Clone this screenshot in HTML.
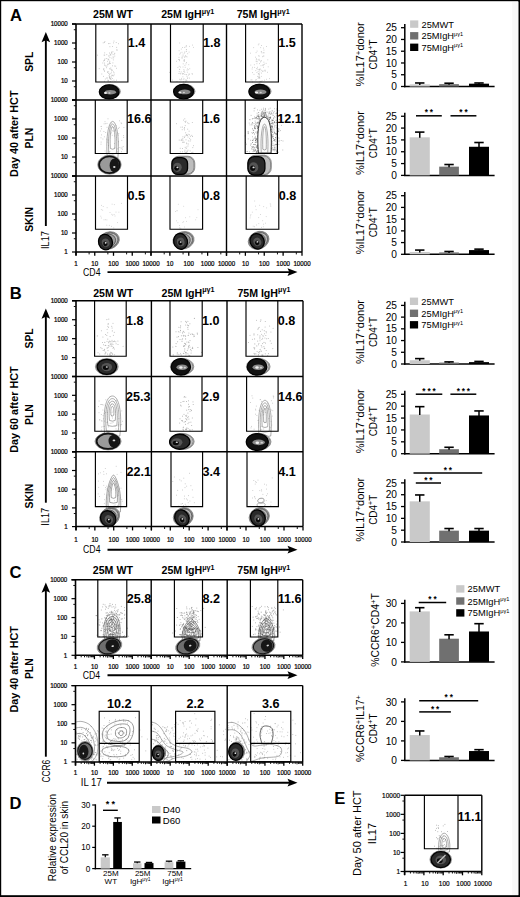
<!DOCTYPE html>
<html><head><meta charset="utf-8"><style>
html,body{margin:0;padding:0;background:#fff;}
svg{display:block;font-family:"Liberation Sans",sans-serif;}
</style></head><body>
<svg width="520" height="897" viewBox="0 0 520 897">
<rect width="520" height="897" fill="#fff"/>
<rect x="0" y="0" width="520" height="1.2" fill="#000"/>
<path d="M114.2 74.8h.01M114.8 56.1h.01M104.6 71.1h.01M109.1 75.6h.01M109.8 77.0h.01M109.5 63.4h.01M109.0 63.8h.01M108.7 73.4h.01M110.3 79.1h.01M118.6 43.7h.01M113.9 80.2h.01M109.8 61.4h.01M109.9 43.5h.01M113.1 54.6h.01M104.7 55.2h.01M110.8 55.1h.01M109.9 57.6h.01M113.4 42.9h.01M111.7 70.8h.01M104.7 52.9h.01M116.9 49.6h.01M108.6 59.4h.01M107.9 80.1h.01M102.8 63.0h.01M111.9 58.2h.01M103.8 68.9h.01M114.7 66.0h.01M103.8 69.0h.01M111.9 75.8h.01M109.6 62.7h.01M111.3 72.8h.01M113.5 71.9h.01M106.0 66.2h.01M112.0 75.2h.01M105.0 65.5h.01M108.5 43.6h.01M115.0 81.5h.01M110.7 69.1h.01M107.1 65.9h.01M110.5 81.5h.01M109.6 77.8h.01M104.1 55.1h.01M99.2 68.6h.01M108.1 64.4h.01M108.4 80.7h.01M114.0 41.1h.01M110.6 78.6h.01M101.8 74.0h.01M110.8 68.0h.01M104.5 63.1h.01M116.6 68.3h.01M111.8 53.6h.01M104.4 60.4h.01M108.9 60.0h.01M103.6 69.8h.01M107.7 64.3h.01M111.8 52.5h.01M109.5 68.8h.01M113.6 75.8h.01M103.5 76.4h.01M108.7 71.8h.01M116.7 47.4h.01M109.7 74.5h.01M109.1 55.9h.01M113.3 59.9h.01M112.6 46.5h.01M111.6 52.1h.01M113.1 56.9h.01M107.9 59.0h.01M104.7 64.9h.01M112.9 62.9h.01M109.6 53.0h.01M115.7 66.2h.01M114.4 54.0h.01M103.2 42.8h.01M104.5 42.5h.01M112.9 51.7h.01M114.1 72.9h.01M106.8 54.6h.01M104.5 81.3h.01M110.4 54.7h.01M104.4 71.0h.01M104.9 59.0h.01M112.2 70.4h.01M112.1 81.1h.01M110.2 78.3h.01M106.3 58.5h.01M116.4 80.2h.01M108.8 56.0h.01M104.9 41.5h.01M109.8 76.5h.01M108.2 80.9h.01M106.8 78.0h.01M108.0 81.2h.01M107.6 61.3h.01M104.4 60.0h.01M110.6 63.4h.01M114.8 53.3h.01M113.7 57.9h.01M112.6 65.8h.01M105.3 79.0h.01M116.2 42.5h.01M110.1 81.6h.01M112.4 75.4h.01M107.5 71.9h.01M111.3 77.1h.01M112.3 78.5h.01M107.5 72.3h.01M97.4 55.2h.01M110.1 73.5h.01M111.1 79.3h.01M110.2 54.2h.01M109.3 77.2h.01M103.6 60.9h.01M107.2 78.0h.01M111.8 69.5h.01M117.0 50.4h.01M106.6 67.7h.01M109.9 46.7h.01M109.7 78.0h.01" stroke="#bdbdbd" stroke-width="0.9" stroke-linecap="round" fill="none"/>
<ellipse cx="109.85" cy="91.5" rx="10.55" ry="6.9" fill="#e2e2e2" stroke="#777" stroke-width="0.7"/>
<ellipse cx="109.85" cy="91.5" rx="9.85" ry="6.57" fill="#bdbdbd" stroke="#555" stroke-width="0.6"/>
<ellipse cx="109.16" cy="91.94" rx="9.85" ry="7.01" fill="#111" stroke="#000" stroke-width="1.2"/>
<ellipse cx="110.34" cy="92.24" rx="5.72" ry="2.31" fill="#8a8a8a"/>
<ellipse cx="105.47" cy="92.96" rx="1.53" ry="1.02" fill="#f0f0f0"/>
<ellipse cx="109.41" cy="92.96" rx="1.09" ry="0.73" fill="#d0d0d0"/>
<path d="M193.4 47.4h.01M181.3 49.1h.01M187.3 72.2h.01M178.4 59.5h.01M179.7 69.4h.01M180.6 53.0h.01M180.4 73.9h.01M185.7 81.9h.01M188.8 64.7h.01M182.4 57.9h.01M184.9 65.4h.01M184.2 60.0h.01M177.9 67.5h.01M189.8 68.7h.01M184.1 60.2h.01M184.9 51.9h.01M169.5 72.4h.01M183.1 54.1h.01M189.6 74.2h.01M179.6 79.3h.01M184.6 61.3h.01M177.0 81.5h.01M186.3 74.8h.01M183.4 73.6h.01M179.2 66.3h.01M185.2 79.9h.01M176.5 61.3h.01M184.0 78.7h.01M187.6 68.9h.01M181.4 79.7h.01M183.2 55.9h.01M179.4 60.2h.01M183.2 79.4h.01M181.7 57.9h.01M186.9 80.8h.01M182.2 73.4h.01M179.2 71.6h.01M183.9 69.6h.01M183.0 67.0h.01M186.5 80.1h.01M182.9 76.8h.01M182.9 74.0h.01M186.2 74.5h.01M182.6 47.5h.01M182.2 56.2h.01M181.4 78.4h.01M187.8 77.8h.01M187.0 56.9h.01M186.0 63.9h.01M192.0 73.7h.01M187.7 53.7h.01M184.8 72.3h.01M192.6 45.1h.01M188.9 74.1h.01M187.0 76.6h.01M184.4 53.0h.01M186.5 62.5h.01M189.6 46.4h.01M186.3 45.9h.01M183.9 61.0h.01M179.1 50.7h.01M179.6 60.7h.01M188.3 75.2h.01M184.8 74.4h.01M189.5 78.1h.01M180.1 73.3h.01M181.2 71.9h.01M184.5 59.9h.01M187.5 78.4h.01M186.6 51.5h.01M180.6 67.1h.01M182.0 52.3h.01M187.0 70.2h.01M183.2 63.8h.01M189.1 52.1h.01M184.6 47.4h.01M186.3 49.7h.01M184.5 71.1h.01M172.6 80.1h.01M183.4 81.8h.01M184.5 57.2h.01M188.3 69.7h.01M178.9 73.5h.01M179.0 57.4h.01M179.7 43.0h.01M186.3 45.9h.01M182.4 73.9h.01M185.1 56.8h.01M186.1 56.4h.01M185.5 55.7h.01M179.6 59.6h.01M183.4 71.3h.01M186.0 81.0h.01M192.5 74.1h.01M179.6 69.4h.01M185.9 47.0h.01M179.8 54.1h.01M186.4 49.6h.01M185.2 67.3h.01M180.4 79.8h.01" stroke="#c6c6c6" stroke-width="0.9" stroke-linecap="round" fill="none"/>
<ellipse cx="184.3" cy="91.3" rx="10.7" ry="7.1" fill="#e2e2e2" stroke="#777" stroke-width="0.7"/>
<ellipse cx="184.3" cy="91.3" rx="9.99" ry="6.75" fill="#bdbdbd" stroke="#555" stroke-width="0.6"/>
<ellipse cx="183.59" cy="91.66" rx="9.99" ry="7.2" fill="#111" stroke="#000" stroke-width="1.2"/>
<ellipse cx="184.79" cy="91.96" rx="5.79" ry="2.38" fill="#8a8a8a"/>
<ellipse cx="179.86" cy="92.5" rx="1.55" ry="1.05" fill="#f0f0f0"/>
<ellipse cx="183.86" cy="92.5" rx="1.11" ry="0.75" fill="#d0d0d0"/>
<path d="M260.4 61.9h.01M265.0 70.1h.01M259.0 43.9h.01M259.0 77.3h.01M259.8 81.9h.01M262.9 65.6h.01M262.4 71.2h.01M256.1 52.6h.01M254.7 67.4h.01M254.0 74.4h.01M259.3 75.0h.01M258.7 69.7h.01M259.7 78.2h.01M261.0 65.7h.01M258.4 73.6h.01M251.9 79.8h.01M254.3 64.7h.01M264.4 80.2h.01M261.3 51.9h.01M258.8 55.7h.01M264.2 70.8h.01M259.1 59.3h.01M256.1 61.2h.01M259.8 69.5h.01M252.5 72.6h.01M255.6 80.0h.01M267.6 72.3h.01M250.4 53.2h.01M266.6 79.3h.01M252.1 69.0h.01M259.4 77.2h.01M257.3 69.1h.01M259.7 77.8h.01M261.4 81.7h.01M266.1 63.4h.01M263.8 52.6h.01M258.1 78.4h.01M266.6 46.5h.01M259.1 73.7h.01M259.2 60.4h.01M268.2 66.8h.01M252.4 82.0h.01M259.4 70.0h.01M261.5 45.5h.01M261.3 70.3h.01M263.9 52.9h.01M267.8 59.8h.01M262.1 80.8h.01M263.1 65.2h.01M257.6 67.3h.01M256.7 68.6h.01M255.8 70.6h.01M264.4 64.2h.01M258.3 73.8h.01M260.3 81.4h.01M263.4 67.3h.01M259.4 63.6h.01M259.8 69.3h.01M265.5 71.0h.01M260.7 47.6h.01M256.9 72.5h.01M256.8 61.3h.01M258.3 44.8h.01M253.7 47.6h.01M255.4 57.2h.01M250.8 65.1h.01M257.1 61.7h.01M258.1 59.7h.01M256.3 59.2h.01M263.9 62.2h.01M260.1 69.0h.01M259.1 74.3h.01M259.0 76.3h.01M262.6 56.7h.01M261.6 73.1h.01M263.9 50.1h.01M258.4 77.2h.01M263.2 64.5h.01M261.5 60.7h.01M258.1 71.6h.01M263.3 56.1h.01M257.1 51.1h.01M257.4 76.4h.01M259.5 77.4h.01M261.3 76.4h.01M263.0 71.3h.01M261.3 51.6h.01M256.5 58.9h.01M260.9 61.0h.01M256.9 63.7h.01M256.4 79.7h.01M262.0 52.9h.01M269.6 78.6h.01M260.3 81.6h.01M251.0 79.9h.01M263.9 56.0h.01M259.8 72.0h.01M252.4 67.3h.01M259.1 56.2h.01M263.5 48.1h.01" stroke="#c6c6c6" stroke-width="0.9" stroke-linecap="round" fill="none"/>
<ellipse cx="260" cy="91.3" rx="11.1" ry="7.1" fill="#e2e2e2" stroke="#777" stroke-width="0.7"/>
<ellipse cx="260" cy="91.3" rx="10.35" ry="6.75" fill="#bdbdbd" stroke="#555" stroke-width="0.6"/>
<ellipse cx="259.25" cy="91.66" rx="10.35" ry="7.2" fill="#111" stroke="#000" stroke-width="1.2"/>
<ellipse cx="260.49" cy="91.96" rx="6" ry="2.38" fill="#8a8a8a"/>
<ellipse cx="256.55" cy="92.5" rx="1.61" ry="1.05" fill="#f0f0f0"/>
<ellipse cx="260.69" cy="92.5" rx="1.15" ry="0.75" fill="#d0d0d0"/>
<path d="M105.7 123.7h.01M109.5 125.9h.01M101.6 134.9h.01M122.0 147.3h.01M118.4 128.5h.01M112.9 130.5h.01M104.1 123.8h.01M105.1 151.0h.01M119.9 147.5h.01M119.2 127.4h.01M107.4 142.1h.01M117.6 148.9h.01M121.1 122.9h.01M114.5 143.5h.01M112.1 126.8h.01M111.4 123.1h.01M122.4 149.2h.01M113.1 131.4h.01M121.8 140.4h.01M121.2 148.7h.01M112.2 135.3h.01M114.4 135.9h.01M103.9 131.5h.01M119.5 120.8h.01M101.1 142.1h.01M106.7 139.2h.01M111.3 132.9h.01M123.9 127.5h.01M109.9 127.8h.01M115.2 130.5h.01M108.5 145.7h.01M107.7 140.0h.01M121.7 123.6h.01M101.5 128.8h.01M118.4 141.7h.01M105.7 132.5h.01M104.3 136.8h.01M101.0 144.2h.01M121.5 151.7h.01M117.6 151.9h.01M100.4 131.0h.01M123.2 146.6h.01M109.9 151.4h.01M114.9 147.8h.01M107.0 127.3h.01M110.7 125.1h.01M109.2 151.9h.01M108.0 118.8h.01M101.1 126.5h.01M118.8 133.5h.01M107.0 123.4h.01M123.6 135.6h.01M105.0 121.7h.01M101.3 126.4h.01M116.2 125.7h.01M101.0 137.8h.01M106.0 152.9h.01M102.9 139.0h.01M118.6 135.1h.01M123.7 137.4h.01" stroke="#c4c4c4" stroke-width="1" stroke-linecap="round" fill="none"/>
<path d="M107.32,158 C105.47,136.04 108.97,121.4 112.6,121.4 C116.23,121.4 119.73,136.04 117.88,158 Q112.6,159.5 107.32,158 Z" fill="none" stroke="#767676" stroke-width="0.6"/>
<path d="M108.84,153.24 C107.52,135.7 110.01,124 112.6,124 C115.19,124 117.68,135.7 116.36,153.24 Q112.6,154.74 108.84,153.24 Z" fill="none" stroke="#767676" stroke-width="0.6"/>
<path d="M110.36,148.48 C109.58,135.35 111.06,126.6 112.6,126.6 C114.14,126.6 115.62,135.35 114.84,148.48 Q112.6,149.98 110.36,148.48 Z" fill="none" stroke="#767676" stroke-width="0.6"/>
<ellipse cx="109.45" cy="164.7" rx="11.75" ry="9.5" fill="#e2e2e2" stroke="#777" stroke-width="0.7"/>
<ellipse cx="109.45" cy="164.7" rx="10.93" ry="8.91" fill="#bdbdbd" stroke="#555" stroke-width="0.6"/>
<ellipse cx="109.45" cy="164.7" rx="10.33" ry="8.32" fill="#9a9a9a" stroke="#111" stroke-width="1.76"/>
<ellipse cx="114.31" cy="165.41" rx="4.68" ry="6.97" fill="#161616"/>
<ellipse cx="114.31" cy="167.08" rx="1.21" ry="0.99" fill="#d8d8d8"/>
<path d="M182.5 148.5h.01M182.6 151.8h.01M185.6 122.2h.01M179.2 140.1h.01M190.1 150.9h.01M184.5 127.5h.01M183.8 142.3h.01M186.4 143.1h.01M188.1 134.3h.01M186.2 151.2h.01M186.2 148.5h.01M184.2 128.7h.01M184.8 118.8h.01M184.9 150.2h.01M186.5 152.6h.01M188.0 150.2h.01M184.1 142.2h.01M193.4 145.7h.01M188.0 146.0h.01M192.9 152.3h.01M188.0 137.0h.01M184.4 129.9h.01M186.7 135.0h.01M186.9 143.8h.01M190.5 136.3h.01M186.1 135.3h.01M187.4 135.5h.01M182.9 140.6h.01M185.7 152.5h.01M185.0 121.6h.01M186.0 121.1h.01M180.2 148.3h.01M183.4 120.1h.01M188.9 123.6h.01M189.1 131.2h.01M192.8 147.6h.01M192.5 136.5h.01M182.9 136.8h.01M180.9 127.2h.01M185.2 147.4h.01M187.7 122.8h.01M180.3 151.8h.01M188.3 144.0h.01M187.5 151.3h.01M182.4 142.3h.01M191.8 135.4h.01M185.2 125.6h.01M187.7 129.2h.01M182.2 129.7h.01M176.6 123.7h.01M189.7 138.4h.01M185.7 132.8h.01M181.3 139.8h.01M182.9 138.8h.01M192.3 122.5h.01M188.3 140.9h.01M186.8 147.0h.01M184.7 151.9h.01M182.4 127.1h.01M182.1 139.2h.01M189.4 134.8h.01M190.7 139.8h.01M191.9 152.5h.01M186.0 139.8h.01M181.2 140.5h.01M186.4 134.7h.01M184.6 137.5h.01M187.0 152.8h.01M190.1 141.1h.01M184.9 136.3h.01" stroke="#b8b8b8" stroke-width="0.9" stroke-linecap="round" fill="none"/>
<rect x="171.9" y="156.2" width="22.9" height="18.4" rx="6.9" fill="#e2e2e2" stroke="#777" stroke-width="0.7"/>
<rect x="172.69" y="156.76" width="21.33" height="17.28" rx="6.48" fill="#bdbdbd" stroke="#555" stroke-width="0.6"/>
<rect x="171.9" y="157.53" width="15.64" height="16.9" rx="5.87" fill="#2a2a2a" stroke="#000" stroke-width="1.3"/>
<ellipse cx="177.43" cy="167.32" rx="4.3" ry="4.65" fill="#555"/>
<ellipse cx="176.64" cy="168.16" rx="2.35" ry="2.53" fill="#0a0a0a"/>
<ellipse cx="177.43" cy="167.32" rx="1.07" ry="0.86" fill="#ddd"/>
<path d="M268.0 133.2h.01M252.0 123.4h.01M274.8 132.6h.01M264.5 144.1h.01M256.1 123.9h.01M273.1 145.7h.01M263.6 135.4h.01M257.3 141.1h.01M267.6 145.8h.01M272.8 123.6h.01M268.0 147.3h.01M254.4 126.8h.01M275.0 145.8h.01M271.4 131.6h.01M268.4 139.3h.01M267.1 124.8h.01M273.4 120.5h.01M261.7 140.1h.01M254.1 149.7h.01M277.0 134.4h.01M257.8 145.9h.01M256.0 152.1h.01M271.0 138.0h.01M265.7 125.4h.01M261.9 148.6h.01M262.9 134.9h.01M272.2 125.7h.01M271.4 120.2h.01M260.7 120.9h.01M264.9 148.1h.01M264.1 144.8h.01M263.4 109.7h.01M257.0 138.7h.01M277.7 125.5h.01M259.5 116.6h.01M269.3 153.0h.01M271.4 143.6h.01M266.9 129.5h.01M269.7 152.3h.01M263.9 149.1h.01M257.4 131.6h.01M251.6 146.8h.01M266.9 132.6h.01M256.4 142.0h.01M262.0 143.6h.01M266.1 123.6h.01M252.3 119.0h.01M265.4 110.1h.01M271.2 127.9h.01M271.0 123.1h.01M249.2 123.1h.01M269.3 130.1h.01M271.5 123.7h.01M257.9 132.8h.01M260.7 128.6h.01M265.0 125.4h.01M266.6 140.2h.01M258.7 151.9h.01M270.5 138.0h.01M261.3 126.1h.01M258.0 145.4h.01M269.3 150.7h.01M264.3 131.7h.01M265.3 112.6h.01M276.3 115.8h.01M266.8 142.5h.01M253.8 147.6h.01M277.1 112.9h.01M270.5 138.4h.01M280.4 130.6h.01M267.1 133.5h.01M251.9 132.6h.01M269.9 117.6h.01M268.4 138.9h.01M261.4 139.0h.01M262.1 115.0h.01M272.4 132.3h.01M270.7 149.3h.01M257.0 116.6h.01M256.6 146.9h.01M272.9 149.8h.01M269.4 149.6h.01M270.5 141.6h.01M259.7 145.3h.01M275.4 149.7h.01M277.2 131.4h.01M265.9 124.1h.01M257.0 142.3h.01M276.1 152.2h.01M269.4 124.5h.01M267.2 147.8h.01M263.4 124.2h.01M271.8 150.2h.01M262.9 110.9h.01M275.6 139.4h.01M271.1 135.3h.01M268.7 128.3h.01M265.4 112.2h.01M276.4 151.2h.01M264.0 141.9h.01M262.9 143.0h.01M266.8 115.9h.01M257.0 133.6h.01M262.2 113.7h.01M272.1 110.8h.01M268.3 134.9h.01M267.8 117.9h.01M269.1 136.6h.01M260.7 121.5h.01M267.7 136.5h.01M270.7 118.6h.01M260.6 125.9h.01M265.1 145.1h.01M273.6 136.7h.01M266.9 128.8h.01M270.2 131.4h.01M245.1 135.9h.01M279.1 140.4h.01M262.4 145.8h.01M254.6 128.4h.01M255.1 118.6h.01M248.2 138.9h.01M262.6 111.4h.01M266.1 144.1h.01M272.8 115.1h.01M271.8 128.2h.01M273.1 145.1h.01M266.3 121.7h.01M250.0 124.9h.01M258.2 132.6h.01M262.2 118.8h.01M250.7 140.3h.01M267.0 152.4h.01M266.8 112.1h.01M274.7 140.9h.01M258.9 143.0h.01M261.1 131.5h.01M259.8 120.5h.01M272.2 145.2h.01M255.1 121.1h.01M260.0 145.3h.01M261.6 143.5h.01M275.5 141.2h.01M264.2 144.8h.01M272.3 110.9h.01M269.7 128.2h.01M277.1 110.6h.01M275.9 150.1h.01M271.6 146.9h.01M262.1 112.2h.01M265.1 113.2h.01M265.3 108.4h.01M265.9 137.5h.01M261.9 123.9h.01M269.4 119.5h.01M269.9 152.2h.01M257.5 136.4h.01M270.8 139.0h.01M259.0 117.2h.01M265.2 148.9h.01M267.2 146.0h.01M271.6 136.9h.01M276.6 134.4h.01M260.4 116.2h.01M257.9 148.0h.01M260.1 135.1h.01M260.1 132.6h.01M252.5 147.2h.01M267.8 150.1h.01M262.1 148.2h.01M268.4 122.9h.01M259.5 117.0h.01M255.0 128.0h.01M274.5 108.7h.01M263.5 138.8h.01M267.2 144.4h.01M267.2 128.8h.01M263.2 116.6h.01M275.8 134.7h.01M257.4 151.3h.01M252.5 133.4h.01M263.0 128.1h.01M277.9 137.6h.01M264.0 148.2h.01M257.1 113.2h.01M254.4 116.9h.01M271.9 142.6h.01M270.5 118.1h.01M261.1 141.3h.01M264.4 144.9h.01M281.2 140.5h.01M274.6 116.5h.01M262.1 142.9h.01M267.8 150.0h.01M266.5 139.1h.01M268.5 147.9h.01M264.0 115.7h.01M256.8 138.5h.01M252.4 136.8h.01M268.0 143.1h.01M274.2 149.8h.01M262.7 124.0h.01M279.0 110.7h.01M264.6 152.8h.01M262.1 124.0h.01M265.2 142.7h.01M257.2 115.2h.01M271.0 147.0h.01M255.2 117.7h.01M274.0 140.6h.01M257.5 109.9h.01M265.9 135.1h.01M266.2 131.6h.01M261.7 109.3h.01M283.0 141.0h.01M263.8 133.0h.01M267.7 142.0h.01M266.0 145.4h.01M278.4 131.2h.01M263.5 123.1h.01M258.3 135.7h.01M262.8 148.8h.01M245.6 142.5h.01M270.2 111.8h.01M264.3 138.8h.01M254.2 108.5h.01M270.4 135.4h.01M258.9 118.9h.01M265.6 120.9h.01M264.8 125.4h.01M265.9 142.9h.01M266.5 141.9h.01M268.1 142.9h.01M261.2 137.7h.01M276.5 127.8h.01M272.2 119.7h.01M271.0 121.4h.01M279.0 128.9h.01M258.2 140.1h.01M262.6 114.4h.01M256.1 138.7h.01M268.5 138.3h.01M263.3 152.0h.01M274.4 133.1h.01M256.3 123.0h.01M254.0 123.6h.01M270.3 130.7h.01M263.4 128.4h.01M273.3 149.2h.01M264.1 118.5h.01M262.7 126.0h.01M274.5 140.4h.01M261.7 115.8h.01M264.4 131.3h.01M260.2 123.5h.01M263.6 108.2h.01M263.9 129.1h.01M270.5 137.6h.01M271.2 143.4h.01M255.6 124.4h.01M253.2 149.1h.01M264.8 122.4h.01M266.8 134.5h.01M264.7 148.3h.01M271.5 139.5h.01M274.6 148.0h.01M267.2 145.4h.01M262.6 117.1h.01M269.7 133.4h.01M269.3 113.3h.01M263.8 117.1h.01M268.8 115.1h.01M269.3 126.4h.01M265.2 130.5h.01M261.2 133.3h.01M255.4 126.2h.01M261.1 119.3h.01M261.5 115.9h.01M262.6 121.5h.01M261.1 127.5h.01M255.2 137.6h.01M260.5 137.7h.01M270.0 143.3h.01M279.0 129.9h.01M257.2 116.2h.01M270.1 139.7h.01M270.0 133.8h.01M260.7 123.0h.01M270.2 127.9h.01M260.8 142.3h.01M253.9 130.1h.01M275.4 137.5h.01M261.3 132.7h.01M273.3 115.4h.01M267.7 136.9h.01M261.8 140.9h.01M258.4 131.9h.01M265.7 153.0h.01M279.0 138.2h.01M265.6 133.1h.01M258.0 146.8h.01M256.9 152.2h.01M258.0 128.0h.01M263.9 149.8h.01M261.8 137.4h.01M264.8 116.0h.01M258.7 138.4h.01M272.8 135.3h.01M269.1 151.9h.01M256.1 146.1h.01M263.4 127.9h.01M276.7 151.0h.01M259.2 119.2h.01M259.5 147.4h.01M263.8 145.8h.01M265.5 108.8h.01M266.2 139.7h.01M265.0 136.4h.01M248.2 132.6h.01M266.2 120.7h.01M267.9 112.1h.01M264.4 121.5h.01M271.7 127.7h.01M263.4 128.3h.01M256.4 139.4h.01M273.0 124.2h.01M269.2 136.4h.01M276.5 133.9h.01M270.3 135.0h.01M282.8 150.0h.01M259.9 110.3h.01M255.6 149.9h.01M266.2 114.1h.01M262.3 140.9h.01M262.2 152.7h.01M260.5 115.1h.01M257.2 126.5h.01M261.1 140.6h.01M253.4 144.5h.01M268.8 109.1h.01M260.5 125.0h.01M272.3 137.9h.01M267.7 134.3h.01M265.1 121.2h.01M266.4 137.7h.01M271.5 140.0h.01M257.8 131.1h.01M259.7 148.2h.01M274.3 150.9h.01M253.2 140.7h.01M267.9 124.4h.01M274.8 125.2h.01M263.0 131.3h.01M265.6 120.2h.01M265.3 144.0h.01M271.9 140.0h.01M260.1 129.9h.01M274.8 127.8h.01M259.7 118.1h.01M267.6 151.8h.01M256.1 138.3h.01M258.7 133.9h.01M263.9 113.1h.01M263.9 135.3h.01M263.4 121.0h.01M264.7 125.4h.01M277.6 111.4h.01M261.8 129.1h.01M262.3 124.7h.01M267.6 152.6h.01M269.3 144.9h.01M261.7 116.8h.01M262.5 139.6h.01M262.3 137.8h.01M273.7 149.8h.01M264.1 122.5h.01M261.1 113.3h.01M261.1 152.4h.01M270.9 125.9h.01M265.6 120.5h.01M271.8 128.9h.01M255.3 136.4h.01M265.7 140.1h.01M262.4 147.6h.01M257.8 122.8h.01M259.2 118.8h.01M267.4 124.5h.01M270.4 144.9h.01M266.4 145.6h.01M267.6 131.9h.01M274.2 111.4h.01M273.0 128.4h.01M257.5 122.3h.01M269.2 150.4h.01M259.1 139.4h.01M261.5 128.8h.01M255.7 122.7h.01M261.0 148.3h.01M278.1 130.6h.01M273.5 134.2h.01M271.1 126.6h.01M269.7 138.4h.01M263.2 113.5h.01M261.5 149.2h.01M267.4 143.0h.01M274.6 145.0h.01M274.5 147.2h.01M264.8 111.1h.01M279.0 141.6h.01M265.2 142.1h.01M265.6 120.5h.01M254.9 118.4h.01M274.7 140.4h.01M265.5 152.7h.01M264.6 128.7h.01M268.4 150.9h.01M265.7 139.4h.01M278.9 144.4h.01M274.0 129.6h.01M272.9 143.4h.01M270.1 136.5h.01M266.2 123.9h.01M261.3 123.2h.01M263.7 139.3h.01M255.3 128.1h.01M281.5 125.4h.01M256.4 125.9h.01M270.3 152.2h.01M267.4 148.3h.01M273.3 123.8h.01M265.4 147.5h.01M272.8 147.5h.01M271.4 113.8h.01M255.8 150.1h.01M265.2 134.1h.01M265.5 109.8h.01M268.9 152.4h.01M265.7 124.0h.01M274.5 121.5h.01M251.1 115.4h.01M266.6 141.5h.01M274.3 126.3h.01M265.0 110.3h.01M261.9 128.0h.01M257.2 151.1h.01M253.1 149.6h.01M274.0 131.1h.01M262.7 112.2h.01M250.4 145.2h.01M258.0 132.6h.01M256.9 152.8h.01M255.2 142.5h.01M249.6 151.9h.01M255.0 108.1h.01M270.2 108.2h.01M263.2 125.1h.01M264.9 145.8h.01M264.9 128.4h.01M273.0 120.5h.01M271.8 127.3h.01M259.3 143.1h.01M267.9 120.0h.01M267.4 130.9h.01M257.3 126.5h.01M269.0 130.3h.01M261.9 123.4h.01M265.6 141.1h.01M265.5 146.2h.01M261.4 146.3h.01M271.4 112.4h.01M262.8 122.7h.01M275.8 122.8h.01M259.0 118.2h.01M263.5 112.3h.01M277.2 122.4h.01M263.2 116.1h.01M255.9 150.7h.01M263.4 128.9h.01M273.7 117.8h.01M274.4 122.6h.01M267.2 151.7h.01M278.4 128.8h.01M257.1 131.9h.01M256.5 146.0h.01M260.0 118.6h.01M275.0 117.4h.01M266.9 151.7h.01M268.1 122.6h.01M263.9 148.2h.01M263.6 143.6h.01M254.1 110.9h.01M246.4 144.2h.01M276.7 109.0h.01M276.0 125.8h.01M257.0 145.6h.01M262.0 113.2h.01M265.5 151.3h.01M263.7 145.1h.01M266.9 116.2h.01M264.8 114.6h.01" stroke="#a8a8a8" stroke-width="0.84" stroke-linecap="round" fill="none"/>
<path d="M258.1 147.0h.01M264.7 129.5h.01M261.2 135.9h.01M271.4 131.0h.01M260.8 122.7h.01M267.0 141.1h.01M270.5 141.2h.01M259.8 130.2h.01M261.9 144.3h.01M265.6 128.5h.01M260.9 130.3h.01M278.1 152.3h.01M258.3 140.9h.01M258.8 123.3h.01M263.6 132.9h.01M260.7 120.9h.01M269.0 113.7h.01M266.2 132.0h.01M275.1 133.5h.01M249.9 119.7h.01M263.5 125.1h.01M266.0 140.7h.01M263.6 135.9h.01M263.7 133.5h.01M262.3 132.4h.01M266.1 119.4h.01M261.7 140.9h.01M257.8 132.9h.01M269.1 124.4h.01M263.2 131.6h.01M267.0 145.5h.01M263.0 151.1h.01M267.8 134.5h.01M260.0 149.0h.01M262.3 123.3h.01M255.7 140.2h.01M264.2 124.6h.01M260.8 148.0h.01M259.8 135.9h.01M262.4 126.8h.01M264.5 132.7h.01M266.9 121.7h.01M274.5 139.6h.01M257.0 118.8h.01M262.1 131.5h.01M262.8 120.8h.01M262.5 127.8h.01M264.5 125.8h.01M253.2 139.2h.01M266.9 146.1h.01M263.6 117.5h.01M258.4 116.9h.01M268.5 130.2h.01M269.0 150.8h.01M265.3 141.4h.01M267.0 140.2h.01M268.8 134.3h.01M266.0 147.4h.01M266.3 137.7h.01M254.5 151.1h.01M260.4 121.4h.01M265.3 147.7h.01M260.4 152.3h.01M258.9 141.1h.01M261.7 150.7h.01M271.7 123.3h.01M269.4 120.0h.01M262.7 136.7h.01M265.6 127.3h.01M258.8 145.6h.01M270.5 131.1h.01M269.0 140.4h.01M260.4 124.5h.01M264.3 147.3h.01M260.6 139.7h.01M265.6 145.6h.01M269.2 122.0h.01M267.4 145.6h.01M273.6 138.5h.01M267.2 137.0h.01M260.6 134.6h.01M263.6 122.9h.01M260.3 140.3h.01M269.8 129.6h.01M258.0 145.9h.01M258.7 112.6h.01M261.4 147.3h.01M264.5 139.3h.01M258.1 136.8h.01M267.0 124.6h.01M266.0 115.3h.01M263.6 128.4h.01M267.5 140.5h.01M268.3 132.2h.01M268.9 151.1h.01M263.7 152.4h.01M255.9 117.9h.01M261.8 150.9h.01M260.3 150.6h.01M266.1 132.7h.01M265.5 146.6h.01M265.1 123.3h.01M263.1 147.2h.01M262.9 152.1h.01M258.5 149.8h.01M271.1 125.8h.01M247.1 151.5h.01M267.4 138.7h.01M263.5 147.7h.01M264.2 151.3h.01M261.2 120.7h.01M263.1 141.2h.01M262.2 148.0h.01M258.2 115.3h.01M266.8 129.1h.01M264.6 116.3h.01M264.7 147.1h.01M267.9 137.4h.01M266.3 122.1h.01M270.2 152.6h.01M267.6 139.0h.01M266.5 149.7h.01M263.0 140.3h.01M262.3 144.7h.01M271.0 126.5h.01M261.6 147.6h.01M261.2 124.3h.01M254.5 147.9h.01M261.0 126.7h.01M264.9 119.3h.01M266.7 141.1h.01M262.8 126.6h.01M264.5 148.2h.01M269.2 117.4h.01M261.1 135.8h.01M267.3 140.8h.01M269.2 148.4h.01M259.2 149.3h.01M264.9 117.2h.01M263.5 137.2h.01M266.1 137.5h.01M269.0 137.5h.01M265.4 125.1h.01M255.9 139.0h.01M259.2 144.2h.01M265.4 143.9h.01M263.2 118.4h.01M259.8 139.4h.01M264.4 119.3h.01M268.8 117.9h.01M252.5 140.5h.01M268.9 126.6h.01M267.6 142.5h.01M263.5 117.7h.01M275.1 147.9h.01M261.5 131.9h.01M258.9 150.6h.01M266.2 139.3h.01M264.7 133.5h.01M275.4 144.4h.01M272.6 120.6h.01M261.5 147.3h.01M248.1 131.7h.01M269.7 123.2h.01M277.2 133.8h.01M276.0 113.7h.01M251.9 124.8h.01M264.4 150.8h.01M267.9 124.6h.01M264.4 121.6h.01M264.6 125.1h.01M264.6 146.7h.01M259.8 140.8h.01M266.6 121.2h.01M265.1 137.1h.01M260.8 125.1h.01M264.3 132.3h.01M267.3 133.9h.01M272.2 130.0h.01M270.0 142.5h.01M265.0 152.3h.01M265.9 126.0h.01M276.0 133.6h.01M265.3 112.9h.01M261.6 152.0h.01M261.0 147.3h.01M260.4 129.5h.01M257.9 150.4h.01M267.9 116.4h.01M263.0 117.2h.01M257.7 146.9h.01M263.4 150.1h.01M260.5 132.5h.01M268.1 150.1h.01M265.0 124.1h.01M267.1 150.6h.01M272.3 126.5h.01M278.7 131.6h.01M270.2 118.1h.01M276.7 122.4h.01M262.5 132.3h.01M259.1 134.7h.01M266.7 138.4h.01M262.7 124.6h.01M259.6 133.1h.01M264.6 129.1h.01M267.8 144.5h.01M264.8 132.1h.01M266.2 144.2h.01M266.2 123.7h.01M270.2 117.2h.01M262.3 129.4h.01M253.9 150.4h.01M254.3 125.7h.01M259.5 149.3h.01M260.3 123.2h.01M258.0 135.8h.01M263.8 135.4h.01M267.6 151.6h.01M264.9 128.9h.01M265.2 112.7h.01M264.3 148.4h.01M261.8 112.1h.01M273.9 140.2h.01M266.5 148.5h.01M261.1 144.2h.01M266.9 123.7h.01M260.3 132.0h.01M262.9 149.7h.01M267.8 123.1h.01M260.7 135.3h.01M260.4 136.3h.01M252.4 142.5h.01M264.9 146.8h.01M264.5 144.1h.01M270.5 143.1h.01M265.0 119.2h.01M263.3 147.0h.01M261.7 134.1h.01M266.7 122.7h.01M264.1 147.6h.01M259.3 135.3h.01M265.8 148.6h.01M264.5 119.3h.01M260.8 132.8h.01M264.7 149.6h.01M265.2 137.5h.01M269.5 119.5h.01M260.2 152.3h.01M264.0 150.1h.01M253.0 118.5h.01M263.2 114.2h.01M255.5 150.0h.01M270.3 152.5h.01M266.4 145.7h.01M259.8 145.2h.01M255.3 144.6h.01M264.9 123.5h.01M267.8 146.3h.01M265.7 133.1h.01M261.2 123.5h.01M272.0 126.5h.01M271.9 126.2h.01M272.4 132.1h.01M261.5 149.8h.01M263.4 146.7h.01M266.9 148.1h.01M266.3 124.9h.01M257.4 128.5h.01M271.0 137.8h.01M257.4 145.0h.01M268.2 146.8h.01M265.8 123.5h.01M271.4 152.1h.01M263.2 126.2h.01M270.7 138.7h.01M264.0 113.4h.01M266.1 143.8h.01M264.8 143.7h.01M267.3 147.3h.01M264.1 149.9h.01M270.9 148.7h.01M257.0 140.0h.01M266.1 145.6h.01M267.7 132.2h.01M263.2 151.4h.01M263.9 147.6h.01M268.6 129.4h.01M262.9 152.5h.01M263.4 139.8h.01M267.0 119.2h.01M265.7 138.1h.01M262.6 145.2h.01M258.2 148.5h.01M258.5 141.6h.01M264.2 143.5h.01M269.5 132.9h.01M259.6 141.6h.01M266.6 129.3h.01M258.1 136.8h.01M261.3 149.2h.01M263.8 116.7h.01M267.1 129.1h.01M261.8 149.9h.01M258.4 116.4h.01M267.3 135.5h.01M258.9 130.6h.01M261.8 116.3h.01M267.0 145.1h.01M265.4 132.6h.01M271.4 135.9h.01M259.8 141.3h.01M263.0 118.2h.01M254.6 134.0h.01M271.2 135.4h.01M269.2 147.2h.01M272.3 120.4h.01M270.3 117.5h.01M263.9 118.5h.01M268.8 148.0h.01M271.6 136.3h.01M263.1 132.6h.01M263.4 137.2h.01M270.0 144.8h.01M261.1 147.9h.01M268.1 143.6h.01M269.5 130.2h.01M267.3 126.6h.01M261.0 137.5h.01M263.7 122.6h.01M264.0 142.3h.01M267.7 124.9h.01M266.4 119.9h.01M261.4 118.6h.01M267.8 133.9h.01M259.0 118.9h.01M263.3 149.4h.01M261.3 143.2h.01M260.7 147.4h.01M261.7 137.6h.01M261.7 143.3h.01M270.9 148.7h.01M260.5 123.7h.01M257.9 148.5h.01M260.9 149.6h.01M263.2 122.3h.01M253.1 151.7h.01M259.1 134.8h.01M274.3 132.3h.01M259.3 120.7h.01M273.7 112.9h.01M270.5 136.0h.01M262.2 128.0h.01M266.3 116.5h.01M263.3 125.2h.01M271.5 134.2h.01M269.1 137.9h.01M271.1 146.3h.01M263.4 151.5h.01M266.8 120.1h.01M256.9 139.6h.01M261.6 114.0h.01M274.7 122.2h.01M262.9 135.5h.01M264.9 127.7h.01M262.1 150.1h.01M255.5 140.5h.01M265.2 143.1h.01M264.1 112.7h.01M272.3 127.5h.01M273.7 118.8h.01M261.5 141.8h.01M274.1 149.6h.01M263.4 122.1h.01M265.4 118.2h.01M257.6 127.0h.01M266.6 138.1h.01M262.7 126.7h.01M272.7 136.3h.01M263.6 130.8h.01M270.2 147.3h.01M254.2 144.5h.01M258.1 126.5h.01M265.2 125.4h.01M258.0 116.5h.01M266.0 134.5h.01M255.4 128.7h.01M271.2 144.5h.01M271.5 141.0h.01M256.5 152.1h.01M266.7 127.5h.01M264.4 145.2h.01M260.5 130.0h.01M261.7 148.8h.01M279.3 119.6h.01M275.7 137.7h.01M248.2 133.6h.01M255.4 140.3h.01M264.8 123.8h.01M270.7 117.2h.01M260.0 137.8h.01M256.3 151.8h.01M267.8 136.2h.01M272.0 141.6h.01M259.3 144.8h.01M262.6 146.2h.01M261.4 150.8h.01M263.1 118.8h.01M269.3 132.5h.01M268.2 141.2h.01M270.5 114.1h.01M266.9 131.4h.01M264.5 129.5h.01M260.6 140.1h.01M267.4 121.8h.01M270.3 143.5h.01M259.8 149.8h.01M269.3 139.6h.01M258.6 152.5h.01M259.1 121.8h.01M265.4 146.5h.01M271.9 113.7h.01M261.0 121.7h.01M266.7 138.5h.01M262.9 150.4h.01M268.5 132.0h.01M252.4 147.0h.01M259.0 130.0h.01M265.4 145.2h.01M267.8 122.2h.01M266.1 115.0h.01M256.1 147.7h.01M263.7 120.9h.01M262.6 141.6h.01M263.1 146.7h.01M261.2 149.0h.01M263.4 129.2h.01M270.3 124.0h.01M263.9 139.9h.01M260.5 137.3h.01M264.4 144.1h.01M266.7 150.8h.01M269.8 137.7h.01M254.9 138.2h.01M260.2 150.7h.01M260.0 142.2h.01M266.1 117.9h.01M265.8 127.3h.01M258.8 139.4h.01M268.8 140.8h.01M265.9 124.1h.01M259.6 125.7h.01M267.4 118.0h.01M266.3 132.4h.01M257.1 125.4h.01M260.5 145.3h.01M265.8 148.7h.01M261.4 138.8h.01M264.4 127.2h.01M252.5 128.8h.01M264.0 136.3h.01M274.3 122.6h.01M266.1 131.5h.01M266.7 152.5h.01M271.4 129.2h.01M262.6 139.6h.01M262.0 138.3h.01M263.5 130.6h.01M261.8 146.5h.01M271.3 129.6h.01M264.8 148.9h.01M270.5 142.0h.01M267.8 126.4h.01M263.8 117.8h.01M259.9 138.5h.01M267.5 138.0h.01M260.2 119.8h.01M251.8 148.9h.01M255.9 132.2h.01M267.2 126.2h.01M257.2 118.6h.01M256.4 117.5h.01M269.3 112.1h.01M261.6 137.8h.01M269.9 140.2h.01M262.5 120.2h.01M261.7 143.0h.01M258.9 114.9h.01M268.2 137.2h.01M269.0 143.9h.01M266.2 151.0h.01M269.1 147.2h.01M263.5 119.7h.01M271.1 138.9h.01M260.2 142.7h.01M254.7 128.2h.01M264.7 150.0h.01M262.9 150.2h.01M266.7 143.3h.01M261.8 125.0h.01M265.3 114.0h.01M276.1 120.3h.01M266.7 145.0h.01M257.3 127.8h.01M255.7 142.2h.01M271.6 148.8h.01M266.9 133.0h.01M266.4 143.0h.01M269.5 121.3h.01M257.6 123.0h.01M270.1 145.4h.01M256.8 147.2h.01M264.2 120.6h.01M267.3 135.6h.01M260.4 139.8h.01M265.1 145.4h.01M265.7 130.0h.01M263.3 134.5h.01M272.3 136.9h.01M263.8 137.8h.01M264.3 136.0h.01M267.0 148.1h.01M276.7 113.1h.01M269.1 118.7h.01M269.2 125.6h.01M271.4 144.7h.01M266.8 135.6h.01M263.0 117.8h.01M263.8 122.0h.01M252.5 122.7h.01M261.6 115.9h.01M263.2 140.6h.01M267.3 131.9h.01M264.6 115.6h.01M262.2 149.0h.01M266.1 144.2h.01M264.5 134.5h.01M254.5 127.2h.01M271.4 146.2h.01M265.5 130.6h.01M267.1 142.5h.01M260.9 146.1h.01M266.6 129.1h.01M276.5 144.5h.01M258.3 134.4h.01M266.3 123.7h.01M267.6 147.9h.01M260.3 133.4h.01M268.4 146.1h.01M258.6 152.6h.01M264.7 127.9h.01M271.9 134.5h.01M263.9 115.2h.01M269.4 133.4h.01M265.6 128.4h.01M265.6 143.1h.01M253.7 146.7h.01M266.0 140.7h.01M272.9 122.3h.01M264.7 152.7h.01M272.0 148.8h.01M265.7 142.0h.01M262.7 145.7h.01M253.4 132.6h.01M264.0 141.2h.01M268.0 139.9h.01M262.7 151.7h.01M257.2 152.9h.01M266.4 147.9h.01M271.2 150.0h.01M269.9 123.8h.01M263.2 152.0h.01M265.1 118.7h.01M264.8 123.5h.01M261.5 142.8h.01M253.3 130.6h.01M262.8 126.8h.01M260.3 147.0h.01M259.5 135.0h.01M258.3 122.4h.01M269.8 128.4h.01M263.8 122.3h.01M264.0 130.6h.01M262.0 151.2h.01M251.1 143.9h.01M261.4 115.1h.01M261.7 141.3h.01M262.6 150.4h.01M261.4 146.7h.01M264.0 129.0h.01M269.6 148.0h.01M264.5 114.8h.01M265.6 125.8h.01M269.6 151.4h.01M266.5 152.9h.01M262.7 116.7h.01M260.6 134.8h.01M265.5 134.3h.01M272.5 123.0h.01M265.7 148.8h.01" stroke="#666" stroke-width="0.76" stroke-linecap="round" fill="none"/>
<path d="M258.4,153 C257,135 257.8,117.5 264.6,117.3 C271,117.5 272,135 271,153 Z" fill="#fafafa" stroke="#222" stroke-width="0.9"/>
<path d="M261.3,153 C260.18,135.6 262.5,124 264.5,124 C266.5,124 268.82,135.6 267.7,153 Q264.5,154.5 261.3,153 Z" fill="none" stroke="#777" stroke-width="0.6"/>
<path d="M262.82,149.23 C262.23,135.65 263.45,126.6 264.5,126.6 C265.55,126.6 266.77,135.65 266.18,149.23 Q264.5,150.73 262.82,149.23 Z" fill="none" stroke="#777" stroke-width="0.6"/>
<rect x="247.9" y="155.2" width="23.5" height="20.2" rx="7.57" fill="#e2e2e2" stroke="#777" stroke-width="0.7"/>
<rect x="248.71" y="155.85" width="21.87" height="18.9" rx="7.09" fill="#bdbdbd" stroke="#555" stroke-width="0.6"/>
<rect x="247.9" y="156.69" width="17.01" height="18.48" rx="6.38" fill="#2a2a2a" stroke="#000" stroke-width="1.3"/>
<ellipse cx="253.57" cy="167.4" rx="4.68" ry="5.08" fill="#555"/>
<ellipse cx="252.72" cy="168.32" rx="2.55" ry="2.77" fill="#0a0a0a"/>
<ellipse cx="253.57" cy="167.4" rx="1.09" ry="0.94" fill="#ddd"/>
<path d="M107.1 207.7h.01M114.3 204.6h.01M111.8 214.3h.01M101.3 218.0h.01M100.8 216.2h.01M101.5 205.4h.01M109.3 225.4h.01M102.7 210.2h.01M113.8 227.9h.01M112.7 215.2h.01M121.5 203.4h.01M118.9 212.2h.01M103.2 206.5h.01M106.8 225.2h.01M104.0 219.8h.01M114.1 214.5h.01M112.1 204.2h.01M101.3 209.6h.01M115.0 216.0h.01M106.9 219.9h.01M110.0 212.5h.01M117.5 222.6h.01M105.4 219.7h.01M111.6 226.4h.01M116.0 212.1h.01" stroke="#d0d0d0" stroke-width="1" stroke-linecap="round" fill="none"/>
<g transform="rotate(-20 108.9 240.5)">
<ellipse cx="108.9" cy="240.5" rx="10.7" ry="8.5" fill="#e2e2e2" stroke="#777" stroke-width="0.7"/>
<ellipse cx="108.9" cy="240.5" rx="9.99" ry="8.01" fill="#bdbdbd" stroke="#555" stroke-width="0.6"/>
<ellipse cx="109.46" cy="240.5" rx="8.66" ry="7.12" fill="none" stroke="#444" stroke-width="0.6"/>
<ellipse cx="108.34" cy="240.5" rx="7.33" ry="6.41" fill="#9a9a9a" stroke="#333" stroke-width="0.6"/>
<ellipse cx="105.13" cy="240.82" rx="6.88" ry="7.83" fill="#2a2a2a" stroke="#000" stroke-width="1.3"/>
<ellipse cx="105.13" cy="241.57" rx="3.79" ry="4.31" fill="#555"/>
<ellipse cx="104.44" cy="242.35" rx="2.06" ry="2.35" fill="#0a0a0a"/>
<ellipse cx="105.13" cy="241.57" rx="1" ry="0.8" fill="#ddd"/>
</g>
<path d="M180.2 228.2h.01M177.9 222.7h.01M177.0 210.9h.01M198.0 209.7h.01M189.8 216.8h.01M185.4 217.7h.01M179.4 225.5h.01M177.1 210.5h.01M175.5 211.5h.01M184.4 227.0h.01M183.7 206.3h.01M180.9 228.8h.01M176.5 220.8h.01M183.7 221.7h.01M182.8 222.4h.01M186.4 221.4h.01M195.7 219.8h.01M178.3 204.3h.01M196.8 217.6h.01M179.5 227.9h.01" stroke="#d4d4d4" stroke-width="1" stroke-linecap="round" fill="none"/>
<g transform="rotate(-15 183.5 240.3)">
<ellipse cx="183.5" cy="240.3" rx="10.7" ry="8.6" fill="#e2e2e2" stroke="#777" stroke-width="0.7"/>
<ellipse cx="183.5" cy="240.3" rx="9.99" ry="8.1" fill="#bdbdbd" stroke="#555" stroke-width="0.6"/>
<ellipse cx="184.06" cy="240.3" rx="8.66" ry="7.2" fill="none" stroke="#444" stroke-width="0.6"/>
<ellipse cx="182.94" cy="240.3" rx="7.33" ry="6.48" fill="#9a9a9a" stroke="#333" stroke-width="0.6"/>
<ellipse cx="180.39" cy="240.57" rx="6.88" ry="7.92" fill="#2a2a2a" stroke="#000" stroke-width="1.3"/>
<ellipse cx="180.39" cy="241.2" rx="3.79" ry="4.36" fill="#555"/>
<ellipse cx="179.7" cy="241.99" rx="2.06" ry="2.38" fill="#0a0a0a"/>
<ellipse cx="180.39" cy="241.2" rx="1" ry="0.81" fill="#ddd"/>
</g>
<path d="M260.6 214.5h.01M253.2 226.2h.01M250.1 217.9h.01M270.7 205.0h.01M262.7 220.7h.01M250.9 214.7h.01M266.2 216.6h.01M266.7 207.9h.01M255.5 206.2h.01M261.6 227.4h.01M263.6 224.2h.01M258.8 223.6h.01M252.3 212.2h.01M265.5 223.2h.01M259.7 205.3h.01M256.1 209.7h.01M256.5 225.0h.01M254.6 226.7h.01M270.2 203.8h.01M258.7 217.6h.01M250.5 215.9h.01M270.8 206.3h.01M263.7 206.6h.01M263.3 226.8h.01M254.7 201.0h.01" stroke="#d0d0d0" stroke-width="1" stroke-linecap="round" fill="none"/>
<g transform="rotate(-25 258.6 240.3)">
<ellipse cx="258.6" cy="240.3" rx="10.7" ry="8.6" fill="#e2e2e2" stroke="#777" stroke-width="0.7"/>
<ellipse cx="258.6" cy="240.3" rx="9.99" ry="8.1" fill="#bdbdbd" stroke="#555" stroke-width="0.6"/>
<ellipse cx="259.16" cy="240.3" rx="8.66" ry="7.2" fill="none" stroke="#444" stroke-width="0.6"/>
<ellipse cx="258.05" cy="240.3" rx="7.33" ry="6.48" fill="#9a9a9a" stroke="#333" stroke-width="0.6"/>
<ellipse cx="256.82" cy="240.57" rx="6.88" ry="7.92" fill="#2a2a2a" stroke="#000" stroke-width="1.3"/>
<ellipse cx="256.82" cy="241.2" rx="3.79" ry="4.36" fill="#555"/>
<ellipse cx="256.14" cy="241.99" rx="2.06" ry="2.38" fill="#0a0a0a"/>
<ellipse cx="256.82" cy="241.2" rx="1" ry="0.81" fill="#ddd"/>
</g>
<path d="M105.2 345.4h.01M107.7 332.7h.01M113.6 347.4h.01M101.4 330.7h.01M105.6 334.5h.01M109.4 354.9h.01M111.5 352.7h.01M110.0 346.1h.01M107.0 348.0h.01M112.8 341.7h.01M107.1 329.3h.01M103.2 350.4h.01M123.1 346.3h.01M108.5 323.9h.01M112.7 354.6h.01M110.1 336.6h.01M102.9 337.0h.01M118.0 344.5h.01M108.3 345.5h.01M110.7 352.3h.01M112.0 340.3h.01M113.0 323.3h.01M100.8 347.6h.01M110.2 344.1h.01M111.7 345.0h.01M107.8 339.1h.01M108.0 350.6h.01M108.5 327.3h.01M114.6 354.8h.01M117.9 341.0h.01M106.8 335.5h.01M111.9 346.4h.01M111.1 341.7h.01M112.3 330.9h.01M104.5 350.7h.01M102.5 342.5h.01M106.9 319.6h.01M114.4 349.0h.01M107.8 326.3h.01M113.8 341.5h.01M105.7 352.9h.01M107.5 348.0h.01M110.3 353.9h.01M116.1 343.7h.01M108.6 342.7h.01M108.9 341.9h.01M105.8 345.5h.01M113.0 344.2h.01M107.0 341.3h.01M110.2 355.3h.01M108.8 319.1h.01M110.7 344.1h.01M112.1 328.0h.01M110.7 341.7h.01M115.8 341.8h.01M109.7 341.1h.01M104.6 349.4h.01M110.0 353.6h.01M108.3 347.3h.01M105.0 353.9h.01M112.1 346.5h.01M113.0 348.3h.01M105.8 352.0h.01M104.8 342.4h.01M114.5 341.1h.01M98.0 352.7h.01M107.9 324.0h.01M99.7 354.0h.01M111.4 355.6h.01M97.3 335.9h.01M108.7 345.8h.01M107.6 354.1h.01M111.7 326.3h.01M114.3 332.2h.01M110.6 356.0h.01M112.2 353.4h.01M102.0 348.6h.01M111.9 343.7h.01M103.5 344.7h.01M113.4 335.2h.01" stroke="#bcbcbc" stroke-width="1.1" stroke-linecap="round" fill="none"/>
<ellipse cx="106.8" cy="366.75" rx="11.4" ry="8.15" fill="#e2e2e2" stroke="#777" stroke-width="0.7"/>
<ellipse cx="106.8" cy="366.75" rx="10.62" ry="7.7" fill="#bdbdbd" stroke="#555" stroke-width="0.6"/>
<ellipse cx="106.8" cy="366.85" rx="9.68" ry="7.52" fill="#2a2a2a" stroke="#000" stroke-width="1.3"/>
<ellipse cx="106.8" cy="367.09" rx="5.32" ry="4.14" fill="#555"/>
<ellipse cx="105.83" cy="367.84" rx="2.9" ry="2.26" fill="#0a0a0a"/>
<ellipse cx="106.8" cy="367.09" rx="1.06" ry="0.77" fill="#ddd"/>
<path d="M178.9 354.2h.01M186.9 342.0h.01M178.4 331.8h.01M184.7 343.4h.01M178.9 327.2h.01M178.5 336.6h.01M192.7 348.5h.01M189.9 323.7h.01M197.9 347.5h.01M183.6 346.4h.01M185.5 343.9h.01M185.7 325.0h.01M186.4 322.6h.01M188.5 342.0h.01M176.1 343.6h.01M188.5 347.1h.01M177.6 341.8h.01M185.0 335.6h.01M201.5 352.2h.01M184.8 348.9h.01M183.6 336.0h.01M188.3 325.7h.01M185.5 352.4h.01M180.0 339.5h.01M194.4 318.4h.01M182.5 332.9h.01M189.8 355.6h.01M182.0 339.8h.01M191.3 350.7h.01M188.1 335.3h.01M188.8 355.2h.01M187.3 350.2h.01M187.8 327.6h.01M187.5 325.0h.01M185.9 344.8h.01M182.0 341.5h.01M188.0 329.2h.01M192.6 347.2h.01M188.9 333.0h.01M188.5 335.3h.01M193.9 336.6h.01M183.4 353.3h.01M186.2 352.6h.01M189.9 347.1h.01M197.2 333.0h.01M193.9 334.9h.01M185.6 336.3h.01M180.6 325.9h.01M190.6 334.3h.01M188.5 346.0h.01M181.2 355.1h.01M189.0 342.6h.01M176.0 331.7h.01M180.5 330.4h.01M192.7 334.5h.01M180.0 332.0h.01M184.2 332.3h.01M173.2 354.9h.01M190.0 340.6h.01M180.4 327.8h.01M197.4 334.1h.01M188.1 348.8h.01M184.6 345.9h.01M194.3 336.2h.01M188.6 325.6h.01M192.1 333.7h.01M175.9 346.4h.01M181.4 335.7h.01M187.9 321.2h.01M183.3 335.3h.01M183.3 331.4h.01M185.6 338.9h.01M182.6 338.7h.01M183.8 353.5h.01M192.3 348.4h.01M184.1 345.5h.01M185.8 321.4h.01M186.0 353.9h.01M181.1 321.8h.01M172.8 347.0h.01M177.0 337.1h.01M185.9 356.0h.01M190.6 349.6h.01M187.9 353.7h.01M184.4 351.1h.01M177.2 354.0h.01M180.5 353.7h.01M191.1 353.0h.01M177.3 352.8h.01M189.4 345.2h.01" stroke="#b4b4b4" stroke-width="1.1" stroke-linecap="round" fill="none"/>
<ellipse cx="182.1" cy="366.65" rx="11.7" ry="8.25" fill="#e2e2e2" stroke="#777" stroke-width="0.7"/>
<ellipse cx="182.1" cy="366.65" rx="10.89" ry="7.79" fill="#bdbdbd" stroke="#555" stroke-width="0.6"/>
<ellipse cx="180.89" cy="366.91" rx="9.68" ry="8.3" fill="#111" stroke="#000" stroke-width="1.2"/>
<ellipse cx="182.05" cy="367.21" rx="5.61" ry="2.74" fill="#8a8a8a"/>
<ellipse cx="180.89" cy="367.51" rx="1.69" ry="1.21" fill="#f0f0f0"/>
<ellipse cx="184.76" cy="367.51" rx="1.21" ry="0.87" fill="#d0d0d0"/>
<path d="M253.8 347.8h.01M262.2 329.8h.01M265.8 335.5h.01M261.3 351.5h.01M258.5 344.8h.01M254.7 347.7h.01M264.3 330.8h.01M265.3 353.8h.01M269.6 326.0h.01M264.3 348.3h.01M258.4 352.3h.01M265.3 321.5h.01M271.3 343.3h.01M265.1 327.0h.01M273.1 328.2h.01M260.0 340.7h.01M263.9 346.6h.01M264.2 330.8h.01M260.5 331.2h.01M259.5 351.6h.01M256.8 345.9h.01M264.0 342.4h.01M260.1 349.4h.01M261.8 355.3h.01M268.3 338.5h.01M259.9 338.7h.01M258.3 328.3h.01M254.0 333.9h.01M257.1 351.5h.01M265.5 343.1h.01M270.2 340.9h.01M262.6 343.6h.01M261.9 339.5h.01M266.2 350.5h.01M266.1 331.5h.01M264.8 348.6h.01M264.9 338.0h.01M261.9 347.0h.01M266.3 332.8h.01M262.8 335.8h.01M248.5 342.5h.01M262.9 355.0h.01M266.6 338.7h.01M270.9 332.0h.01M260.9 319.9h.01M250.0 335.3h.01M261.6 334.2h.01M256.5 320.2h.01M267.7 355.6h.01M262.7 356.0h.01M259.9 337.3h.01M261.0 350.9h.01M264.5 333.7h.01M254.8 343.9h.01M254.0 335.0h.01M262.0 354.8h.01M263.3 336.1h.01M259.2 353.0h.01M258.9 343.5h.01M272.8 348.6h.01M260.0 335.9h.01M257.7 334.7h.01M257.9 329.3h.01M254.0 353.3h.01M257.7 341.1h.01M262.8 355.5h.01M254.5 354.1h.01M258.4 355.1h.01M261.3 345.6h.01M255.8 353.7h.01M262.6 338.2h.01M254.6 338.9h.01M260.4 321.3h.01M254.6 348.9h.01M268.4 353.6h.01M255.9 353.9h.01M252.4 339.2h.01M259.1 327.4h.01M258.4 354.5h.01M264.4 348.4h.01" stroke="#bcbcbc" stroke-width="1.1" stroke-linecap="round" fill="none"/>
<ellipse cx="258.25" cy="366.65" rx="11.85" ry="8.25" fill="#e2e2e2" stroke="#777" stroke-width="0.7"/>
<ellipse cx="258.25" cy="366.65" rx="11.03" ry="7.79" fill="#bdbdbd" stroke="#555" stroke-width="0.6"/>
<ellipse cx="257.02" cy="366.91" rx="9.8" ry="8.3" fill="#111" stroke="#000" stroke-width="1.2"/>
<ellipse cx="258.2" cy="367.21" rx="5.68" ry="2.74" fill="#8a8a8a"/>
<ellipse cx="257.02" cy="367.51" rx="1.72" ry="1.21" fill="#f0f0f0"/>
<ellipse cx="260.94" cy="367.51" rx="1.23" ry="0.87" fill="#d0d0d0"/>
<path d="M104.5 421.1h.01M115.1 426.3h.01M102.6 404.7h.01M101.7 404.5h.01M116.4 400.4h.01M111.3 404.1h.01M105.4 412.4h.01M118.9 418.5h.01M98.4 406.6h.01M101.7 427.0h.01M118.2 425.0h.01M118.7 423.0h.01M121.7 424.6h.01M104.4 426.4h.01M110.2 423.3h.01M112.1 412.3h.01M107.1 412.3h.01M105.8 399.8h.01M118.5 424.7h.01M122.6 421.3h.01M111.9 423.1h.01M101.4 420.8h.01M109.1 402.5h.01M103.1 415.6h.01M104.3 413.4h.01M113.1 411.1h.01M101.3 414.5h.01M103.9 405.0h.01M102.9 410.0h.01M99.8 420.0h.01M121.8 410.9h.01M116.0 428.9h.01M99.1 401.0h.01M118.2 426.0h.01M114.0 401.8h.01M108.3 426.9h.01M120.2 424.9h.01M103.1 426.5h.01M107.4 422.1h.01M101.4 430.1h.01M113.1 422.3h.01M103.3 418.8h.01M112.5 418.0h.01M107.0 422.5h.01M106.5 407.3h.01M102.1 421.0h.01M100.8 404.5h.01M99.7 419.7h.01M111.9 416.3h.01M99.0 412.7h.01" stroke="#c4c4c4" stroke-width="1" stroke-linecap="round" fill="none"/>
<path d="M104.87,436 C102.25,412 105.8,396 112.35,396 C118.89,396 122.45,412 119.83,436 Q112.35,437.5 104.87,436 Z" fill="none" stroke="#767676" stroke-width="0.6"/>
<path d="M106.39,430.8 C104.3,411.48 107.13,398.6 112.35,398.6 C117.56,398.6 120.4,411.48 118.31,430.8 Q112.35,432.3 106.39,430.8 Z" fill="none" stroke="#767676" stroke-width="0.6"/>
<path d="M107.91,425.6 C106.36,410.96 108.46,401.2 112.35,401.2 C116.23,401.2 118.34,410.96 116.79,425.6 Q112.35,427.1 107.91,425.6 Z" fill="none" stroke="#767676" stroke-width="0.6"/>
<path d="M109.43,420.4 C108.41,410.44 109.79,403.8 112.35,403.8 C114.91,403.8 116.29,410.44 115.27,420.4 Q112.35,421.9 109.43,420.4 Z" fill="none" stroke="#767676" stroke-width="0.6"/>
<path d="M110.95,415.2 C110.46,409.92 111.12,406.4 112.35,406.4 C113.57,406.4 114.24,409.92 113.75,415.2 Q112.35,416.7 110.95,415.2 Z" fill="none" stroke="#767676" stroke-width="0.6"/>
<ellipse cx="108.05" cy="441.3" rx="13.05" ry="8.6" fill="#e2e2e2" stroke="#777" stroke-width="0.7"/>
<ellipse cx="108.05" cy="441.3" rx="12.11" ry="8.1" fill="#bdbdbd" stroke="#555" stroke-width="0.6"/>
<ellipse cx="108.05" cy="441.3" rx="11.43" ry="7.56" fill="#9a9a9a" stroke="#111" stroke-width="1.76"/>
<ellipse cx="113.7" cy="441.03" rx="5.18" ry="6.34" fill="#161616"/>
<ellipse cx="113.97" cy="440.4" rx="1.35" ry="0.9" fill="#d8d8d8"/>
<path d="M190.9 422.2h.01M189.9 429.6h.01M185.6 424.4h.01M189.0 422.4h.01M184.0 414.4h.01M191.7 425.5h.01M188.1 428.6h.01M187.9 413.1h.01M185.5 421.6h.01M193.2 404.5h.01M180.4 405.2h.01M184.1 422.2h.01M188.6 400.8h.01M188.5 407.0h.01M190.0 430.8h.01M185.4 415.8h.01M179.7 423.1h.01M180.9 402.5h.01M181.2 406.0h.01M183.0 401.5h.01M189.4 406.6h.01M182.6 416.2h.01M187.4 417.7h.01M193.0 401.9h.01M186.7 410.2h.01M184.4 396.6h.01M185.9 418.5h.01M184.0 401.4h.01M180.0 418.8h.01M186.7 416.3h.01M181.7 420.6h.01M186.4 401.5h.01M183.1 427.8h.01M186.5 429.6h.01M188.0 423.6h.01M186.9 419.9h.01M192.2 429.7h.01M186.7 415.3h.01M183.0 429.6h.01M190.2 409.5h.01M185.2 421.5h.01M188.4 416.8h.01M185.8 397.2h.01M190.0 411.4h.01M191.3 410.3h.01M185.4 429.5h.01M184.1 397.2h.01M188.4 404.3h.01M186.9 427.9h.01M188.7 409.6h.01M186.0 429.0h.01M191.4 410.6h.01M186.3 419.6h.01M182.2 420.6h.01M192.3 418.0h.01M183.6 427.2h.01M183.4 430.1h.01M188.9 419.1h.01M186.5 429.0h.01M182.6 421.1h.01" stroke="#b0b0b0" stroke-width="1" stroke-linecap="round" fill="none"/>
<ellipse cx="181.9" cy="441.5" rx="12.3" ry="8.1" fill="#e2e2e2" stroke="#777" stroke-width="0.7"/>
<ellipse cx="181.9" cy="441.5" rx="11.43" ry="7.65" fill="#bdbdbd" stroke="#555" stroke-width="0.6"/>
<ellipse cx="179.76" cy="441.75" rx="10.16" ry="7.48" fill="#2a2a2a" stroke="#000" stroke-width="1.3"/>
<ellipse cx="176.82" cy="442.35" rx="5.59" ry="4.11" fill="#555"/>
<ellipse cx="175.8" cy="443.1" rx="3.05" ry="2.24" fill="#0a0a0a"/>
<ellipse cx="176.82" cy="442.35" rx="1.14" ry="0.77" fill="#ddd"/>
<path d="M273.2 396.0h.01M267.7 403.2h.01M273.7 396.4h.01M271.1 421.5h.01M270.6 431.0h.01M255.8 410.1h.01M267.0 408.0h.01M256.3 406.1h.01M270.6 427.3h.01M269.1 405.9h.01M272.2 416.1h.01M255.6 414.2h.01M260.1 399.7h.01M263.6 410.9h.01M263.7 429.0h.01M265.5 412.5h.01M270.7 430.9h.01M261.8 429.4h.01M250.5 402.5h.01M254.1 429.2h.01M266.6 422.7h.01M256.9 415.5h.01M271.3 400.7h.01M252.8 398.1h.01M261.2 426.3h.01M263.3 412.3h.01M262.0 404.1h.01M272.8 410.7h.01M255.6 409.2h.01M269.8 409.4h.01M271.7 410.1h.01M260.6 399.5h.01M271.8 425.0h.01M261.4 401.4h.01M261.8 411.5h.01M270.2 428.9h.01M267.8 408.3h.01M251.0 427.9h.01M272.7 403.2h.01M262.0 415.0h.01M273.4 397.9h.01M251.5 426.4h.01M263.7 414.4h.01M268.7 418.7h.01M266.6 407.1h.01M252.0 395.8h.01M258.0 420.5h.01M259.1 410.4h.01M264.8 422.2h.01M264.3 409.2h.01" stroke="#c4c4c4" stroke-width="1" stroke-linecap="round" fill="none"/>
<path d="M259.15,436 C257.12,414.58 260.6,400.3 264.95,400.3 C269.3,400.3 272.78,414.58 270.75,436 Q264.95,437.5 259.15,436 Z" fill="none" stroke="#767676" stroke-width="0.6"/>
<path d="M260.67,431.36 C259.17,414.28 261.74,402.9 264.95,402.9 C268.16,402.9 270.73,414.28 269.23,431.36 Q264.95,432.86 260.67,431.36 Z" fill="none" stroke="#767676" stroke-width="0.6"/>
<path d="M262.19,426.72 C261.22,413.99 262.88,405.5 264.95,405.5 C267.02,405.5 268.68,413.99 267.71,426.72 Q264.95,428.22 262.19,426.72 Z" fill="none" stroke="#767676" stroke-width="0.6"/>
<path d="M263.71,422.08 C263.28,413.69 264.02,408.1 264.95,408.1 C265.88,408.1 266.62,413.69 266.19,422.08 Q264.95,423.58 263.71,422.08 Z" fill="none" stroke="#767676" stroke-width="0.6"/>
<ellipse cx="258.6" cy="441.8" rx="12.4" ry="8.4" fill="#e2e2e2" stroke="#777" stroke-width="0.7"/>
<ellipse cx="258.6" cy="441.8" rx="11.52" ry="7.92" fill="#bdbdbd" stroke="#555" stroke-width="0.6"/>
<ellipse cx="257.32" cy="442.06" rx="11.01" ry="8.45" fill="#111" stroke="#000" stroke-width="1.2"/>
<ellipse cx="258.64" cy="442.36" rx="6.38" ry="2.79" fill="#8a8a8a"/>
<ellipse cx="257.32" cy="442.68" rx="1.79" ry="1.23" fill="#f0f0f0"/>
<ellipse cx="261.72" cy="442.68" rx="1.28" ry="0.88" fill="#d0d0d0"/>
<path d="M107.0 488.4h.01M108.4 487.0h.01M108.2 495.0h.01M104.5 494.2h.01M98.3 481.1h.01M106.4 473.8h.01M116.6 481.5h.01M117.7 505.5h.01M104.3 503.4h.01M118.2 495.4h.01M98.7 487.4h.01M113.7 480.9h.01M103.6 481.4h.01M104.5 499.7h.01M106.7 486.1h.01M114.1 505.3h.01M105.3 468.5h.01M122.3 501.3h.01M117.8 490.0h.01M103.9 474.4h.01M105.6 487.6h.01M99.6 496.5h.01M116.2 466.3h.01M119.1 488.8h.01M121.0 488.2h.01M117.9 487.3h.01M113.3 489.1h.01M98.6 473.9h.01M103.8 485.4h.01M107.2 490.6h.01M114.5 485.2h.01M106.0 489.6h.01M121.8 499.5h.01M114.4 500.7h.01M103.7 471.7h.01M100.3 472.8h.01M98.2 493.9h.01M121.0 472.4h.01M115.2 505.0h.01M117.1 474.4h.01" stroke="#c8c8c8" stroke-width="1" stroke-linecap="round" fill="none"/>
<path d="M106.7,512 C104.32,489.8 111.8,475 113.5,475 C115.2,475 122.68,489.8 120.3,512 Q113.5,513.5 106.7,512 Z" fill="none" stroke="#666" stroke-width="0.6"/>
<path d="M108.22,507.19 C106.37,489.44 112.18,477.6 113.5,477.6 C114.82,477.6 120.63,489.44 118.78,507.19 Q113.5,508.69 108.22,507.19 Z" fill="none" stroke="#666" stroke-width="0.6"/>
<path d="M109.74,502.38 C108.42,489.07 112.56,480.2 113.5,480.2 C114.44,480.2 118.58,489.07 117.26,502.38 Q113.5,503.88 109.74,502.38 Z" fill="none" stroke="#666" stroke-width="0.6"/>
<path d="M111.26,497.57 C110.48,488.71 112.94,482.8 113.5,482.8 C114.06,482.8 116.52,488.71 115.74,497.57 Q113.5,499.07 111.26,497.57 Z" fill="none" stroke="#666" stroke-width="0.6"/>
<g transform="rotate(-40 109.6 516.85)">
<ellipse cx="109.6" cy="516.85" rx="10.7" ry="8.95" fill="#e2e2e2" stroke="#777" stroke-width="0.7"/>
<ellipse cx="109.6" cy="516.85" rx="9.99" ry="8.42" fill="#bdbdbd" stroke="#555" stroke-width="0.6"/>
<ellipse cx="110.16" cy="516.85" rx="8.66" ry="7.48" fill="none" stroke="#444" stroke-width="0.6"/>
<ellipse cx="109.04" cy="516.85" rx="7.33" ry="6.73" fill="#9a9a9a" stroke="#333" stroke-width="0.6"/>
<ellipse cx="107.38" cy="517.3" rx="7.33" ry="8.23" fill="#2a2a2a" stroke="#000" stroke-width="1.3"/>
<ellipse cx="107.38" cy="518.35" rx="4.03" ry="4.53" fill="#555"/>
<ellipse cx="106.65" cy="519.17" rx="2.2" ry="2.47" fill="#0a0a0a"/>
<ellipse cx="107.38" cy="518.35" rx="1" ry="0.84" fill="#ddd"/>
</g>
<path d="M178.8 506.1h.01M185.0 487.6h.01M186.6 498.9h.01M179.8 479.8h.01M189.9 501.0h.01M186.7 486.2h.01M182.5 503.5h.01M186.0 505.8h.01M174.3 477.0h.01M194.3 502.7h.01M187.6 500.0h.01M184.4 496.1h.01M188.6 495.6h.01M185.2 504.3h.01M183.8 478.2h.01M183.4 505.6h.01M172.8 481.5h.01M188.2 502.7h.01M189.5 473.3h.01M177.7 490.4h.01M192.3 489.9h.01M188.1 506.1h.01M181.1 504.0h.01M190.9 485.7h.01M176.6 495.2h.01M182.5 490.0h.01M185.2 483.8h.01M193.0 497.3h.01M181.2 480.9h.01M184.3 498.8h.01" stroke="#c4c4c4" stroke-width="1" stroke-linecap="round" fill="none"/>
<g transform="rotate(-25 183.25 516.85)">
<ellipse cx="183.25" cy="516.85" rx="10.15" ry="8.95" fill="#e2e2e2" stroke="#777" stroke-width="0.7"/>
<ellipse cx="183.25" cy="516.85" rx="9.5" ry="8.42" fill="#bdbdbd" stroke="#555" stroke-width="0.6"/>
<ellipse cx="183.78" cy="516.85" rx="8.23" ry="7.48" fill="none" stroke="#444" stroke-width="0.6"/>
<ellipse cx="182.72" cy="516.85" rx="6.96" ry="6.73" fill="#9a9a9a" stroke="#333" stroke-width="0.6"/>
<ellipse cx="181.56" cy="517.3" rx="6.96" ry="8.23" fill="#2a2a2a" stroke="#000" stroke-width="1.3"/>
<ellipse cx="181.56" cy="518.35" rx="3.83" ry="4.53" fill="#555"/>
<ellipse cx="180.87" cy="519.17" rx="2.09" ry="2.47" fill="#0a0a0a"/>
<ellipse cx="181.56" cy="518.35" rx="0.95" ry="0.84" fill="#ddd"/>
</g>
<path d="M254.4 496.6h.01M258.0 480.1h.01M261.7 491.0h.01M261.5 489.8h.01M256.3 482.4h.01M266.6 485.0h.01M266.2 500.6h.01M270.8 505.3h.01M255.6 481.7h.01M267.6 493.8h.01M254.8 497.1h.01M271.0 502.1h.01M255.2 484.1h.01M250.2 506.3h.01M255.3 498.7h.01M262.9 494.4h.01M262.6 501.7h.01M264.4 484.2h.01M252.8 490.5h.01M272.2 477.9h.01M266.4 495.6h.01M253.8 480.5h.01M266.5 489.1h.01M259.8 490.6h.01M252.4 498.0h.01" stroke="#c8c8c8" stroke-width="1" stroke-linecap="round" fill="none"/>
<path d="M264.03,500.6 C264.01,501.24 263.79,502.03 263.28,502.45 C262.78,502.88 261.77,503.13 261,503.13 C260.23,503.14 259.24,502.9 258.69,502.48 C258.14,502.05 257.68,501.19 257.72,500.6 C257.76,500.01 258.39,499.31 258.93,498.92 C259.48,498.53 260.25,498.3 261,498.25 C261.75,498.21 262.91,498.25 263.42,498.64 C263.92,499.03 264.05,499.96 264.03,500.6Z" fill="none" stroke="#777" stroke-width="0.7"/>
<path d="M265.26,505 C265.19,505.51 264.64,506.07 263.93,506.43 C263.22,506.79 261.98,507.15 261,507.15 C260.02,507.16 258.72,506.81 258.04,506.45 C257.35,506.09 256.92,505.5 256.89,505 C256.86,504.5 257.2,503.87 257.88,503.47 C258.57,503.08 259.92,502.64 261,502.62 C262.08,502.6 263.66,502.95 264.37,503.35 C265.08,503.75 265.34,504.49 265.26,505Z" fill="none" stroke="#888" stroke-width="0.6"/>
<g transform="rotate(-25 259.25 516.85)">
<ellipse cx="259.25" cy="516.85" rx="10.35" ry="8.95" fill="#e2e2e2" stroke="#777" stroke-width="0.7"/>
<ellipse cx="259.25" cy="516.85" rx="9.68" ry="8.42" fill="#bdbdbd" stroke="#555" stroke-width="0.6"/>
<ellipse cx="259.79" cy="516.85" rx="8.38" ry="7.48" fill="none" stroke="#444" stroke-width="0.6"/>
<ellipse cx="258.71" cy="516.85" rx="7.1" ry="6.73" fill="#9a9a9a" stroke="#333" stroke-width="0.6"/>
<ellipse cx="257.53" cy="517.3" rx="7.1" ry="8.23" fill="#2a2a2a" stroke="#000" stroke-width="1.3"/>
<ellipse cx="257.53" cy="518.35" rx="3.9" ry="4.53" fill="#555"/>
<ellipse cx="256.82" cy="519.17" rx="2.13" ry="2.47" fill="#0a0a0a"/>
<ellipse cx="257.53" cy="518.35" rx="0.97" ry="0.84" fill="#ddd"/>
</g>
<path d="M107.4 623.2h.01M102.6 622.9h.01M96.0 615.6h.01M124.6 610.4h.01M111.7 616.9h.01M116.6 614.9h.01M116.2 616.4h.01M115.3 624.7h.01M112.7 612.5h.01M114.2 623.8h.01M104.5 631.5h.01M118.3 619.8h.01M119.9 630.2h.01M117.7 619.2h.01M109.2 634.7h.01M107.8 632.4h.01M115.9 613.6h.01M97.6 623.9h.01M110.7 619.0h.01M101.3 610.0h.01M110.0 628.7h.01M110.0 603.6h.01M105.4 609.2h.01M113.9 621.9h.01M106.2 634.1h.01M112.0 633.3h.01M115.5 604.8h.01M109.1 618.6h.01M119.1 614.7h.01M118.1 609.6h.01M110.7 629.6h.01M118.0 621.3h.01M109.1 605.9h.01M120.6 612.7h.01M108.2 608.4h.01M102.7 606.9h.01M103.2 604.3h.01M111.7 620.5h.01M111.6 611.3h.01M114.5 615.5h.01M109.1 626.2h.01M112.6 633.7h.01M111.1 627.0h.01M109.9 626.6h.01M117.9 627.2h.01M112.3 635.6h.01M119.0 625.3h.01M108.6 635.9h.01M113.8 606.7h.01M118.9 630.7h.01M109.7 612.3h.01M108.6 623.3h.01M112.0 616.8h.01M108.8 622.9h.01M111.1 629.3h.01M124.4 635.8h.01M106.3 615.5h.01M105.0 622.7h.01M105.8 606.7h.01M114.9 632.8h.01M115.8 635.1h.01M117.5 622.9h.01M115.2 621.5h.01M108.6 618.7h.01M109.4 620.8h.01M117.1 632.6h.01M114.6 627.6h.01M111.5 623.4h.01M110.5 618.1h.01M112.9 616.6h.01M106.6 618.3h.01M118.0 615.8h.01M109.5 619.1h.01M128.3 636.3h.01M116.5 624.2h.01M119.6 628.8h.01M99.8 625.2h.01M110.9 605.9h.01M108.6 614.0h.01M104.5 629.5h.01M114.5 610.4h.01M107.9 615.6h.01M106.5 607.2h.01M108.5 620.9h.01M104.5 617.8h.01M109.7 631.0h.01M109.9 617.6h.01M107.8 635.0h.01M113.2 616.1h.01M118.4 625.1h.01M112.9 612.0h.01M109.0 606.8h.01M117.1 622.2h.01M117.2 635.5h.01M105.0 604.9h.01M114.1 613.3h.01M110.4 631.1h.01M116.2 619.9h.01M116.9 610.7h.01M117.6 611.9h.01M110.0 630.2h.01M110.4 620.6h.01M120.3 635.9h.01M115.5 629.7h.01M119.7 615.0h.01M100.1 622.1h.01M111.7 636.1h.01M106.0 620.1h.01M114.7 620.2h.01M112.4 604.4h.01M97.1 635.2h.01M99.7 636.6h.01M112.0 607.1h.01M115.8 635.1h.01M114.3 627.6h.01M112.4 635.6h.01M109.9 605.3h.01M111.5 632.0h.01M110.0 636.6h.01M107.2 615.3h.01M121.3 606.4h.01M124.5 618.1h.01M115.7 622.2h.01M119.8 614.3h.01M110.0 636.5h.01M109.9 631.0h.01M114.1 615.0h.01M119.8 624.8h.01M110.4 622.2h.01M115.8 607.1h.01M122.6 613.4h.01M111.5 625.6h.01M113.6 618.8h.01M115.2 629.0h.01M124.8 614.3h.01M117.9 611.0h.01M99.0 619.8h.01M113.0 623.7h.01M119.3 617.6h.01M111.4 612.0h.01M103.6 625.4h.01M110.9 612.1h.01M127.5 628.2h.01M113.2 632.7h.01M115.4 611.9h.01M106.7 636.0h.01M113.8 626.5h.01M110.7 622.5h.01M119.7 627.1h.01M113.2 620.8h.01M111.6 627.7h.01M124.5 615.2h.01M114.3 618.9h.01M99.1 624.8h.01M114.7 632.9h.01M113.8 635.8h.01M115.1 628.6h.01M110.6 619.1h.01M114.8 608.2h.01M124.4 607.6h.01" stroke="#a0a0a0" stroke-width="0.9" stroke-linecap="round" fill="none"/>
<path d="M112.5 634.4h.01M103.2 626.7h.01M115.1 629.5h.01M116.0 625.9h.01M104.0 624.1h.01M104.9 623.2h.01M106.5 629.2h.01M117.9 633.6h.01M117.9 633.0h.01M112.9 634.4h.01M110.6 633.8h.01M116.6 613.4h.01M113.1 630.2h.01M103.2 634.6h.01M113.1 636.7h.01M119.0 626.0h.01M112.0 624.2h.01M117.0 625.9h.01M112.6 615.2h.01M110.5 619.7h.01M113.5 618.3h.01M115.9 618.0h.01M105.8 630.2h.01M101.1 630.4h.01M112.8 628.2h.01M103.5 636.4h.01M110.7 633.7h.01M109.4 615.8h.01M106.5 624.1h.01M103.2 625.7h.01M114.3 624.9h.01M111.5 619.2h.01M109.7 628.4h.01M114.9 624.3h.01M105.4 636.7h.01M107.3 623.8h.01M108.0 628.9h.01M101.1 630.7h.01M107.7 615.2h.01M111.2 634.0h.01M120.0 633.6h.01M110.6 636.2h.01M104.2 635.2h.01M108.5 625.9h.01M112.4 620.3h.01M111.0 627.5h.01M110.6 631.0h.01M109.4 623.2h.01M111.3 612.4h.01M106.1 613.0h.01M111.5 619.6h.01M108.8 635.4h.01M112.9 628.6h.01M110.0 634.7h.01M108.4 629.1h.01M112.6 622.9h.01M117.8 625.2h.01M111.5 619.9h.01M113.1 616.6h.01M112.4 620.9h.01M113.0 636.4h.01M105.8 618.0h.01M105.8 622.1h.01M114.4 633.2h.01M101.9 618.9h.01M106.3 620.4h.01M108.8 636.0h.01M109.1 635.0h.01M110.3 635.2h.01M111.4 618.6h.01M108.0 624.4h.01M112.7 636.1h.01M122.5 632.2h.01M107.3 626.5h.01M113.1 634.3h.01M113.2 622.6h.01M104.6 636.8h.01M116.0 632.0h.01M113.0 632.1h.01M121.2 619.1h.01M123.6 636.5h.01M106.8 632.9h.01M118.2 626.0h.01M116.8 632.3h.01M113.4 632.6h.01M111.6 621.7h.01M117.7 628.4h.01M111.9 620.0h.01M113.4 616.9h.01M109.1 630.2h.01M116.1 636.0h.01M121.0 622.6h.01M116.2 626.8h.01M106.5 626.1h.01M112.5 629.7h.01M117.8 614.6h.01M103.0 636.4h.01M112.9 634.4h.01M109.5 626.5h.01M113.5 636.6h.01M122.2 618.8h.01M120.0 628.3h.01M113.3 619.4h.01M109.6 620.4h.01M119.0 620.4h.01M112.8 632.1h.01M101.9 628.3h.01M107.2 612.8h.01M106.4 621.2h.01M115.2 628.2h.01M106.2 618.5h.01M114.9 635.6h.01M112.5 623.0h.01M96.7 615.6h.01M116.1 635.0h.01M108.4 632.0h.01M107.5 630.4h.01M115.1 629.0h.01M121.4 613.0h.01M109.1 636.1h.01" stroke="#777" stroke-width="0.8" stroke-linecap="round" fill="none"/>
<path d="M104.8,641 C102.28,624.8 105.25,614 112,614 C118.75,614 121.72,624.8 119.2,641 Q112,642.5 104.8,641 Z" fill="none" stroke="#5a5a5a" stroke-width="0.6"/>
<path d="M106.32,637.49 C104.33,624.96 106.67,616.6 112,616.6 C117.33,616.6 119.67,624.96 117.68,637.49 Q112,638.99 106.32,637.49 Z" fill="none" stroke="#5a5a5a" stroke-width="0.6"/>
<path d="M107.84,633.98 C106.38,625.11 108.1,619.2 112,619.2 C115.9,619.2 117.62,625.11 116.16,633.98 Q112,635.48 107.84,633.98 Z" fill="none" stroke="#5a5a5a" stroke-width="0.6"/>
<path d="M109.36,630.47 C108.44,625.27 109.53,621.8 112,621.8 C114.47,621.8 115.56,625.27 114.64,630.47 Q112,631.97 109.36,630.47 Z" fill="none" stroke="#5a5a5a" stroke-width="0.6"/>
<path d="M110.88,626.96 C110.49,625.42 110.95,624.4 112,624.4 C113.05,624.4 113.51,625.42 113.12,626.96 Q112,628.46 110.88,626.96 Z" fill="none" stroke="#5a5a5a" stroke-width="0.6"/>
<g transform="rotate(-15 109.5 646.1)">
<ellipse cx="109.5" cy="646.1" rx="12.6" ry="8.5" fill="#e2e2e2" stroke="#777" stroke-width="0.7"/>
<ellipse cx="109.5" cy="646.1" rx="11.7" ry="8.01" fill="#bdbdbd" stroke="#555" stroke-width="0.6"/>
<ellipse cx="109.5" cy="646.1" rx="11.05" ry="7.48" fill="#6e6e6e" stroke="#111" stroke-width="1.1"/>
<ellipse cx="112.35" cy="646.37" rx="6.82" ry="6.27" fill="#161616"/>
<ellipse cx="112.62" cy="646.99" rx="1.3" ry="0.89" fill="#d8d8d8"/>
</g>
<path d="M197.6 631.1h.01M184.9 634.6h.01M189.5 634.6h.01M198.5 633.8h.01M186.7 621.2h.01M188.4 636.8h.01M194.2 635.8h.01M193.2 622.3h.01M191.3 634.7h.01M195.1 618.9h.01M182.4 632.1h.01M193.7 623.6h.01M196.8 608.1h.01M193.8 610.7h.01M193.4 617.3h.01M198.6 629.0h.01M191.6 607.5h.01M192.6 629.5h.01M192.7 615.8h.01M186.7 607.0h.01M186.9 612.3h.01M186.0 627.9h.01M184.7 612.9h.01M186.2 627.7h.01M184.0 613.3h.01M187.8 635.2h.01M196.0 636.9h.01M183.0 626.1h.01M188.3 626.8h.01M192.5 624.4h.01M172.7 633.0h.01M197.3 611.5h.01M190.3 628.0h.01M189.7 618.3h.01M188.1 624.7h.01M175.3 631.0h.01M198.4 611.6h.01M193.0 622.5h.01M188.8 630.6h.01M192.0 610.6h.01M189.9 628.3h.01M192.5 617.9h.01M191.4 615.2h.01M190.4 624.0h.01M191.3 628.4h.01M190.1 624.6h.01M193.4 611.9h.01M193.9 617.0h.01M186.8 614.5h.01M192.7 615.4h.01M187.6 634.1h.01M197.2 627.9h.01M189.5 614.2h.01M190.2 627.5h.01M180.4 634.7h.01M196.5 617.7h.01M186.7 628.7h.01M193.8 610.9h.01M188.0 620.1h.01M202.2 636.3h.01M180.9 622.7h.01M197.0 610.9h.01M186.3 634.9h.01M188.1 629.3h.01M176.7 625.1h.01M187.5 636.2h.01M189.2 617.6h.01M186.3 633.1h.01M203.7 608.4h.01M200.0 630.6h.01M185.5 626.6h.01M185.9 626.1h.01M186.9 608.8h.01M193.8 628.1h.01M194.3 633.4h.01M186.0 620.8h.01M189.7 635.2h.01M200.8 610.6h.01M193.6 631.3h.01M186.2 617.6h.01M195.4 614.8h.01M189.7 608.9h.01M191.7 632.4h.01M192.0 607.4h.01M193.3 612.5h.01M193.0 631.3h.01M199.1 619.4h.01M190.4 612.7h.01M190.9 616.1h.01M197.3 620.6h.01M184.3 629.4h.01M194.8 617.5h.01M182.6 617.7h.01M184.0 631.0h.01M196.1 619.5h.01M193.5 611.9h.01M183.7 623.4h.01M180.1 619.5h.01M205.2 627.4h.01M179.7 625.5h.01M184.0 628.8h.01M182.8 624.9h.01M190.1 627.8h.01M180.1 624.6h.01M187.1 624.0h.01M193.0 618.1h.01M186.3 634.6h.01M190.7 612.0h.01M195.6 634.8h.01M184.7 634.0h.01M192.3 636.9h.01M194.2 628.3h.01M194.0 610.8h.01M192.4 618.0h.01M191.5 608.6h.01M190.8 623.0h.01M188.3 628.5h.01M183.0 628.1h.01M196.2 623.9h.01M197.0 621.5h.01M196.4 628.9h.01M188.4 631.3h.01M186.6 614.2h.01M190.4 617.5h.01M192.2 609.6h.01M195.7 631.1h.01M191.0 611.5h.01M181.5 615.1h.01M199.8 630.0h.01M182.7 633.7h.01M191.3 621.9h.01M194.8 623.0h.01M187.0 632.3h.01M193.4 614.0h.01M180.1 612.8h.01M185.2 618.9h.01M186.5 634.9h.01M193.4 633.9h.01M191.5 626.5h.01M191.6 623.9h.01M201.7 633.9h.01M192.7 625.6h.01M193.3 632.9h.01M192.1 628.9h.01M176.8 608.5h.01M194.8 628.9h.01M195.5 610.7h.01M180.2 629.4h.01M182.2 613.1h.01M186.7 636.1h.01M192.9 625.2h.01M189.4 624.8h.01M184.9 615.8h.01M191.8 630.1h.01M183.4 624.0h.01M189.6 617.4h.01M198.2 616.6h.01M183.9 618.1h.01M181.7 634.5h.01M188.2 635.2h.01" stroke="#a0a0a0" stroke-width="0.9" stroke-linecap="round" fill="none"/>
<path d="M194.0 612.3h.01M191.8 621.1h.01M190.1 625.7h.01M182.3 631.9h.01M180.5 628.8h.01M193.0 617.2h.01M184.8 627.2h.01M187.7 619.3h.01M188.9 621.5h.01M187.0 620.0h.01M189.7 631.9h.01M193.1 630.1h.01M196.4 615.3h.01M191.2 629.6h.01M184.8 632.1h.01M193.4 632.5h.01M188.3 615.8h.01M186.2 628.3h.01M179.7 634.6h.01M187.7 618.6h.01M183.3 624.5h.01M194.2 636.3h.01M195.1 633.8h.01M190.4 636.0h.01M186.2 628.4h.01M189.9 622.0h.01M188.5 618.7h.01M185.7 628.3h.01M190.8 628.5h.01M184.3 628.0h.01M189.5 623.3h.01M189.9 634.4h.01M181.3 636.1h.01M189.4 613.8h.01M189.2 612.2h.01M184.3 619.4h.01M184.4 634.4h.01M190.2 622.9h.01M191.2 635.9h.01M185.0 636.5h.01M194.9 616.4h.01M197.8 622.4h.01M194.0 613.1h.01M186.5 612.3h.01M199.9 636.3h.01M189.2 622.6h.01M187.4 614.2h.01M197.2 628.6h.01M191.8 632.0h.01M192.6 619.9h.01M197.4 628.6h.01M189.5 629.6h.01M190.8 613.9h.01M202.6 635.1h.01M183.4 627.4h.01M188.6 623.7h.01M192.3 629.5h.01M194.0 621.8h.01M192.2 613.5h.01M182.6 615.7h.01M193.5 617.0h.01M184.9 627.0h.01M182.5 625.8h.01M187.6 635.6h.01M200.4 630.9h.01M191.0 623.4h.01M192.2 630.9h.01M191.7 630.1h.01M188.0 616.0h.01M189.6 626.0h.01M193.3 613.4h.01M192.6 619.6h.01M181.4 612.8h.01M187.1 621.5h.01M188.3 624.2h.01M193.1 612.1h.01M191.5 634.1h.01M193.6 621.5h.01M186.9 630.7h.01M182.1 624.8h.01M187.6 623.0h.01M195.6 621.7h.01M188.8 628.7h.01M191.2 624.0h.01M194.2 614.8h.01M191.7 626.4h.01M177.3 617.5h.01M185.9 628.0h.01M191.0 625.3h.01M186.4 628.2h.01M194.2 635.1h.01M193.5 635.2h.01M190.7 630.1h.01M189.6 631.6h.01M188.5 630.3h.01M193.4 622.7h.01M193.8 634.3h.01M187.8 630.8h.01M184.1 635.0h.01M195.2 631.3h.01M189.5 628.5h.01M192.4 632.1h.01M187.2 629.8h.01M187.6 631.0h.01M184.0 630.2h.01M194.9 636.2h.01M202.3 631.3h.01M191.4 617.1h.01M192.5 628.9h.01M194.2 628.2h.01M181.5 626.9h.01M194.9 628.5h.01M187.1 617.8h.01M180.9 615.4h.01M180.7 634.8h.01M191.7 627.3h.01M194.2 633.9h.01M195.7 631.9h.01M190.7 625.5h.01M191.4 619.9h.01" stroke="#777" stroke-width="0.8" stroke-linecap="round" fill="none"/>
<path d="M182.65,641 C179.64,627.5 190.39,618.5 191.25,618.5 C192.11,618.5 202.86,627.5 199.85,641 Q191.25,642.5 182.65,641 Z" fill="none" stroke="#4a4a4a" stroke-width="0.6"/>
<path d="M184.17,638.08 C181.69,627.89 190.54,621.1 191.25,621.1 C191.96,621.1 200.81,627.89 198.33,638.08 Q191.25,639.58 184.17,638.08 Z" fill="none" stroke="#4a4a4a" stroke-width="0.6"/>
<path d="M185.69,635.15 C183.74,628.28 190.69,623.7 191.25,623.7 C191.81,623.7 198.76,628.28 196.81,635.15 Q191.25,636.65 185.69,635.15 Z" fill="none" stroke="#4a4a4a" stroke-width="0.6"/>
<path d="M187.21,632.23 C185.8,628.67 190.85,626.3 191.25,626.3 C191.65,626.3 196.7,628.67 195.29,632.23 Q191.25,633.73 187.21,632.23 Z" fill="none" stroke="#4a4a4a" stroke-width="0.6"/>
<path d="M188.73,629.3 C187.85,629.06 191,628.9 191.25,628.9 C191.5,628.9 194.65,629.06 193.77,629.3 Q191.25,630.8 188.73,629.3 Z" fill="none" stroke="#4a4a4a" stroke-width="0.6"/>
<g transform="rotate(-15 187.75 646.25)">
<ellipse cx="187.75" cy="646.25" rx="12.35" ry="8.35" fill="#e2e2e2" stroke="#777" stroke-width="0.7"/>
<ellipse cx="187.75" cy="646.25" rx="11.47" ry="7.88" fill="#bdbdbd" stroke="#555" stroke-width="0.6"/>
<ellipse cx="187.75" cy="646.25" rx="10.84" ry="7.35" fill="#6e6e6e" stroke="#111" stroke-width="1.1"/>
<ellipse cx="190.3" cy="646.25" rx="6.43" ry="6.16" fill="#161616"/>
<ellipse cx="190.3" cy="646.25" rx="1.28" ry="0.88" fill="#d8d8d8"/>
</g>
<path d="M270.7 627.6h.01M273.9 623.2h.01M268.3 632.1h.01M276.4 624.2h.01M261.6 606.3h.01M265.9 620.0h.01M264.0 631.8h.01M264.8 615.6h.01M266.2 636.9h.01M267.8 630.3h.01M271.9 608.1h.01M260.1 618.7h.01M263.0 635.8h.01M266.0 619.9h.01M272.2 611.9h.01M275.1 635.2h.01M258.7 619.2h.01M268.2 623.4h.01M266.6 633.6h.01M267.5 615.7h.01M266.8 636.2h.01M262.0 634.3h.01M266.3 626.1h.01M255.8 630.1h.01M270.9 632.6h.01M270.7 614.6h.01M277.1 621.2h.01M260.2 619.8h.01M260.4 636.9h.01M267.8 620.5h.01M268.6 629.8h.01M266.4 636.8h.01M259.0 625.2h.01M266.2 630.6h.01M267.4 625.4h.01M274.1 627.2h.01M267.5 619.3h.01M269.3 635.2h.01M261.4 618.0h.01M272.6 611.0h.01M276.1 631.3h.01M270.4 620.1h.01M262.3 634.5h.01M257.8 636.0h.01M251.0 636.0h.01M276.0 626.3h.01M271.2 620.2h.01M261.3 616.1h.01M268.5 609.7h.01M263.5 632.1h.01M267.0 632.9h.01M259.2 608.9h.01M265.8 621.5h.01M271.0 613.5h.01M270.9 634.5h.01M268.3 636.6h.01M265.8 616.3h.01M259.2 636.0h.01M256.4 607.8h.01M264.4 615.0h.01M271.6 634.0h.01M256.9 626.6h.01M258.9 633.2h.01M269.5 618.1h.01M261.3 631.1h.01M265.0 606.8h.01M260.1 607.5h.01M252.3 626.4h.01M258.7 626.2h.01M256.8 616.5h.01M253.4 634.6h.01M274.5 612.2h.01M268.2 607.6h.01M267.5 622.3h.01M273.6 628.1h.01M275.3 611.9h.01M260.8 623.6h.01M264.7 615.2h.01M267.9 620.2h.01M269.3 629.6h.01M264.2 629.6h.01M265.4 633.8h.01M267.6 606.6h.01M255.5 622.8h.01M275.4 613.7h.01M270.0 629.6h.01M265.8 618.3h.01M275.3 608.5h.01M262.0 634.5h.01M269.3 617.7h.01M258.4 635.7h.01M265.9 610.9h.01M260.2 630.2h.01M261.8 636.2h.01M262.6 624.5h.01M274.6 625.5h.01M276.1 636.4h.01M270.3 619.5h.01M258.1 611.2h.01M283.3 609.9h.01M275.9 630.9h.01M270.9 622.3h.01M265.1 627.8h.01M265.2 622.2h.01M260.1 620.9h.01M265.3 615.4h.01M272.1 616.1h.01M267.9 629.4h.01M269.9 622.5h.01M257.2 615.8h.01M260.8 627.5h.01M270.6 636.1h.01M271.9 623.6h.01M269.5 629.8h.01M274.1 627.3h.01M259.4 630.9h.01M260.2 629.3h.01M255.7 628.8h.01M266.4 620.5h.01M279.4 627.0h.01M273.0 636.7h.01M252.2 606.5h.01M264.0 620.6h.01M270.8 612.6h.01M263.7 617.9h.01M265.2 635.6h.01M265.7 611.2h.01M259.3 635.9h.01M264.8 618.9h.01M262.1 627.7h.01M264.1 635.8h.01M261.8 618.5h.01M265.7 612.9h.01M277.6 628.8h.01M268.5 617.1h.01M273.7 620.3h.01M272.3 622.0h.01M263.6 627.1h.01M265.3 620.4h.01M269.6 617.0h.01M271.8 608.1h.01M280.1 632.2h.01M274.6 607.3h.01M262.3 623.8h.01M274.0 629.3h.01M268.0 615.9h.01M273.5 610.7h.01M266.4 618.1h.01M253.8 620.0h.01M269.6 612.2h.01M268.9 624.6h.01M255.2 608.8h.01M268.3 625.3h.01M271.6 615.4h.01M269.7 635.1h.01M255.1 634.1h.01M273.9 610.1h.01M266.9 634.5h.01M265.8 614.2h.01M255.9 609.2h.01" stroke="#a0a0a0" stroke-width="0.9" stroke-linecap="round" fill="none"/>
<path d="M258.5 613.1h.01M262.7 634.6h.01M261.1 633.9h.01M260.6 622.6h.01M268.3 617.0h.01M258.8 631.0h.01M258.4 633.6h.01M260.7 629.9h.01M257.1 618.3h.01M258.7 617.9h.01M261.7 636.3h.01M259.8 631.2h.01M255.6 616.8h.01M263.3 620.0h.01M273.8 629.4h.01M264.9 626.9h.01M270.5 619.3h.01M267.9 620.2h.01M263.7 633.3h.01M266.4 617.2h.01M272.0 620.7h.01M266.1 619.4h.01M264.9 633.9h.01M259.0 636.4h.01M265.1 622.5h.01M272.1 620.2h.01M265.4 625.8h.01M270.6 630.5h.01M276.3 614.9h.01M264.5 620.1h.01M276.2 627.2h.01M260.8 619.5h.01M267.2 635.9h.01M266.5 632.3h.01M259.6 622.8h.01M263.0 626.6h.01M267.7 628.9h.01M273.8 628.4h.01M267.0 612.4h.01M267.0 632.2h.01M272.4 631.6h.01M262.7 623.9h.01M262.5 634.4h.01M266.4 613.4h.01M268.6 619.0h.01M255.9 629.4h.01M257.0 618.4h.01M269.5 627.5h.01M261.5 623.2h.01M265.4 620.6h.01M259.3 629.4h.01M263.7 614.8h.01M272.6 623.8h.01M262.8 635.1h.01M268.3 625.6h.01M265.3 617.6h.01M266.4 618.6h.01M259.2 628.6h.01M270.5 623.3h.01M261.1 618.2h.01M270.6 633.8h.01M266.9 623.8h.01M267.6 636.4h.01M267.3 636.7h.01M273.6 613.9h.01M269.2 634.4h.01M260.6 633.7h.01M267.2 629.2h.01M261.0 632.8h.01M263.1 632.5h.01M264.8 626.1h.01M264.9 635.8h.01M264.7 630.7h.01M266.9 632.0h.01M259.6 614.2h.01M266.1 635.2h.01M265.5 612.2h.01M266.2 635.5h.01M269.5 626.4h.01M277.5 631.1h.01M274.1 628.1h.01M269.3 629.1h.01M263.6 632.1h.01M269.0 625.5h.01M265.9 623.8h.01M258.1 614.1h.01M264.9 619.1h.01M269.6 634.1h.01M261.2 612.2h.01M269.3 625.0h.01M262.1 631.4h.01M272.7 629.7h.01M265.6 623.7h.01M253.1 617.2h.01M265.7 634.2h.01M270.0 618.0h.01M259.3 627.2h.01M258.2 630.1h.01M274.9 637.0h.01M269.5 615.6h.01M267.2 621.9h.01M272.8 617.8h.01M268.7 627.2h.01M273.1 630.8h.01M268.7 626.0h.01M272.4 625.4h.01M269.0 622.0h.01M262.1 616.9h.01M259.0 625.2h.01M268.9 629.7h.01M273.2 633.6h.01M266.3 624.9h.01M262.5 628.2h.01M262.6 630.1h.01M268.6 633.4h.01M265.7 626.2h.01M261.6 626.2h.01M264.5 623.2h.01M265.9 623.7h.01M269.0 617.1h.01" stroke="#777" stroke-width="0.8" stroke-linecap="round" fill="none"/>
<path d="M259.3,641 C256.78,627.5 263.35,618.5 266.5,618.5 C269.65,618.5 276.22,627.5 273.7,641 Q266.5,642.5 259.3,641 Z" fill="none" stroke="#4a4a4a" stroke-width="0.6"/>
<path d="M260.82,638.08 C258.83,627.89 264.01,621.1 266.5,621.1 C268.99,621.1 274.17,627.89 272.18,638.08 Q266.5,639.58 260.82,638.08 Z" fill="none" stroke="#4a4a4a" stroke-width="0.6"/>
<path d="M262.34,635.15 C260.88,628.28 264.68,623.7 266.5,623.7 C268.32,623.7 272.12,628.28 270.66,635.15 Q266.5,636.65 262.34,635.15 Z" fill="none" stroke="#4a4a4a" stroke-width="0.6"/>
<path d="M263.86,632.23 C262.94,628.67 265.35,626.3 266.5,626.3 C267.65,626.3 270.06,628.67 269.14,632.23 Q266.5,633.73 263.86,632.23 Z" fill="none" stroke="#4a4a4a" stroke-width="0.6"/>
<path d="M265.38,629.3 C264.99,629.06 266.01,628.9 266.5,628.9 C266.99,628.9 268.01,629.06 267.62,629.3 Q266.5,630.8 265.38,629.3 Z" fill="none" stroke="#4a4a4a" stroke-width="0.6"/>
<g transform="rotate(-10 263.5 646.25)">
<ellipse cx="263.5" cy="646.25" rx="11.6" ry="8.35" fill="#e2e2e2" stroke="#777" stroke-width="0.7"/>
<ellipse cx="263.5" cy="646.25" rx="10.8" ry="7.88" fill="#bdbdbd" stroke="#555" stroke-width="0.6"/>
<ellipse cx="263.5" cy="646.25" rx="10.2" ry="7.35" fill="#6e6e6e" stroke="#111" stroke-width="1.1"/>
<ellipse cx="266.7" cy="646.25" rx="5.88" ry="6.16" fill="#161616"/>
<ellipse cx="267.82" cy="646.25" rx="1.2" ry="0.88" fill="#d8d8d8"/>
</g>
<clipPath id="k1"><rect x="75.5" y="685.6" width="75.7" height="76.3"/></clipPath><g clip-path="url(#k1)">
<path d="M119.4 719.8h.01M110.0 760.0h.01M114.8 749.8h.01M118.5 738.8h.01M119.8 758.9h.01M105.5 737.7h.01M85.9 750.9h.01M92.7 757.9h.01M110.9 756.7h.01M107.7 747.8h.01M108.6 755.8h.01M120.4 747.5h.01M134.3 758.9h.01M102.8 747.0h.01M105.9 735.0h.01M93.7 758.8h.01M102.7 758.8h.01M134.5 749.8h.01M128.4 750.3h.01M132.4 731.4h.01M128.4 720.7h.01M117.2 757.9h.01M95.1 741.3h.01M111.3 750.1h.01M122.4 739.9h.01M106.0 747.5h.01M106.5 746.2h.01M130.0 742.3h.01M104.0 725.5h.01M96.8 759.9h.01M102.8 741.1h.01M123.7 758.1h.01M128.0 741.0h.01M107.0 726.1h.01M118.8 746.3h.01M106.8 738.9h.01M105.8 731.7h.01M123.6 721.2h.01M87.7 749.7h.01M106.5 732.2h.01M110.4 741.4h.01M107.7 755.2h.01M125.7 755.7h.01M104.6 744.6h.01M93.7 759.8h.01M109.2 752.7h.01M89.8 749.5h.01M115.8 739.1h.01M117.5 748.4h.01M86.7 758.4h.01M128.4 749.3h.01M113.9 738.6h.01M122.2 742.3h.01M130.9 735.5h.01M147.3 739.1h.01M121.5 727.5h.01M114.3 756.3h.01M122.5 731.1h.01M111.0 743.6h.01M118.2 732.5h.01M99.3 757.9h.01M130.9 755.4h.01M125.2 755.8h.01M115.2 720.8h.01M116.7 740.3h.01M127.5 752.9h.01M108.9 734.5h.01M96.7 733.7h.01M111.5 750.3h.01M117.1 729.9h.01M127.5 723.0h.01M99.1 744.6h.01M108.7 744.2h.01M109.5 720.5h.01M112.1 749.2h.01M110.7 759.6h.01M117.8 745.9h.01M103.6 728.8h.01M96.7 754.9h.01M135.4 717.7h.01M97.4 730.8h.01M125.7 754.4h.01M125.9 739.5h.01M101.0 755.8h.01M103.0 735.9h.01M111.3 729.9h.01M120.8 751.2h.01M97.8 754.9h.01M121.0 741.2h.01M110.5 756.5h.01M113.0 749.9h.01M98.2 731.9h.01M114.4 740.2h.01M115.8 733.9h.01M75.2 729.6h.01M107.9 746.7h.01M124.5 745.6h.01M97.8 753.4h.01M145.8 750.9h.01M116.7 754.6h.01M114.9 723.9h.01M106.3 731.0h.01M79.0 757.5h.01M111.0 741.4h.01M95.5 738.2h.01M96.0 759.2h.01M133.1 757.3h.01M103.9 754.4h.01M104.9 736.0h.01M101.9 734.0h.01M141.9 736.8h.01M123.3 719.8h.01M109.4 742.7h.01M118.0 738.2h.01M119.2 741.5h.01M126.2 739.1h.01M116.6 746.1h.01M100.9 756.6h.01M125.1 721.6h.01M108.5 758.6h.01M102.2 728.1h.01M111.1 734.1h.01M109.2 722.4h.01M119.1 759.8h.01M114.9 744.0h.01M105.8 754.4h.01M106.7 738.5h.01M111.9 740.2h.01M127.9 743.2h.01M102.5 749.1h.01M132.3 754.6h.01M118.4 750.4h.01M104.6 717.9h.01M120.8 725.0h.01M120.7 753.7h.01M124.7 733.0h.01M92.4 749.1h.01M115.4 719.4h.01M128.3 737.0h.01M103.1 734.1h.01M99.8 738.4h.01M81.8 740.9h.01M103.9 741.2h.01M109.0 757.7h.01M87.6 735.1h.01M103.0 756.4h.01M114.0 745.7h.01M102.2 750.8h.01M95.0 734.1h.01M103.6 746.6h.01M96.7 739.9h.01M131.8 759.4h.01M103.2 741.6h.01M107.1 728.1h.01M111.6 748.3h.01M107.7 737.2h.01M113.2 750.7h.01M104.8 751.8h.01M112.8 739.9h.01M119.4 749.7h.01M111.9 742.6h.01M113.9 754.6h.01M130.2 745.0h.01M139.9 730.0h.01M122.9 743.8h.01M119.9 730.9h.01M126.3 734.8h.01M120.3 742.7h.01M91.4 747.4h.01M118.6 733.5h.01" stroke="#b4b4b4" stroke-width="1" stroke-linecap="round" fill="none"/>
<path d="M84.1 739.7h.01M87.1 755.8h.01M85.4 742.4h.01M95.8 745.6h.01M83.3 756.7h.01M81.5 750.7h.01M83.8 746.9h.01M88.4 755.5h.01M86.7 742.2h.01M82.6 758.5h.01M82.4 750.4h.01M95.6 752.5h.01M82.2 759.7h.01M81.2 755.0h.01M90.8 757.6h.01M75.8 747.7h.01M88.9 739.3h.01M87.2 759.5h.01M84.5 757.5h.01M85.9 755.4h.01M78.4 735.7h.01M80.1 747.7h.01M85.5 729.9h.01M71.1 747.3h.01M100.4 754.0h.01M86.7 728.5h.01M88.4 751.0h.01M82.9 742.5h.01M93.4 754.5h.01M87.9 734.8h.01M91.2 726.5h.01M80.1 735.4h.01M101.4 743.3h.01M85.2 736.3h.01M93.3 736.3h.01M84.9 743.0h.01M78.9 751.8h.01M85.3 748.4h.01M74.7 746.6h.01M100.1 751.1h.01M89.1 758.5h.01M88.7 759.8h.01M87.1 742.4h.01M99.3 752.9h.01M71.9 749.0h.01M88.6 729.2h.01M88.6 754.3h.01M81.1 750.6h.01M81.5 760.0h.01M85.2 735.5h.01M76.6 754.3h.01M77.6 750.5h.01M86.5 733.5h.01M75.1 737.0h.01M77.4 751.4h.01M91.7 742.2h.01M93.1 737.7h.01M86.0 755.3h.01M84.9 757.7h.01M78.4 751.2h.01M84.8 739.5h.01M77.2 759.2h.01M82.9 745.1h.01M94.1 753.0h.01M81.7 729.3h.01M66.3 751.4h.01M79.1 753.9h.01M79.0 738.7h.01M91.4 740.4h.01M81.1 750.3h.01M85.1 754.0h.01M91.8 757.4h.01M81.0 754.1h.01M73.6 749.1h.01M90.4 740.5h.01M97.7 745.0h.01M87.6 746.4h.01M86.6 742.9h.01M83.4 750.0h.01M82.7 736.9h.01M84.8 754.5h.01M90.8 735.9h.01M80.3 736.8h.01M80.6 743.3h.01M85.6 742.0h.01M80.1 759.4h.01M78.9 736.7h.01M90.5 732.7h.01M81.3 753.0h.01M86.8 740.4h.01M86.6 728.3h.01M79.3 736.6h.01M83.1 732.6h.01M84.6 753.9h.01M95.2 744.7h.01M90.9 745.7h.01M91.4 737.5h.01M88.6 729.2h.01M94.7 754.6h.01M76.3 732.2h.01M78.8 757.2h.01M81.6 749.0h.01M92.0 738.4h.01M86.2 738.0h.01M81.5 744.6h.01M79.4 739.5h.01M87.3 732.0h.01M72.7 731.0h.01M78.2 738.0h.01M72.9 739.5h.01M81.9 753.8h.01M89.4 744.2h.01M87.6 735.7h.01M71.1 746.2h.01M91.5 759.0h.01M73.2 739.6h.01M83.8 750.9h.01M83.3 754.0h.01M74.7 729.8h.01M79.1 733.7h.01" stroke="#999" stroke-width="0.9" stroke-linecap="round" fill="none"/>
<path d="M75.5,722 C76.58,721.92 79.58,721 82,721.5 C84.42,722 87.67,722.92 90,725 C92.33,727.08 94.67,730.5 96,734 C97.33,737.5 98,742.33 98,746 C98,749.67 97.33,753.33 96,756 C94.67,758.67 93.42,761 90,762 C86.58,763 77.92,762 75.5,762" fill="none" stroke="#777" stroke-width="0.6"/>
<path d="M75.5,728 C76.58,727.92 79.92,727 82,727.5 C84.08,728 86.17,729.08 88,731 C89.83,732.92 91.92,736 93,739 C94.08,742 94.67,746 94.5,749 C94.33,752 93.42,754.83 92,757 C90.58,759.17 87,761.17 86,762" fill="none" stroke="#777" stroke-width="0.6"/>
<path d="M75.5,734 C76.42,733.92 79.25,733 81,733.5 C82.75,734 84.5,735.25 86,737 C87.5,738.75 89.17,741.5 90,744 C90.83,746.5 91.33,749.5 91,752 C90.67,754.5 89.5,757.33 88,759 C86.5,760.67 83,761.5 82,762" fill="none" stroke="#666" stroke-width="0.6"/>
<ellipse cx="85.05" cy="751" rx="8.05" ry="9.6" fill="#e2e2e2" stroke="#777" stroke-width="0.7"/>
<ellipse cx="85.05" cy="751" rx="7.61" ry="9" fill="#bdbdbd" stroke="#555" stroke-width="0.6"/>
<ellipse cx="85.05" cy="751" rx="7.18" ry="8.4" fill="#6e6e6e" stroke="#111" stroke-width="1.1"/>
<ellipse cx="83.76" cy="751.72" rx="4.73" ry="7.04" fill="#161616"/>
<ellipse cx="83.36" cy="753.4" rx="0.85" ry="1" fill="#d8d8d8"/>
<path d="M104,741 C102,738.58 102,733.83 103,731 C104,728.17 107.17,725.75 110,724 C112.83,722.25 116.83,721 120,720.5 C123.17,720 126.75,719.92 129,721 C131.25,722.08 133,724.33 133.5,727 C134,729.67 133.25,734.17 132,737 C130.75,739.83 128.83,742.58 126,744 C123.17,745.42 118.67,746 115,745.5 C111.33,745 106,743.42 104,741Z" fill="none" stroke="#666" stroke-width="0.65"/>
<path d="M108,739 C106.17,737.25 107,733.17 108,731 C109,728.83 111.83,727.17 114,726 C116.17,724.83 118.67,724.17 121,724 C123.33,723.83 126.5,723.83 128,725 C129.5,726.17 130.17,728.67 130,731 C129.83,733.33 128.83,737.25 127,739 C125.17,740.75 122.17,741.5 119,741.5 C115.83,741.5 109.83,740.75 108,739Z" fill="none" stroke="#666" stroke-width="0.65"/>
<path d="M116,736 C115.17,734.67 115.17,731.42 116,730 C116.83,728.58 119.33,727.67 121,727.5 C122.67,727.33 125.17,727.75 126,729 C126.83,730.25 126.83,733.5 126,735 C125.17,736.5 122.67,737.83 121,738 C119.33,738.17 116.83,737.33 116,736Z" fill="none" stroke="#666" stroke-width="0.65"/>
<path d="M119,733.5 C119,732.75 119.83,731.33 120.5,731 C121.17,730.67 122.58,730.92 123,731.5 C123.42,732.08 123.42,733.83 123,734.5 C122.58,735.17 121.17,735.67 120.5,735.5 C119.83,735.33 119,734.25 119,733.5Z" fill="none" stroke="#555" stroke-width="0.65"/>
<path d="M103,749 C104.5,747.83 108.5,746.83 112,746.5 C115.5,746.17 121.17,746.25 124,747 C126.83,747.75 129,749.5 129,751 C129,752.5 127.17,755.08 124,756 C120.83,756.92 113.5,756.92 110,756.5 C106.5,756.08 104.17,754.75 103,753.5 C101.83,752.25 101.5,750.17 103,749Z" fill="none" stroke="#666" stroke-width="0.65"/>
</g>
<clipPath id="k2"><rect x="151.2" y="685.6" width="76" height="76.3"/></clipPath><g clip-path="url(#k2)">
<path d="M222.4 756.8h.01M176.5 722.8h.01M179.7 744.8h.01M184.0 726.1h.01M197.4 731.4h.01M206.2 741.9h.01M197.9 751.1h.01M192.9 740.6h.01M169.3 738.0h.01M190.2 720.7h.01M195.9 749.3h.01M173.7 748.1h.01M205.1 752.7h.01M189.6 738.4h.01M173.5 736.0h.01M183.0 723.0h.01M170.0 747.0h.01M195.6 741.6h.01M186.4 729.1h.01M185.1 736.4h.01M195.7 725.1h.01M183.5 724.0h.01M202.9 746.4h.01M194.7 754.6h.01M185.5 734.8h.01M203.8 735.5h.01M195.0 733.3h.01M174.6 724.6h.01M196.6 754.9h.01M170.6 732.3h.01M161.9 747.1h.01M183.2 758.4h.01M210.9 720.5h.01M225.0 740.4h.01M217.2 750.3h.01M195.7 759.2h.01M203.6 745.1h.01M159.9 759.7h.01M191.9 759.3h.01M179.1 738.7h.01M193.9 742.4h.01M197.2 730.1h.01M223.4 731.1h.01M178.1 724.3h.01M183.6 745.3h.01M190.5 754.4h.01M191.7 757.1h.01M206.7 741.5h.01M175.7 754.4h.01M216.7 756.9h.01M186.5 750.5h.01M178.6 754.9h.01M185.4 735.1h.01M184.1 740.1h.01M194.4 745.5h.01M174.3 754.8h.01M207.4 736.8h.01M204.5 745.9h.01M197.4 758.6h.01M182.9 722.4h.01M175.8 732.1h.01M185.4 745.9h.01M177.0 751.4h.01M194.8 713.7h.01M174.4 726.9h.01M209.1 756.1h.01M198.1 728.8h.01M212.3 741.7h.01M186.9 750.7h.01M194.7 742.9h.01M185.5 745.7h.01M175.8 744.7h.01M183.1 723.0h.01M220.6 756.4h.01M202.7 753.3h.01M179.6 749.9h.01M182.8 736.2h.01M184.9 737.5h.01M180.6 737.2h.01M225.6 739.2h.01M169.4 742.8h.01M204.5 745.7h.01M191.6 723.2h.01M203.3 731.2h.01M189.6 743.8h.01M219.3 724.8h.01M185.1 746.1h.01M193.6 741.4h.01M198.8 755.6h.01M183.6 732.8h.01M211.7 719.2h.01M189.8 754.2h.01M189.9 727.2h.01M205.1 755.2h.01M211.3 739.5h.01M204.3 750.1h.01M190.5 757.5h.01M197.4 749.2h.01M210.5 757.4h.01M225.5 729.3h.01M211.1 726.7h.01M194.3 751.8h.01M170.4 746.3h.01M196.3 753.1h.01M200.3 747.0h.01M174.9 736.5h.01M196.1 755.8h.01M196.6 730.6h.01M181.1 748.0h.01M197.4 744.9h.01M201.5 738.1h.01M180.4 749.1h.01M191.0 735.9h.01M160.1 756.7h.01M231.5 726.1h.01M187.4 738.9h.01M196.0 718.9h.01M165.9 739.5h.01M188.2 745.0h.01M168.7 730.8h.01M187.9 736.0h.01M194.7 740.8h.01M200.3 740.3h.01M175.2 732.7h.01M183.7 741.5h.01M211.1 728.8h.01M200.0 759.1h.01M175.5 745.0h.01M181.4 747.6h.01M181.7 757.6h.01M212.4 740.9h.01M189.6 721.1h.01M199.5 739.0h.01M180.2 720.6h.01M205.6 759.3h.01M195.0 752.1h.01M186.7 734.0h.01M171.9 728.5h.01M187.9 746.9h.01M189.0 744.2h.01M185.1 721.5h.01M190.1 742.6h.01M204.2 735.8h.01M207.9 748.1h.01M192.0 744.9h.01M172.9 730.1h.01M169.8 733.8h.01M223.7 734.6h.01M174.4 753.7h.01M192.7 735.1h.01" stroke="#bcbcbc" stroke-width="1" stroke-linecap="round" fill="none"/>
<path d="M170.9 755.6h.01M145.8 756.5h.01M171.7 758.1h.01M159.9 736.6h.01M161.5 739.8h.01M151.0 745.0h.01M152.1 754.1h.01M175.0 739.2h.01M158.0 731.2h.01M157.0 756.7h.01M164.3 738.4h.01M155.2 741.6h.01M172.5 758.3h.01M161.5 752.1h.01M167.1 759.7h.01M162.9 726.8h.01M156.4 754.8h.01M152.2 751.8h.01M156.3 737.4h.01M165.5 731.2h.01M163.9 757.3h.01M152.7 750.2h.01M169.9 740.0h.01M160.6 742.4h.01M172.8 750.3h.01M166.9 743.3h.01M170.1 742.2h.01M154.8 740.2h.01M159.1 758.6h.01M166.3 731.4h.01M161.7 754.8h.01M160.1 757.9h.01M166.8 730.0h.01M162.4 744.9h.01M164.9 753.9h.01M158.7 753.5h.01M154.8 747.9h.01M163.3 758.6h.01M165.7 749.0h.01M161.8 759.8h.01M167.4 726.9h.01M174.0 733.7h.01M171.5 746.5h.01M160.5 746.4h.01M173.3 751.4h.01M152.4 759.3h.01M156.7 738.9h.01M147.5 734.2h.01M168.4 752.7h.01M163.3 750.4h.01M161.1 754.1h.01M151.3 746.2h.01M153.4 743.8h.01M162.1 758.1h.01M157.9 759.5h.01M158.1 756.2h.01M164.2 750.5h.01M157.4 735.4h.01M161.3 758.9h.01M158.4 750.2h.01M151.6 758.8h.01M156.0 758.3h.01M162.6 751.1h.01M165.1 753.0h.01M162.1 758.1h.01M153.0 757.9h.01M172.1 727.7h.01M158.0 755.1h.01M157.5 742.7h.01M164.9 741.2h.01M151.1 755.8h.01M160.9 758.3h.01M155.0 754.3h.01M167.3 751.3h.01M157.6 759.1h.01M161.3 745.3h.01M160.7 748.4h.01M171.0 756.9h.01M158.6 745.4h.01M156.0 750.6h.01M158.7 750.0h.01M160.0 745.6h.01M165.5 747.0h.01M156.5 735.6h.01M163.9 733.6h.01M156.5 755.1h.01M163.9 754.9h.01M143.4 752.6h.01M173.0 750.9h.01M154.3 749.4h.01M152.0 722.3h.01M177.3 750.5h.01M159.1 743.8h.01M150.9 747.5h.01M162.6 746.9h.01M161.8 746.6h.01M154.2 728.3h.01M166.5 729.8h.01M165.4 755.2h.01M164.6 727.7h.01M177.4 740.9h.01M153.3 731.4h.01M170.0 753.6h.01M158.3 737.5h.01M167.0 759.8h.01M153.6 751.9h.01M158.1 739.3h.01M170.6 743.6h.01M167.3 755.5h.01M165.9 727.9h.01M155.2 729.4h.01M149.7 723.5h.01M161.7 741.4h.01M152.4 724.8h.01M164.4 759.0h.01M152.3 755.5h.01M156.3 746.7h.01M161.3 755.4h.01M175.4 753.8h.01M164.0 741.1h.01" stroke="#a0a0a0" stroke-width="0.9" stroke-linecap="round" fill="none"/>
<path d="M151.2,722 C152,722.25 154.37,722.5 156,723.5 C157.63,724.5 159.33,725.92 161,728 C162.67,730.08 164.33,733.5 166,736 C167.67,738.5 169,741.25 171,743 C173,744.75 175.17,745.58 178,746.5 C180.83,747.42 185.67,747.58 188,748.5 C190.33,749.42 192.33,750.75 192,752 C191.67,753.25 188.83,755 186,756 C183.17,757 178.5,757 175,758 C171.5,759 168.97,761.33 165,762 C161.03,762.67 153.5,762 151.2,762" fill="none" stroke="#777" stroke-width="0.6"/>
<path d="M151.2,731 C152.17,731.33 155.2,731.5 157,733 C158.8,734.5 160.33,737.83 162,740 C163.67,742.17 164.83,744.42 167,746 C169.17,747.58 172.33,748.5 175,749.5 C177.67,750.5 182.5,751 183,752 C183.5,753 180.83,754.5 178,755.5 C175.17,756.5 169.33,756.92 166,758 C162.67,759.08 159.33,761.33 158,762" fill="none" stroke="#777" stroke-width="0.6"/>
<path d="M151.2,739 C152.17,739.33 155.2,739.83 157,741 C158.8,742.17 160.33,744.33 162,746 C163.67,747.67 166,749.33 167,751 C168,752.67 168.67,754.33 168,756 C167.33,757.67 163.83,760.17 163,761" fill="none" stroke="#666" stroke-width="0.6"/>
<ellipse cx="158.9" cy="752.75" rx="6.7" ry="7.85" fill="#e2e2e2" stroke="#777" stroke-width="0.7"/>
<ellipse cx="158.9" cy="752.75" rx="6.39" ry="7.42" fill="#bdbdbd" stroke="#555" stroke-width="0.6"/>
<ellipse cx="158.19" cy="753.25" rx="5.82" ry="7.26" fill="#2a2a2a" stroke="#000" stroke-width="1.3"/>
<ellipse cx="158.19" cy="754.4" rx="3.2" ry="3.99" fill="#555"/>
<ellipse cx="157.61" cy="755.13" rx="1.75" ry="2.18" fill="#0a0a0a"/>
<ellipse cx="158.19" cy="754.4" rx="0.8" ry="0.74" fill="#ddd"/>
</g>
<clipPath id="k3"><rect x="227.2" y="685.6" width="75.5" height="76.3"/></clipPath><g clip-path="url(#k3)">
<path d="M261.7 729.3h.01M242.0 760.0h.01M275.2 723.5h.01M287.6 752.6h.01M280.7 751.6h.01M285.8 752.9h.01M241.8 759.7h.01M278.1 725.2h.01M232.9 752.0h.01M264.3 741.5h.01M256.4 722.9h.01M300.6 752.7h.01M272.5 736.5h.01M261.2 735.6h.01M255.1 756.9h.01M264.5 757.8h.01M256.0 721.7h.01M295.2 723.8h.01M255.3 754.6h.01M246.4 759.8h.01M275.0 752.2h.01M259.5 757.8h.01M281.6 727.6h.01M277.1 726.9h.01M247.3 759.2h.01M270.7 726.2h.01M219.8 752.9h.01M266.3 744.9h.01M268.9 733.4h.01M287.7 748.9h.01M259.7 753.8h.01M256.8 739.8h.01M242.1 732.9h.01M273.1 729.5h.01M254.7 756.3h.01M261.3 732.8h.01M264.7 741.8h.01M271.5 735.9h.01M245.4 718.7h.01M275.5 759.7h.01M261.9 745.1h.01M243.2 746.5h.01M256.1 731.4h.01M275.6 735.4h.01M264.6 757.3h.01M280.2 753.9h.01M266.4 733.5h.01M266.0 745.3h.01M262.8 748.5h.01M254.4 757.2h.01M266.5 752.7h.01M281.7 736.2h.01M265.5 716.5h.01M254.1 742.2h.01M290.3 755.4h.01M278.2 744.8h.01M275.8 741.6h.01M262.3 728.9h.01M292.9 720.2h.01M275.9 758.1h.01M247.6 719.9h.01M260.4 757.3h.01M269.8 729.3h.01M261.7 726.8h.01M262.3 753.9h.01M267.9 743.5h.01M264.9 749.2h.01M257.7 741.9h.01M259.4 759.7h.01M256.4 755.4h.01M274.4 729.8h.01M256.9 727.6h.01M292.8 734.5h.01M295.0 756.2h.01M270.2 732.9h.01M287.3 735.6h.01M267.7 758.4h.01M248.8 732.3h.01M267.4 731.0h.01M273.0 759.4h.01M253.4 737.2h.01M261.8 752.7h.01M265.0 719.6h.01M260.4 728.8h.01M277.3 731.7h.01M247.2 732.1h.01M260.6 752.3h.01M287.8 732.3h.01M263.1 758.4h.01M277.1 745.6h.01M277.7 748.5h.01M264.1 746.2h.01M280.1 731.8h.01M262.5 754.5h.01M284.0 736.8h.01M263.1 723.0h.01M238.1 737.9h.01M278.9 741.7h.01M258.5 724.7h.01M263.9 744.4h.01M295.8 735.4h.01M262.2 753.5h.01M277.1 738.0h.01M251.9 730.0h.01M261.9 731.0h.01M247.6 726.8h.01M287.8 756.6h.01M285.3 744.3h.01M251.2 727.8h.01M253.9 744.4h.01M241.2 728.2h.01M277.0 755.4h.01M280.0 756.8h.01M283.0 722.2h.01M266.7 744.0h.01M268.1 743.1h.01M283.6 757.3h.01M264.0 751.7h.01M275.1 723.7h.01M257.1 748.6h.01M282.9 729.1h.01M280.7 747.5h.01M271.6 730.3h.01M232.5 728.9h.01M234.8 733.1h.01M286.0 742.7h.01M264.3 745.1h.01M271.4 735.6h.01M245.4 749.7h.01M272.3 732.6h.01M257.6 752.9h.01M254.1 713.6h.01M264.0 745.8h.01M288.5 743.8h.01M248.9 751.9h.01M264.5 755.1h.01M273.4 746.5h.01M238.0 728.7h.01M249.0 753.1h.01M288.4 748.0h.01M273.8 749.3h.01M273.9 740.6h.01M282.1 731.9h.01M302.4 757.9h.01M242.8 753.2h.01M243.9 730.3h.01M271.9 741.1h.01M295.6 743.8h.01M267.7 751.4h.01M249.0 744.5h.01" stroke="#bcbcbc" stroke-width="1" stroke-linecap="round" fill="none"/>
<path d="M231.6 741.5h.01M225.2 752.3h.01M234.7 750.9h.01M231.0 747.8h.01M238.8 738.1h.01M240.7 741.4h.01M245.0 733.8h.01M246.7 758.9h.01M229.8 746.4h.01M230.4 748.6h.01M232.0 727.0h.01M235.1 759.1h.01M228.6 753.6h.01M225.1 732.9h.01M240.9 741.0h.01M245.5 749.8h.01M238.1 722.0h.01M236.7 739.3h.01M220.9 741.2h.01M230.2 754.2h.01M236.9 736.6h.01M231.7 745.8h.01M240.5 741.4h.01M236.1 738.5h.01M233.7 752.0h.01M236.5 742.6h.01M227.5 755.6h.01M246.7 752.2h.01M227.2 731.3h.01M224.5 731.0h.01M242.0 753.8h.01M235.2 758.5h.01M230.6 754.9h.01M229.6 752.6h.01M231.1 758.9h.01M228.8 727.8h.01M233.6 736.2h.01M236.2 737.8h.01M234.6 729.2h.01M237.6 744.0h.01M241.9 735.1h.01M230.5 748.1h.01M237.7 737.7h.01M248.8 751.6h.01M231.2 752.5h.01M240.2 743.2h.01M224.6 742.5h.01M234.9 754.5h.01M234.3 754.2h.01M234.0 725.3h.01M225.2 753.8h.01M237.2 726.0h.01M248.7 739.8h.01M239.2 741.1h.01M244.6 743.0h.01M230.5 745.5h.01M239.0 739.3h.01M233.8 737.6h.01M236.3 739.0h.01M244.2 739.9h.01M232.8 747.9h.01M242.6 728.5h.01M232.6 757.0h.01M234.2 744.4h.01M231.0 756.3h.01M228.4 729.8h.01M238.1 741.4h.01M238.8 756.2h.01M233.4 756.3h.01M238.5 750.4h.01M242.8 743.3h.01M220.4 757.9h.01M242.7 723.1h.01M237.6 750.6h.01M236.7 739.2h.01M240.9 730.2h.01M230.5 735.6h.01M241.0 750.9h.01M239.4 733.5h.01M243.2 757.2h.01M243.2 747.8h.01M227.5 750.1h.01M237.1 750.8h.01M229.4 740.2h.01M236.1 740.3h.01M229.0 759.7h.01M232.8 757.4h.01M247.2 752.9h.01M235.0 759.4h.01M224.4 758.2h.01M233.4 743.2h.01M239.4 740.9h.01M232.7 757.9h.01M236.6 749.0h.01M231.8 722.4h.01M245.0 753.7h.01M240.4 757.7h.01M226.4 749.8h.01M234.6 757.6h.01M229.3 750.3h.01M231.4 754.6h.01M246.0 742.1h.01M236.4 751.9h.01M236.9 742.6h.01M240.7 731.7h.01M237.9 727.0h.01M230.9 747.5h.01M232.5 756.8h.01M241.6 750.2h.01M234.2 753.3h.01M241.9 738.2h.01M224.1 734.7h.01M228.1 725.7h.01M241.9 733.1h.01M238.9 757.5h.01M223.7 752.3h.01M244.9 722.8h.01M229.5 753.5h.01M246.4 753.0h.01M235.2 739.8h.01" stroke="#a0a0a0" stroke-width="0.9" stroke-linecap="round" fill="none"/>
<path d="M227.2,723 C228.17,722.92 230.87,722 233,722.5 C235.13,723 237.83,724.25 240,726 C242.17,727.75 244.33,730.33 246,733 C247.67,735.67 248.67,739.83 250,742 C251.33,744.17 252,745.5 254,746 C256,746.5 259,745.25 262,745 C265,744.75 268.83,744 272,744.5 C275.17,745 279.83,746.08 281,748 C282.17,749.92 282.17,754.33 279,756 C275.83,757.67 267.17,757 262,758 C256.83,759 253.8,761.33 248,762 C242.2,762.67 230.67,762 227.2,762" fill="none" stroke="#777" stroke-width="0.6"/>
<path d="M227.2,730 C228.33,730 231.87,729.33 234,730 C236.13,730.67 238.33,732.17 240,734 C241.67,735.83 242.83,738.67 244,741 C245.17,743.33 246,745.67 247,748 C248,750.33 250.17,752.67 250,755 C249.83,757.33 246.67,760.83 246,762" fill="none" stroke="#777" stroke-width="0.6"/>
<path d="M262,744 C261.67,742.5 260,737.75 260,735 C260,732.25 260.83,729 262,727.5 C263.17,726 265.33,725.83 267,726 C268.67,726.17 271,726.83 272,728.5 C273,730.17 273.17,733.42 273,736 C272.83,738.58 271.33,742.67 271,744" fill="none" stroke="#444" stroke-width="0.8"/>
<ellipse cx="236.65" cy="751.25" rx="7.95" ry="9.35" fill="#e2e2e2" stroke="#777" stroke-width="0.7"/>
<ellipse cx="236.65" cy="751.25" rx="7.51" ry="8.78" fill="#bdbdbd" stroke="#555" stroke-width="0.6"/>
<ellipse cx="235.88" cy="751.84" rx="7.18" ry="8.58" fill="#2a2a2a" stroke="#000" stroke-width="1.3"/>
<ellipse cx="235.31" cy="753.2" rx="3.95" ry="4.72" fill="#555"/>
<ellipse cx="234.6" cy="754.06" rx="2.15" ry="2.57" fill="#0a0a0a"/>
<ellipse cx="235.31" cy="753.2" rx="0.8" ry="0.88" fill="#ddd"/>
</g>
<path d="M434.5 846.2h.01M447.4 831.5h.01M444.9 824.4h.01M436.9 848.2h.01M440.9 837.3h.01M444.4 841.1h.01M445.3 846.0h.01M445.3 839.4h.01M442.5 845.8h.01M435.6 830.4h.01M438.2 827.5h.01M444.5 848.5h.01M439.8 841.0h.01M439.6 837.1h.01M441.9 838.2h.01M443.2 825.9h.01M436.6 828.4h.01M439.1 846.8h.01M443.4 845.7h.01M441.6 831.7h.01M436.4 837.6h.01M443.3 839.0h.01M436.4 825.2h.01M440.9 845.7h.01M440.7 836.9h.01M442.2 845.6h.01M437.9 838.6h.01M437.8 831.7h.01M438.3 825.6h.01M438.5 828.5h.01M446.1 846.9h.01M444.3 844.5h.01M441.4 848.1h.01M443.2 836.1h.01M443.6 841.7h.01M445.5 840.1h.01M437.8 839.0h.01M442.0 838.1h.01M439.2 835.6h.01M437.0 848.8h.01" stroke="#b0b0b0" stroke-width="1" stroke-linecap="round" fill="none"/>
<path d="M439,852 C437.18,840.72 440.95,833.2 444.2,833.2 C447.45,833.2 451.22,840.72 449.4,852 Q444.2,853.5 439,852 Z" fill="none" stroke="#767676" stroke-width="0.6"/>
<path d="M440.52,849.56 C439.23,841.3 441.9,835.8 444.2,835.8 C446.5,835.8 449.17,841.3 447.88,849.56 Q444.2,851.06 440.52,849.56 Z" fill="none" stroke="#767676" stroke-width="0.6"/>
<path d="M442.04,847.11 C441.28,841.88 442.85,838.4 444.2,838.4 C445.55,838.4 447.12,841.88 446.36,847.11 Q444.2,848.61 442.04,847.11 Z" fill="none" stroke="#767676" stroke-width="0.6"/>
<ellipse cx="440.75" cy="859.5" rx="10.85" ry="8.6" fill="#e2e2e2" stroke="#777" stroke-width="0.7"/>
<ellipse cx="440.75" cy="859.5" rx="10.12" ry="8.1" fill="#bdbdbd" stroke="#555" stroke-width="0.6"/>
<ellipse cx="440.75" cy="859.61" rx="9.68" ry="7.92" fill="#2a2a2a" stroke="#000" stroke-width="1.3"/>
<ellipse cx="440.75" cy="859.86" rx="5.32" ry="4.36" fill="#555"/>
<ellipse cx="439.78" cy="860.65" rx="2.9" ry="2.38" fill="#0a0a0a"/>
<ellipse cx="440.75" cy="859.86" rx="1.01" ry="0.81" fill="#ddd"/>
<line x1="437.5" y1="863" x2="445.5" y2="855" stroke="#c4c4c4" stroke-width="1.2"/>
<rect x="0" y="0" width="1.2" height="897" fill="#000"/>
<rect x="518.3" y="0" width="1.7" height="897" fill="#000"/>
<rect x="0" y="895.2" width="520" height="1.8" fill="#000"/>
<rect x="512.2" y="2" width="6.1" height="893" fill="#f8f8f8"/>
<text transform="translate(10,21)" font-size="16.6" font-weight="bold">A</text>
<text transform="translate(9.8,299.2)" font-size="16.6" font-weight="bold">B</text>
<text transform="translate(9.6,577.8)" font-size="16.6" font-weight="bold">C</text>
<text transform="translate(9.6,809.2)" font-size="16.6" font-weight="bold">D</text>
<text transform="translate(334.2,804.2)" font-size="16.6" font-weight="bold">E</text>
<text transform="translate(113,18.3)" font-size="10.6" font-weight="bold" text-anchor="middle">25M WT</text>
<text x="187.65" y="18.3" font-size="10.6" font-weight="bold" text-anchor="middle">25M IgH<tspan font-size="7.2" dy="-4.3">μγ1</tspan></text>
<text x="263.15" y="18.3" font-size="10.6" font-weight="bold" text-anchor="middle">75M IgH<tspan font-size="7.2" dy="-4.3">μγ1</tspan></text>
<line x1="72" y1="24" x2="302" y2="24" stroke="#000" stroke-width="1.4"/>
<line x1="72" y1="100" x2="302" y2="100" stroke="#000" stroke-width="1.4"/>
<line x1="72" y1="176" x2="302" y2="176" stroke="#000" stroke-width="1.4"/>
<line x1="76" y1="252" x2="302" y2="252" stroke="#000" stroke-width="1.5"/>
<line x1="76" y1="24" x2="76" y2="255.6" stroke="#000" stroke-width="1.6"/>
<line x1="151" y1="24" x2="151" y2="252" stroke="#000" stroke-width="1.4"/>
<line x1="226.5" y1="24" x2="226.5" y2="252" stroke="#000" stroke-width="1.4"/>
<line x1="302" y1="24" x2="302" y2="252" stroke="#000" stroke-width="1.4"/>
<line x1="72" y1="24" x2="76" y2="24" stroke="#000" stroke-width="1.2"/>
<line x1="73.8" y1="29.72" x2="76" y2="29.72" stroke="#111" stroke-width="1.0"/>
<line x1="72" y1="43" x2="76" y2="43" stroke="#000" stroke-width="1.2"/>
<line x1="73.8" y1="48.72" x2="76" y2="48.72" stroke="#111" stroke-width="1.0"/>
<line x1="72" y1="62" x2="76" y2="62" stroke="#000" stroke-width="1.2"/>
<line x1="73.8" y1="67.72" x2="76" y2="67.72" stroke="#111" stroke-width="1.0"/>
<line x1="72" y1="81" x2="76" y2="81" stroke="#000" stroke-width="1.2"/>
<line x1="73.8" y1="86.72" x2="76" y2="86.72" stroke="#111" stroke-width="1.0"/>
<line x1="72" y1="100" x2="76" y2="100" stroke="#000" stroke-width="1.2"/>
<text transform="translate(67.8,26.3) scale(0.95,1)" font-size="6.5" text-anchor="end" stroke="#000" stroke-width="0.22">10000</text>
<text transform="translate(67.8,45.3) scale(0.95,1)" font-size="6.5" text-anchor="end" stroke="#000" stroke-width="0.22">1000</text>
<text transform="translate(67.8,64.3) scale(0.95,1)" font-size="6.5" text-anchor="end" stroke="#000" stroke-width="0.22">100</text>
<text transform="translate(67.8,83.3) scale(0.95,1)" font-size="6.5" text-anchor="end" stroke="#000" stroke-width="0.22">10</text>
<line x1="72" y1="100" x2="76" y2="100" stroke="#000" stroke-width="1.2"/>
<line x1="73.8" y1="105.72" x2="76" y2="105.72" stroke="#111" stroke-width="1.0"/>
<line x1="72" y1="119" x2="76" y2="119" stroke="#000" stroke-width="1.2"/>
<line x1="73.8" y1="124.72" x2="76" y2="124.72" stroke="#111" stroke-width="1.0"/>
<line x1="72" y1="138" x2="76" y2="138" stroke="#000" stroke-width="1.2"/>
<line x1="73.8" y1="143.72" x2="76" y2="143.72" stroke="#111" stroke-width="1.0"/>
<line x1="72" y1="157" x2="76" y2="157" stroke="#000" stroke-width="1.2"/>
<line x1="73.8" y1="162.72" x2="76" y2="162.72" stroke="#111" stroke-width="1.0"/>
<line x1="72" y1="176" x2="76" y2="176" stroke="#000" stroke-width="1.2"/>
<text transform="translate(67.8,102.3) scale(0.95,1)" font-size="6.5" text-anchor="end" stroke="#000" stroke-width="0.22">10000</text>
<text transform="translate(67.8,121.3) scale(0.95,1)" font-size="6.5" text-anchor="end" stroke="#000" stroke-width="0.22">1000</text>
<text transform="translate(67.8,140.3) scale(0.95,1)" font-size="6.5" text-anchor="end" stroke="#000" stroke-width="0.22">100</text>
<text transform="translate(67.8,159.3) scale(0.95,1)" font-size="6.5" text-anchor="end" stroke="#000" stroke-width="0.22">10</text>
<line x1="72" y1="176" x2="76" y2="176" stroke="#000" stroke-width="1.2"/>
<line x1="73.8" y1="181.72" x2="76" y2="181.72" stroke="#111" stroke-width="1.0"/>
<line x1="72" y1="195" x2="76" y2="195" stroke="#000" stroke-width="1.2"/>
<line x1="73.8" y1="200.72" x2="76" y2="200.72" stroke="#111" stroke-width="1.0"/>
<line x1="72" y1="214" x2="76" y2="214" stroke="#000" stroke-width="1.2"/>
<line x1="73.8" y1="219.72" x2="76" y2="219.72" stroke="#111" stroke-width="1.0"/>
<line x1="72" y1="233" x2="76" y2="233" stroke="#000" stroke-width="1.2"/>
<line x1="73.8" y1="238.72" x2="76" y2="238.72" stroke="#111" stroke-width="1.0"/>
<line x1="72" y1="252" x2="76" y2="252" stroke="#000" stroke-width="1.2"/>
<text transform="translate(67.8,178.3) scale(0.95,1)" font-size="6.5" text-anchor="end" stroke="#000" stroke-width="0.22">10000</text>
<text transform="translate(67.8,197.3) scale(0.95,1)" font-size="6.5" text-anchor="end" stroke="#000" stroke-width="0.22">1000</text>
<text transform="translate(67.8,216.3) scale(0.95,1)" font-size="6.5" text-anchor="end" stroke="#000" stroke-width="0.22">100</text>
<text transform="translate(67.8,235.3) scale(0.95,1)" font-size="6.5" text-anchor="end" stroke="#000" stroke-width="0.22">10</text>
<text transform="translate(67.8,254.3) scale(0.95,1)" font-size="6.5" text-anchor="end" stroke="#000" stroke-width="0.22">1</text>
<line x1="76" y1="252" x2="76" y2="255.8" stroke="#000" stroke-width="1.3"/>
<line x1="89.11" y1="252" x2="89.11" y2="254.4" stroke="#111" stroke-width="1.0"/>
<line x1="94.75" y1="252" x2="94.75" y2="255.8" stroke="#000" stroke-width="1.3"/>
<line x1="107.86" y1="252" x2="107.86" y2="254.4" stroke="#111" stroke-width="1.0"/>
<line x1="113.5" y1="252" x2="113.5" y2="255.8" stroke="#000" stroke-width="1.3"/>
<line x1="126.61" y1="252" x2="126.61" y2="254.4" stroke="#111" stroke-width="1.0"/>
<line x1="132.25" y1="252" x2="132.25" y2="255.8" stroke="#000" stroke-width="1.3"/>
<line x1="145.36" y1="252" x2="145.36" y2="254.4" stroke="#111" stroke-width="1.0"/>
<line x1="151" y1="252" x2="151" y2="255.8" stroke="#000" stroke-width="1.3"/>
<text transform="translate(76,265.8) scale(0.95,1)" font-size="6.5" text-anchor="middle" stroke="#000" stroke-width="0.22">1</text>
<text transform="translate(94.75,265.8) scale(0.95,1)" font-size="6.5" text-anchor="middle" stroke="#000" stroke-width="0.22">10</text>
<text transform="translate(113.5,265.8) scale(0.95,1)" font-size="6.5" text-anchor="middle" stroke="#000" stroke-width="0.22">100</text>
<text transform="translate(132.25,265.8) scale(0.95,1)" font-size="6.5" text-anchor="middle" stroke="#000" stroke-width="0.22">1000</text>
<text transform="translate(151,265.8) scale(0.95,1)" font-size="6.5" text-anchor="middle" stroke="#000" stroke-width="0.22">10000</text>
<line x1="151" y1="252" x2="151" y2="255.8" stroke="#000" stroke-width="1.3"/>
<line x1="164.19" y1="252" x2="164.19" y2="254.4" stroke="#111" stroke-width="1.0"/>
<line x1="169.88" y1="252" x2="169.88" y2="255.8" stroke="#000" stroke-width="1.3"/>
<line x1="183.07" y1="252" x2="183.07" y2="254.4" stroke="#111" stroke-width="1.0"/>
<line x1="188.75" y1="252" x2="188.75" y2="255.8" stroke="#000" stroke-width="1.3"/>
<line x1="201.94" y1="252" x2="201.94" y2="254.4" stroke="#111" stroke-width="1.0"/>
<line x1="207.62" y1="252" x2="207.62" y2="255.8" stroke="#000" stroke-width="1.3"/>
<line x1="220.82" y1="252" x2="220.82" y2="254.4" stroke="#111" stroke-width="1.0"/>
<line x1="226.5" y1="252" x2="226.5" y2="255.8" stroke="#000" stroke-width="1.3"/>
<text transform="translate(169.88,265.8) scale(0.95,1)" font-size="6.5" text-anchor="middle" stroke="#000" stroke-width="0.22">10</text>
<text transform="translate(188.75,265.8) scale(0.95,1)" font-size="6.5" text-anchor="middle" stroke="#000" stroke-width="0.22">100</text>
<text transform="translate(207.62,265.8) scale(0.95,1)" font-size="6.5" text-anchor="middle" stroke="#000" stroke-width="0.22">1000</text>
<text transform="translate(226.5,265.8) scale(0.95,1)" font-size="6.5" text-anchor="middle" stroke="#000" stroke-width="0.22">10000</text>
<line x1="226.5" y1="252" x2="226.5" y2="255.8" stroke="#000" stroke-width="1.3"/>
<line x1="239.69" y1="252" x2="239.69" y2="254.4" stroke="#111" stroke-width="1.0"/>
<line x1="245.38" y1="252" x2="245.38" y2="255.8" stroke="#000" stroke-width="1.3"/>
<line x1="258.57" y1="252" x2="258.57" y2="254.4" stroke="#111" stroke-width="1.0"/>
<line x1="264.25" y1="252" x2="264.25" y2="255.8" stroke="#000" stroke-width="1.3"/>
<line x1="277.44" y1="252" x2="277.44" y2="254.4" stroke="#111" stroke-width="1.0"/>
<line x1="283.12" y1="252" x2="283.12" y2="255.8" stroke="#000" stroke-width="1.3"/>
<line x1="296.32" y1="252" x2="296.32" y2="254.4" stroke="#111" stroke-width="1.0"/>
<line x1="302" y1="252" x2="302" y2="255.8" stroke="#000" stroke-width="1.3"/>
<text transform="translate(245.38,265.8) scale(0.95,1)" font-size="6.5" text-anchor="middle" stroke="#000" stroke-width="0.22">10</text>
<text transform="translate(264.25,265.8) scale(0.95,1)" font-size="6.5" text-anchor="middle" stroke="#000" stroke-width="0.22">100</text>
<text transform="translate(283.12,265.8) scale(0.95,1)" font-size="6.5" text-anchor="middle" stroke="#000" stroke-width="0.22">1000</text>
<text transform="translate(302,265.8) scale(0.95,1)" font-size="6.5" text-anchor="middle" stroke="#000" stroke-width="0.22">10000</text>
<path d="M95.8,24 L95.8,82 L127.9,82 L127.9,24" fill="none" stroke="#000" stroke-width="1.15"/>
<text transform="translate(127.8,46.8)" font-size="12.6" font-weight="bold">1.4</text>
<path d="M170.5,24 L170.5,82 L203.2,82 L203.2,24" fill="none" stroke="#000" stroke-width="1.15"/>
<text transform="translate(203.1,46.8)" font-size="12.6" font-weight="bold">1.8</text>
<path d="M245.6,24 L245.6,82 L278.4,82 L278.4,24" fill="none" stroke="#000" stroke-width="1.15"/>
<text transform="translate(278.3,46.8)" font-size="12.6" font-weight="bold">1.5</text>
<path d="M95.3,100 L95.3,153.5 L127.2,153.5 L127.2,100" fill="none" stroke="#000" stroke-width="1.15"/>
<text transform="translate(127.1,123)" font-size="12.6" font-weight="bold">16.6</text>
<path d="M170.2,100 L170.2,153.5 L202.7,153.5 L202.7,100" fill="none" stroke="#000" stroke-width="1.15"/>
<text transform="translate(202.6,123)" font-size="12.6" font-weight="bold">1.6</text>
<path d="M245.2,100 L245.2,153.5 L277.4,153.5 L277.4,100" fill="none" stroke="#000" stroke-width="1.15"/>
<text transform="translate(277.3,123)" font-size="12.6" font-weight="bold">12.1</text>
<path d="M95.5,176 L95.5,229.2 L127.5,229.2 L127.5,176" fill="none" stroke="#000" stroke-width="1.15"/>
<text transform="translate(127.4,199.5)" font-size="12.6" font-weight="bold">0.5</text>
<path d="M170,176 L170,229.2 L202.6,229.2 L202.6,176" fill="none" stroke="#000" stroke-width="1.15"/>
<text transform="translate(202.5,199.5)" font-size="12.6" font-weight="bold">0.8</text>
<path d="M246.2,176 L246.2,229.2 L278.8,229.2 L278.8,176" fill="none" stroke="#000" stroke-width="1.15"/>
<text transform="translate(278.7,199.5)" font-size="12.6" font-weight="bold">0.8</text>
<text transform="translate(17.8,133.7) rotate(-90)" font-size="10.8" font-weight="bold" text-anchor="middle">Day 40 after HCT</text>
<text transform="translate(33.4,61.7) rotate(-90)" font-size="10.4" font-weight="bold" text-anchor="middle">SPL</text>
<text transform="translate(33.4,138.1) rotate(-90)" font-size="10.4" font-weight="bold" text-anchor="middle">PLN</text>
<text transform="translate(33.4,219.4) rotate(-90)" font-size="10.4" font-weight="bold" text-anchor="middle">SKIN</text>
<line x1="45.85" y1="226" x2="45.85" y2="39" stroke="#000" stroke-width="1.9"/>
<polygon points="45.85,32 41.55,42.2 45.85,40.3 50.15,42.2" fill="#000"/>
<text transform="translate(49,240) rotate(-90) scale(0.92,1)" font-size="10" text-anchor="middle">IL17</text>
<text transform="translate(83.1,275.7) scale(0.87,1)" font-size="10">CD4</text>
<line x1="107.5" y1="272.1" x2="290.5" y2="272.1" stroke="#000" stroke-width="1.9"/>
<polygon points="297.5,272.1 287.5,268.2 289.3,272.1 287.5,276" fill="#000"/>
<text transform="translate(113.2,296.6)" font-size="10.6" font-weight="bold" text-anchor="middle">25M WT</text>
<text x="188.1" y="296.6" font-size="10.6" font-weight="bold" text-anchor="middle">25M IgH<tspan font-size="7.2" dy="-4.3">μγ1</tspan></text>
<text x="263.9" y="296.6" font-size="10.6" font-weight="bold" text-anchor="middle">75M IgH<tspan font-size="7.2" dy="-4.3">μγ1</tspan></text>
<line x1="72" y1="300.8" x2="303" y2="300.8" stroke="#000" stroke-width="1.4"/>
<line x1="72" y1="376.5" x2="303" y2="376.5" stroke="#000" stroke-width="1.4"/>
<line x1="72" y1="451.8" x2="303" y2="451.8" stroke="#000" stroke-width="1.4"/>
<line x1="76" y1="526.6" x2="303" y2="526.6" stroke="#000" stroke-width="1.5"/>
<line x1="76" y1="300.8" x2="76" y2="530.2" stroke="#000" stroke-width="1.6"/>
<line x1="151.4" y1="300.8" x2="151.4" y2="526.6" stroke="#000" stroke-width="1.4"/>
<line x1="227" y1="300.8" x2="227" y2="526.6" stroke="#000" stroke-width="1.4"/>
<line x1="303" y1="300.8" x2="303" y2="526.6" stroke="#000" stroke-width="1.4"/>
<line x1="72" y1="300.8" x2="76" y2="300.8" stroke="#000" stroke-width="1.2"/>
<line x1="73.8" y1="306.5" x2="76" y2="306.5" stroke="#111" stroke-width="1.0"/>
<line x1="72" y1="319.73" x2="76" y2="319.73" stroke="#000" stroke-width="1.2"/>
<line x1="73.8" y1="325.42" x2="76" y2="325.42" stroke="#111" stroke-width="1.0"/>
<line x1="72" y1="338.65" x2="76" y2="338.65" stroke="#000" stroke-width="1.2"/>
<line x1="73.8" y1="344.35" x2="76" y2="344.35" stroke="#111" stroke-width="1.0"/>
<line x1="72" y1="357.57" x2="76" y2="357.57" stroke="#000" stroke-width="1.2"/>
<line x1="73.8" y1="363.27" x2="76" y2="363.27" stroke="#111" stroke-width="1.0"/>
<line x1="72" y1="376.5" x2="76" y2="376.5" stroke="#000" stroke-width="1.2"/>
<text transform="translate(67.8,303.1) scale(0.95,1)" font-size="6.5" text-anchor="end" stroke="#000" stroke-width="0.22">10000</text>
<text transform="translate(67.8,322.03) scale(0.95,1)" font-size="6.5" text-anchor="end" stroke="#000" stroke-width="0.22">1000</text>
<text transform="translate(67.8,340.95) scale(0.95,1)" font-size="6.5" text-anchor="end" stroke="#000" stroke-width="0.22">100</text>
<text transform="translate(67.8,359.88) scale(0.95,1)" font-size="6.5" text-anchor="end" stroke="#000" stroke-width="0.22">10</text>
<line x1="72" y1="376.5" x2="76" y2="376.5" stroke="#000" stroke-width="1.2"/>
<line x1="73.8" y1="382.17" x2="76" y2="382.17" stroke="#111" stroke-width="1.0"/>
<line x1="72" y1="395.32" x2="76" y2="395.32" stroke="#000" stroke-width="1.2"/>
<line x1="73.8" y1="400.99" x2="76" y2="400.99" stroke="#111" stroke-width="1.0"/>
<line x1="72" y1="414.15" x2="76" y2="414.15" stroke="#000" stroke-width="1.2"/>
<line x1="73.8" y1="419.82" x2="76" y2="419.82" stroke="#111" stroke-width="1.0"/>
<line x1="72" y1="432.98" x2="76" y2="432.98" stroke="#000" stroke-width="1.2"/>
<line x1="73.8" y1="438.64" x2="76" y2="438.64" stroke="#111" stroke-width="1.0"/>
<line x1="72" y1="451.8" x2="76" y2="451.8" stroke="#000" stroke-width="1.2"/>
<text transform="translate(67.8,378.8) scale(0.95,1)" font-size="6.5" text-anchor="end" stroke="#000" stroke-width="0.22">10000</text>
<text transform="translate(67.8,397.62) scale(0.95,1)" font-size="6.5" text-anchor="end" stroke="#000" stroke-width="0.22">1000</text>
<text transform="translate(67.8,416.45) scale(0.95,1)" font-size="6.5" text-anchor="end" stroke="#000" stroke-width="0.22">100</text>
<text transform="translate(67.8,435.28) scale(0.95,1)" font-size="6.5" text-anchor="end" stroke="#000" stroke-width="0.22">10</text>
<line x1="72" y1="451.8" x2="76" y2="451.8" stroke="#000" stroke-width="1.2"/>
<line x1="73.8" y1="457.43" x2="76" y2="457.43" stroke="#111" stroke-width="1.0"/>
<line x1="72" y1="470.5" x2="76" y2="470.5" stroke="#000" stroke-width="1.2"/>
<line x1="73.8" y1="476.13" x2="76" y2="476.13" stroke="#111" stroke-width="1.0"/>
<line x1="72" y1="489.2" x2="76" y2="489.2" stroke="#000" stroke-width="1.2"/>
<line x1="73.8" y1="494.83" x2="76" y2="494.83" stroke="#111" stroke-width="1.0"/>
<line x1="72" y1="507.9" x2="76" y2="507.9" stroke="#000" stroke-width="1.2"/>
<line x1="73.8" y1="513.53" x2="76" y2="513.53" stroke="#111" stroke-width="1.0"/>
<line x1="72" y1="526.6" x2="76" y2="526.6" stroke="#000" stroke-width="1.2"/>
<text transform="translate(67.8,454.1) scale(0.95,1)" font-size="6.5" text-anchor="end" stroke="#000" stroke-width="0.22">10000</text>
<text transform="translate(67.8,472.8) scale(0.95,1)" font-size="6.5" text-anchor="end" stroke="#000" stroke-width="0.22">1000</text>
<text transform="translate(67.8,491.5) scale(0.95,1)" font-size="6.5" text-anchor="end" stroke="#000" stroke-width="0.22">100</text>
<text transform="translate(67.8,510.2) scale(0.95,1)" font-size="6.5" text-anchor="end" stroke="#000" stroke-width="0.22">10</text>
<text transform="translate(67.8,528.9) scale(0.95,1)" font-size="6.5" text-anchor="end" stroke="#000" stroke-width="0.22">1</text>
<line x1="76" y1="526.6" x2="76" y2="530.4" stroke="#000" stroke-width="1.3"/>
<line x1="89.18" y1="526.6" x2="89.18" y2="529" stroke="#111" stroke-width="1.0"/>
<line x1="94.85" y1="526.6" x2="94.85" y2="530.4" stroke="#000" stroke-width="1.3"/>
<line x1="108.03" y1="526.6" x2="108.03" y2="529" stroke="#111" stroke-width="1.0"/>
<line x1="113.7" y1="526.6" x2="113.7" y2="530.4" stroke="#000" stroke-width="1.3"/>
<line x1="126.88" y1="526.6" x2="126.88" y2="529" stroke="#111" stroke-width="1.0"/>
<line x1="132.55" y1="526.6" x2="132.55" y2="530.4" stroke="#000" stroke-width="1.3"/>
<line x1="145.73" y1="526.6" x2="145.73" y2="529" stroke="#111" stroke-width="1.0"/>
<line x1="151.4" y1="526.6" x2="151.4" y2="530.4" stroke="#000" stroke-width="1.3"/>
<text transform="translate(76,541.9) scale(0.95,1)" font-size="6.5" text-anchor="middle" stroke="#000" stroke-width="0.22">1</text>
<text transform="translate(94.85,541.9) scale(0.95,1)" font-size="6.5" text-anchor="middle" stroke="#000" stroke-width="0.22">10</text>
<text transform="translate(113.7,541.9) scale(0.95,1)" font-size="6.5" text-anchor="middle" stroke="#000" stroke-width="0.22">100</text>
<text transform="translate(132.55,541.9) scale(0.95,1)" font-size="6.5" text-anchor="middle" stroke="#000" stroke-width="0.22">1000</text>
<text transform="translate(151.4,541.9) scale(0.95,1)" font-size="6.5" text-anchor="middle" stroke="#000" stroke-width="0.22">10000</text>
<line x1="151.4" y1="526.6" x2="151.4" y2="530.4" stroke="#000" stroke-width="1.3"/>
<line x1="164.61" y1="526.6" x2="164.61" y2="529" stroke="#111" stroke-width="1.0"/>
<line x1="170.3" y1="526.6" x2="170.3" y2="530.4" stroke="#000" stroke-width="1.3"/>
<line x1="183.51" y1="526.6" x2="183.51" y2="529" stroke="#111" stroke-width="1.0"/>
<line x1="189.2" y1="526.6" x2="189.2" y2="530.4" stroke="#000" stroke-width="1.3"/>
<line x1="202.41" y1="526.6" x2="202.41" y2="529" stroke="#111" stroke-width="1.0"/>
<line x1="208.1" y1="526.6" x2="208.1" y2="530.4" stroke="#000" stroke-width="1.3"/>
<line x1="221.31" y1="526.6" x2="221.31" y2="529" stroke="#111" stroke-width="1.0"/>
<line x1="227" y1="526.6" x2="227" y2="530.4" stroke="#000" stroke-width="1.3"/>
<text transform="translate(170.3,541.9) scale(0.95,1)" font-size="6.5" text-anchor="middle" stroke="#000" stroke-width="0.22">10</text>
<text transform="translate(189.2,541.9) scale(0.95,1)" font-size="6.5" text-anchor="middle" stroke="#000" stroke-width="0.22">100</text>
<text transform="translate(208.1,541.9) scale(0.95,1)" font-size="6.5" text-anchor="middle" stroke="#000" stroke-width="0.22">1000</text>
<text transform="translate(227,541.9) scale(0.95,1)" font-size="6.5" text-anchor="middle" stroke="#000" stroke-width="0.22">10000</text>
<line x1="227" y1="526.6" x2="227" y2="530.4" stroke="#000" stroke-width="1.3"/>
<line x1="240.28" y1="526.6" x2="240.28" y2="529" stroke="#111" stroke-width="1.0"/>
<line x1="246" y1="526.6" x2="246" y2="530.4" stroke="#000" stroke-width="1.3"/>
<line x1="259.28" y1="526.6" x2="259.28" y2="529" stroke="#111" stroke-width="1.0"/>
<line x1="265" y1="526.6" x2="265" y2="530.4" stroke="#000" stroke-width="1.3"/>
<line x1="278.28" y1="526.6" x2="278.28" y2="529" stroke="#111" stroke-width="1.0"/>
<line x1="284" y1="526.6" x2="284" y2="530.4" stroke="#000" stroke-width="1.3"/>
<line x1="297.28" y1="526.6" x2="297.28" y2="529" stroke="#111" stroke-width="1.0"/>
<line x1="303" y1="526.6" x2="303" y2="530.4" stroke="#000" stroke-width="1.3"/>
<text transform="translate(246,541.9) scale(0.95,1)" font-size="6.5" text-anchor="middle" stroke="#000" stroke-width="0.22">10</text>
<text transform="translate(265,541.9) scale(0.95,1)" font-size="6.5" text-anchor="middle" stroke="#000" stroke-width="0.22">100</text>
<text transform="translate(284,541.9) scale(0.95,1)" font-size="6.5" text-anchor="middle" stroke="#000" stroke-width="0.22">1000</text>
<text transform="translate(303,541.9) scale(0.95,1)" font-size="6.5" text-anchor="middle" stroke="#000" stroke-width="0.22">10000</text>
<path d="M94.6,300.8 L94.6,356.2 L126.2,356.2 L126.2,300.8" fill="none" stroke="#000" stroke-width="1.15"/>
<text transform="translate(126.1,325)" font-size="12.6" font-weight="bold">1.8</text>
<path d="M170,300.8 L170,356.2 L202.2,356.2 L202.2,300.8" fill="none" stroke="#000" stroke-width="1.15"/>
<text transform="translate(202.1,325)" font-size="12.6" font-weight="bold">1.0</text>
<path d="M246,300.8 L246,356.2 L277.8,356.2 L277.8,300.8" fill="none" stroke="#000" stroke-width="1.15"/>
<text transform="translate(277.7,325)" font-size="12.6" font-weight="bold">0.8</text>
<path d="M94.8,376.5 L94.8,431.2 L126.2,431.2 L126.2,376.5" fill="none" stroke="#000" stroke-width="1.15"/>
<text transform="translate(126.1,400.5)" font-size="12.6" font-weight="bold">25.3</text>
<path d="M170,376.5 L170,431.2 L202,431.2 L202,376.5" fill="none" stroke="#000" stroke-width="1.15"/>
<text transform="translate(201.9,400.5)" font-size="12.6" font-weight="bold">2.9</text>
<path d="M246.6,376.5 L246.6,431.2 L278.1,431.2 L278.1,376.5" fill="none" stroke="#000" stroke-width="1.15"/>
<text transform="translate(278,400.5)" font-size="12.6" font-weight="bold">14.6</text>
<path d="M95.4,451.8 L95.4,506.6 L126.6,506.6 L126.6,451.8" fill="none" stroke="#000" stroke-width="1.15"/>
<text transform="translate(126.5,476)" font-size="12.6" font-weight="bold">22.1</text>
<path d="M171,451.8 L171,506.6 L202.6,506.6 L202.6,451.8" fill="none" stroke="#000" stroke-width="1.15"/>
<text transform="translate(202.5,476)" font-size="12.6" font-weight="bold">3.4</text>
<path d="M247,451.8 L247,506.6 L278.4,506.6 L278.4,451.8" fill="none" stroke="#000" stroke-width="1.15"/>
<text transform="translate(278.3,476)" font-size="12.6" font-weight="bold">4.1</text>
<text transform="translate(17.8,409.6) rotate(-90)" font-size="10.8" font-weight="bold" text-anchor="middle">Day 60 after HCT</text>
<text transform="translate(33.4,338.4) rotate(-90)" font-size="10.4" font-weight="bold" text-anchor="middle">SPL</text>
<text transform="translate(33.4,414.6) rotate(-90)" font-size="10.4" font-weight="bold" text-anchor="middle">PLN</text>
<text transform="translate(33.4,496.1) rotate(-90)" font-size="10.4" font-weight="bold" text-anchor="middle">SKIN</text>
<line x1="45.85" y1="502.7" x2="45.85" y2="315.5" stroke="#000" stroke-width="1.9"/>
<polygon points="45.85,308.5 41.55,318.7 45.85,316.8 50.15,318.7" fill="#000"/>
<text transform="translate(49,516.7) rotate(-90) scale(0.92,1)" font-size="10" text-anchor="middle">IL17</text>
<text transform="translate(83.1,552.9) scale(0.87,1)" font-size="10">CD4</text>
<line x1="107.5" y1="549.7" x2="290.5" y2="549.7" stroke="#000" stroke-width="1.9"/>
<polygon points="297.5,549.7 287.5,545.8 289.3,549.7 287.5,553.6" fill="#000"/>
<text transform="translate(112.85,573.8)" font-size="10.6" font-weight="bold" text-anchor="middle">25M WT</text>
<text x="188.1" y="573.8" font-size="10.6" font-weight="bold" text-anchor="middle">25M IgH<tspan font-size="7.2" dy="-4.3">μγ1</tspan></text>
<text x="263.85" y="573.8" font-size="10.6" font-weight="bold" text-anchor="middle">75M IgH<tspan font-size="7.2" dy="-4.3">μγ1</tspan></text>
<line x1="71.5" y1="579.8" x2="302.7" y2="579.8" stroke="#000" stroke-width="1.4"/>
<line x1="75.5" y1="655.3" x2="302.7" y2="655.3" stroke="#000" stroke-width="1.5"/>
<line x1="75.5" y1="579.8" x2="75.5" y2="658.9" stroke="#000" stroke-width="1.6"/>
<line x1="151.2" y1="579.8" x2="151.2" y2="655.3" stroke="#000" stroke-width="1.4"/>
<line x1="227.2" y1="579.8" x2="227.2" y2="655.3" stroke="#000" stroke-width="1.4"/>
<line x1="302.7" y1="579.8" x2="302.7" y2="655.3" stroke="#000" stroke-width="1.4"/>
<line x1="71.5" y1="579.8" x2="75.5" y2="579.8" stroke="#000" stroke-width="1.2"/>
<line x1="73.3" y1="585.48" x2="75.5" y2="585.48" stroke="#111" stroke-width="1.0"/>
<line x1="71.5" y1="598.67" x2="75.5" y2="598.67" stroke="#000" stroke-width="1.2"/>
<line x1="73.3" y1="604.36" x2="75.5" y2="604.36" stroke="#111" stroke-width="1.0"/>
<line x1="71.5" y1="617.55" x2="75.5" y2="617.55" stroke="#000" stroke-width="1.2"/>
<line x1="73.3" y1="623.23" x2="75.5" y2="623.23" stroke="#111" stroke-width="1.0"/>
<line x1="71.5" y1="636.42" x2="75.5" y2="636.42" stroke="#000" stroke-width="1.2"/>
<line x1="73.3" y1="642.11" x2="75.5" y2="642.11" stroke="#111" stroke-width="1.0"/>
<line x1="71.5" y1="655.3" x2="75.5" y2="655.3" stroke="#000" stroke-width="1.2"/>
<text transform="translate(67.3,582.1) scale(0.95,1)" font-size="6.5" text-anchor="end" stroke="#000" stroke-width="0.22">10000</text>
<text transform="translate(67.3,600.97) scale(0.95,1)" font-size="6.5" text-anchor="end" stroke="#000" stroke-width="0.22">1000</text>
<text transform="translate(67.3,619.85) scale(0.95,1)" font-size="6.5" text-anchor="end" stroke="#000" stroke-width="0.22">100</text>
<text transform="translate(67.3,638.72) scale(0.95,1)" font-size="6.5" text-anchor="end" stroke="#000" stroke-width="0.22">10</text>
<text transform="translate(67.3,657.6) scale(0.95,1)" font-size="6.5" text-anchor="end" stroke="#000" stroke-width="0.22">1</text>
<line x1="75.5" y1="655.3" x2="75.5" y2="659.1" stroke="#000" stroke-width="1.3"/>
<line x1="81.2" y1="655.3" x2="81.2" y2="657.3" stroke="#111" stroke-width="1.0"/>
<line x1="84.53" y1="655.3" x2="84.53" y2="657.3" stroke="#111" stroke-width="1.0"/>
<line x1="86.89" y1="655.3" x2="86.89" y2="657.3" stroke="#111" stroke-width="1.0"/>
<line x1="88.73" y1="655.3" x2="88.73" y2="657.7" stroke="#111" stroke-width="1.0"/>
<line x1="90.23" y1="655.3" x2="90.23" y2="657.3" stroke="#111" stroke-width="1.0"/>
<line x1="91.49" y1="655.3" x2="91.49" y2="657.3" stroke="#111" stroke-width="1.0"/>
<line x1="92.59" y1="655.3" x2="92.59" y2="657.3" stroke="#111" stroke-width="1.0"/>
<line x1="93.56" y1="655.3" x2="93.56" y2="657.3" stroke="#111" stroke-width="1.0"/>
<line x1="94.42" y1="655.3" x2="94.42" y2="659.1" stroke="#000" stroke-width="1.3"/>
<line x1="100.12" y1="655.3" x2="100.12" y2="657.3" stroke="#111" stroke-width="1.0"/>
<line x1="103.45" y1="655.3" x2="103.45" y2="657.3" stroke="#111" stroke-width="1.0"/>
<line x1="105.82" y1="655.3" x2="105.82" y2="657.3" stroke="#111" stroke-width="1.0"/>
<line x1="107.65" y1="655.3" x2="107.65" y2="657.7" stroke="#111" stroke-width="1.0"/>
<line x1="109.15" y1="655.3" x2="109.15" y2="657.3" stroke="#111" stroke-width="1.0"/>
<line x1="110.42" y1="655.3" x2="110.42" y2="657.3" stroke="#111" stroke-width="1.0"/>
<line x1="111.52" y1="655.3" x2="111.52" y2="657.3" stroke="#111" stroke-width="1.0"/>
<line x1="112.48" y1="655.3" x2="112.48" y2="657.3" stroke="#111" stroke-width="1.0"/>
<line x1="113.35" y1="655.3" x2="113.35" y2="659.1" stroke="#000" stroke-width="1.3"/>
<line x1="119.05" y1="655.3" x2="119.05" y2="657.3" stroke="#111" stroke-width="1.0"/>
<line x1="122.38" y1="655.3" x2="122.38" y2="657.3" stroke="#111" stroke-width="1.0"/>
<line x1="124.74" y1="655.3" x2="124.74" y2="657.3" stroke="#111" stroke-width="1.0"/>
<line x1="126.58" y1="655.3" x2="126.58" y2="657.7" stroke="#111" stroke-width="1.0"/>
<line x1="128.08" y1="655.3" x2="128.08" y2="657.3" stroke="#111" stroke-width="1.0"/>
<line x1="129.34" y1="655.3" x2="129.34" y2="657.3" stroke="#111" stroke-width="1.0"/>
<line x1="130.44" y1="655.3" x2="130.44" y2="657.3" stroke="#111" stroke-width="1.0"/>
<line x1="131.41" y1="655.3" x2="131.41" y2="657.3" stroke="#111" stroke-width="1.0"/>
<line x1="132.27" y1="655.3" x2="132.27" y2="659.1" stroke="#000" stroke-width="1.3"/>
<line x1="137.97" y1="655.3" x2="137.97" y2="657.3" stroke="#111" stroke-width="1.0"/>
<line x1="141.3" y1="655.3" x2="141.3" y2="657.3" stroke="#111" stroke-width="1.0"/>
<line x1="143.67" y1="655.3" x2="143.67" y2="657.3" stroke="#111" stroke-width="1.0"/>
<line x1="145.5" y1="655.3" x2="145.5" y2="657.7" stroke="#111" stroke-width="1.0"/>
<line x1="147" y1="655.3" x2="147" y2="657.3" stroke="#111" stroke-width="1.0"/>
<line x1="148.27" y1="655.3" x2="148.27" y2="657.3" stroke="#111" stroke-width="1.0"/>
<line x1="149.37" y1="655.3" x2="149.37" y2="657.3" stroke="#111" stroke-width="1.0"/>
<line x1="150.33" y1="655.3" x2="150.33" y2="657.3" stroke="#111" stroke-width="1.0"/>
<line x1="151.2" y1="655.3" x2="151.2" y2="659.1" stroke="#000" stroke-width="1.3"/>
<text transform="translate(75.5,669) scale(0.95,1)" font-size="6.5" text-anchor="middle" stroke="#000" stroke-width="0.22">1</text>
<text transform="translate(94.42,669) scale(0.95,1)" font-size="6.5" text-anchor="middle" stroke="#000" stroke-width="0.22">10</text>
<text transform="translate(113.35,669) scale(0.95,1)" font-size="6.5" text-anchor="middle" stroke="#000" stroke-width="0.22">100</text>
<text transform="translate(132.27,669) scale(0.95,1)" font-size="6.5" text-anchor="middle" stroke="#000" stroke-width="0.22">1000</text>
<text transform="translate(151.2,669) scale(0.95,1)" font-size="6.5" text-anchor="middle" stroke="#000" stroke-width="0.22">10000</text>
<line x1="151.2" y1="655.3" x2="151.2" y2="659.1" stroke="#000" stroke-width="1.3"/>
<line x1="156.92" y1="655.3" x2="156.92" y2="657.3" stroke="#111" stroke-width="1.0"/>
<line x1="160.27" y1="655.3" x2="160.27" y2="657.3" stroke="#111" stroke-width="1.0"/>
<line x1="162.64" y1="655.3" x2="162.64" y2="657.3" stroke="#111" stroke-width="1.0"/>
<line x1="164.48" y1="655.3" x2="164.48" y2="657.7" stroke="#111" stroke-width="1.0"/>
<line x1="165.98" y1="655.3" x2="165.98" y2="657.3" stroke="#111" stroke-width="1.0"/>
<line x1="167.26" y1="655.3" x2="167.26" y2="657.3" stroke="#111" stroke-width="1.0"/>
<line x1="168.36" y1="655.3" x2="168.36" y2="657.3" stroke="#111" stroke-width="1.0"/>
<line x1="169.33" y1="655.3" x2="169.33" y2="657.3" stroke="#111" stroke-width="1.0"/>
<line x1="170.2" y1="655.3" x2="170.2" y2="659.1" stroke="#000" stroke-width="1.3"/>
<line x1="175.92" y1="655.3" x2="175.92" y2="657.3" stroke="#111" stroke-width="1.0"/>
<line x1="179.27" y1="655.3" x2="179.27" y2="657.3" stroke="#111" stroke-width="1.0"/>
<line x1="181.64" y1="655.3" x2="181.64" y2="657.3" stroke="#111" stroke-width="1.0"/>
<line x1="183.48" y1="655.3" x2="183.48" y2="657.7" stroke="#111" stroke-width="1.0"/>
<line x1="184.98" y1="655.3" x2="184.98" y2="657.3" stroke="#111" stroke-width="1.0"/>
<line x1="186.26" y1="655.3" x2="186.26" y2="657.3" stroke="#111" stroke-width="1.0"/>
<line x1="187.36" y1="655.3" x2="187.36" y2="657.3" stroke="#111" stroke-width="1.0"/>
<line x1="188.33" y1="655.3" x2="188.33" y2="657.3" stroke="#111" stroke-width="1.0"/>
<line x1="189.2" y1="655.3" x2="189.2" y2="659.1" stroke="#000" stroke-width="1.3"/>
<line x1="194.92" y1="655.3" x2="194.92" y2="657.3" stroke="#111" stroke-width="1.0"/>
<line x1="198.27" y1="655.3" x2="198.27" y2="657.3" stroke="#111" stroke-width="1.0"/>
<line x1="200.64" y1="655.3" x2="200.64" y2="657.3" stroke="#111" stroke-width="1.0"/>
<line x1="202.48" y1="655.3" x2="202.48" y2="657.7" stroke="#111" stroke-width="1.0"/>
<line x1="203.98" y1="655.3" x2="203.98" y2="657.3" stroke="#111" stroke-width="1.0"/>
<line x1="205.26" y1="655.3" x2="205.26" y2="657.3" stroke="#111" stroke-width="1.0"/>
<line x1="206.36" y1="655.3" x2="206.36" y2="657.3" stroke="#111" stroke-width="1.0"/>
<line x1="207.33" y1="655.3" x2="207.33" y2="657.3" stroke="#111" stroke-width="1.0"/>
<line x1="208.2" y1="655.3" x2="208.2" y2="659.1" stroke="#000" stroke-width="1.3"/>
<line x1="213.92" y1="655.3" x2="213.92" y2="657.3" stroke="#111" stroke-width="1.0"/>
<line x1="217.27" y1="655.3" x2="217.27" y2="657.3" stroke="#111" stroke-width="1.0"/>
<line x1="219.64" y1="655.3" x2="219.64" y2="657.3" stroke="#111" stroke-width="1.0"/>
<line x1="221.48" y1="655.3" x2="221.48" y2="657.7" stroke="#111" stroke-width="1.0"/>
<line x1="222.98" y1="655.3" x2="222.98" y2="657.3" stroke="#111" stroke-width="1.0"/>
<line x1="224.26" y1="655.3" x2="224.26" y2="657.3" stroke="#111" stroke-width="1.0"/>
<line x1="225.36" y1="655.3" x2="225.36" y2="657.3" stroke="#111" stroke-width="1.0"/>
<line x1="226.33" y1="655.3" x2="226.33" y2="657.3" stroke="#111" stroke-width="1.0"/>
<line x1="227.2" y1="655.3" x2="227.2" y2="659.1" stroke="#000" stroke-width="1.3"/>
<text transform="translate(170.2,669) scale(0.95,1)" font-size="6.5" text-anchor="middle" stroke="#000" stroke-width="0.22">10</text>
<text transform="translate(189.2,669) scale(0.95,1)" font-size="6.5" text-anchor="middle" stroke="#000" stroke-width="0.22">100</text>
<text transform="translate(208.2,669) scale(0.95,1)" font-size="6.5" text-anchor="middle" stroke="#000" stroke-width="0.22">1000</text>
<text transform="translate(227.2,669) scale(0.95,1)" font-size="6.5" text-anchor="middle" stroke="#000" stroke-width="0.22">10000</text>
<line x1="227.2" y1="655.3" x2="227.2" y2="659.1" stroke="#000" stroke-width="1.3"/>
<line x1="232.88" y1="655.3" x2="232.88" y2="657.3" stroke="#111" stroke-width="1.0"/>
<line x1="236.21" y1="655.3" x2="236.21" y2="657.3" stroke="#111" stroke-width="1.0"/>
<line x1="238.56" y1="655.3" x2="238.56" y2="657.3" stroke="#111" stroke-width="1.0"/>
<line x1="240.39" y1="655.3" x2="240.39" y2="657.7" stroke="#111" stroke-width="1.0"/>
<line x1="241.89" y1="655.3" x2="241.89" y2="657.3" stroke="#111" stroke-width="1.0"/>
<line x1="243.15" y1="655.3" x2="243.15" y2="657.3" stroke="#111" stroke-width="1.0"/>
<line x1="244.25" y1="655.3" x2="244.25" y2="657.3" stroke="#111" stroke-width="1.0"/>
<line x1="245.21" y1="655.3" x2="245.21" y2="657.3" stroke="#111" stroke-width="1.0"/>
<line x1="246.07" y1="655.3" x2="246.07" y2="659.1" stroke="#000" stroke-width="1.3"/>
<line x1="251.76" y1="655.3" x2="251.76" y2="657.3" stroke="#111" stroke-width="1.0"/>
<line x1="255.08" y1="655.3" x2="255.08" y2="657.3" stroke="#111" stroke-width="1.0"/>
<line x1="257.44" y1="655.3" x2="257.44" y2="657.3" stroke="#111" stroke-width="1.0"/>
<line x1="259.27" y1="655.3" x2="259.27" y2="657.7" stroke="#111" stroke-width="1.0"/>
<line x1="260.76" y1="655.3" x2="260.76" y2="657.3" stroke="#111" stroke-width="1.0"/>
<line x1="262.03" y1="655.3" x2="262.03" y2="657.3" stroke="#111" stroke-width="1.0"/>
<line x1="263.12" y1="655.3" x2="263.12" y2="657.3" stroke="#111" stroke-width="1.0"/>
<line x1="264.09" y1="655.3" x2="264.09" y2="657.3" stroke="#111" stroke-width="1.0"/>
<line x1="264.95" y1="655.3" x2="264.95" y2="659.1" stroke="#000" stroke-width="1.3"/>
<line x1="270.63" y1="655.3" x2="270.63" y2="657.3" stroke="#111" stroke-width="1.0"/>
<line x1="273.96" y1="655.3" x2="273.96" y2="657.3" stroke="#111" stroke-width="1.0"/>
<line x1="276.31" y1="655.3" x2="276.31" y2="657.3" stroke="#111" stroke-width="1.0"/>
<line x1="278.14" y1="655.3" x2="278.14" y2="657.7" stroke="#111" stroke-width="1.0"/>
<line x1="279.64" y1="655.3" x2="279.64" y2="657.3" stroke="#111" stroke-width="1.0"/>
<line x1="280.9" y1="655.3" x2="280.9" y2="657.3" stroke="#111" stroke-width="1.0"/>
<line x1="282" y1="655.3" x2="282" y2="657.3" stroke="#111" stroke-width="1.0"/>
<line x1="282.96" y1="655.3" x2="282.96" y2="657.3" stroke="#111" stroke-width="1.0"/>
<line x1="283.82" y1="655.3" x2="283.82" y2="659.1" stroke="#000" stroke-width="1.3"/>
<line x1="289.51" y1="655.3" x2="289.51" y2="657.3" stroke="#111" stroke-width="1.0"/>
<line x1="292.83" y1="655.3" x2="292.83" y2="657.3" stroke="#111" stroke-width="1.0"/>
<line x1="295.19" y1="655.3" x2="295.19" y2="657.3" stroke="#111" stroke-width="1.0"/>
<line x1="297.02" y1="655.3" x2="297.02" y2="657.7" stroke="#111" stroke-width="1.0"/>
<line x1="298.51" y1="655.3" x2="298.51" y2="657.3" stroke="#111" stroke-width="1.0"/>
<line x1="299.78" y1="655.3" x2="299.78" y2="657.3" stroke="#111" stroke-width="1.0"/>
<line x1="300.87" y1="655.3" x2="300.87" y2="657.3" stroke="#111" stroke-width="1.0"/>
<line x1="301.84" y1="655.3" x2="301.84" y2="657.3" stroke="#111" stroke-width="1.0"/>
<line x1="302.7" y1="655.3" x2="302.7" y2="659.1" stroke="#000" stroke-width="1.3"/>
<text transform="translate(246.07,669) scale(0.95,1)" font-size="6.5" text-anchor="middle" stroke="#000" stroke-width="0.22">10</text>
<text transform="translate(264.95,669) scale(0.95,1)" font-size="6.5" text-anchor="middle" stroke="#000" stroke-width="0.22">100</text>
<text transform="translate(283.82,669) scale(0.95,1)" font-size="6.5" text-anchor="middle" stroke="#000" stroke-width="0.22">1000</text>
<text transform="translate(302.7,669) scale(0.95,1)" font-size="6.5" text-anchor="middle" stroke="#000" stroke-width="0.22">10000</text>
<line x1="71.5" y1="685.6" x2="302.7" y2="685.6" stroke="#000" stroke-width="1.4"/>
<line x1="75.5" y1="761.9" x2="302.7" y2="761.9" stroke="#000" stroke-width="1.5"/>
<line x1="75.5" y1="685.6" x2="75.5" y2="765.5" stroke="#000" stroke-width="1.6"/>
<line x1="151.2" y1="685.6" x2="151.2" y2="761.9" stroke="#000" stroke-width="1.4"/>
<line x1="227.2" y1="685.6" x2="227.2" y2="761.9" stroke="#000" stroke-width="1.4"/>
<line x1="302.7" y1="685.6" x2="302.7" y2="761.9" stroke="#000" stroke-width="1.4"/>
<line x1="71.5" y1="685.6" x2="75.5" y2="685.6" stroke="#000" stroke-width="1.2"/>
<line x1="73.3" y1="691.34" x2="75.5" y2="691.34" stroke="#111" stroke-width="1.0"/>
<line x1="71.5" y1="704.67" x2="75.5" y2="704.67" stroke="#000" stroke-width="1.2"/>
<line x1="73.3" y1="710.42" x2="75.5" y2="710.42" stroke="#111" stroke-width="1.0"/>
<line x1="71.5" y1="723.75" x2="75.5" y2="723.75" stroke="#000" stroke-width="1.2"/>
<line x1="73.3" y1="729.49" x2="75.5" y2="729.49" stroke="#111" stroke-width="1.0"/>
<line x1="71.5" y1="742.83" x2="75.5" y2="742.83" stroke="#000" stroke-width="1.2"/>
<line x1="73.3" y1="748.57" x2="75.5" y2="748.57" stroke="#111" stroke-width="1.0"/>
<line x1="71.5" y1="761.9" x2="75.5" y2="761.9" stroke="#000" stroke-width="1.2"/>
<text transform="translate(67.3,687.9) scale(0.95,1)" font-size="6.5" text-anchor="end" stroke="#000" stroke-width="0.22">10000</text>
<text transform="translate(67.3,706.97) scale(0.95,1)" font-size="6.5" text-anchor="end" stroke="#000" stroke-width="0.22">1000</text>
<text transform="translate(67.3,726.05) scale(0.95,1)" font-size="6.5" text-anchor="end" stroke="#000" stroke-width="0.22">100</text>
<text transform="translate(67.3,745.12) scale(0.95,1)" font-size="6.5" text-anchor="end" stroke="#000" stroke-width="0.22">10</text>
<text transform="translate(67.3,764.2) scale(0.95,1)" font-size="6.5" text-anchor="end" stroke="#000" stroke-width="0.22">1</text>
<line x1="75.5" y1="761.9" x2="75.5" y2="765.7" stroke="#000" stroke-width="1.3"/>
<line x1="81.2" y1="761.9" x2="81.2" y2="763.9" stroke="#111" stroke-width="1.0"/>
<line x1="84.53" y1="761.9" x2="84.53" y2="763.9" stroke="#111" stroke-width="1.0"/>
<line x1="86.89" y1="761.9" x2="86.89" y2="763.9" stroke="#111" stroke-width="1.0"/>
<line x1="88.73" y1="761.9" x2="88.73" y2="764.3" stroke="#111" stroke-width="1.0"/>
<line x1="90.23" y1="761.9" x2="90.23" y2="763.9" stroke="#111" stroke-width="1.0"/>
<line x1="91.49" y1="761.9" x2="91.49" y2="763.9" stroke="#111" stroke-width="1.0"/>
<line x1="92.59" y1="761.9" x2="92.59" y2="763.9" stroke="#111" stroke-width="1.0"/>
<line x1="93.56" y1="761.9" x2="93.56" y2="763.9" stroke="#111" stroke-width="1.0"/>
<line x1="94.42" y1="761.9" x2="94.42" y2="765.7" stroke="#000" stroke-width="1.3"/>
<line x1="100.12" y1="761.9" x2="100.12" y2="763.9" stroke="#111" stroke-width="1.0"/>
<line x1="103.45" y1="761.9" x2="103.45" y2="763.9" stroke="#111" stroke-width="1.0"/>
<line x1="105.82" y1="761.9" x2="105.82" y2="763.9" stroke="#111" stroke-width="1.0"/>
<line x1="107.65" y1="761.9" x2="107.65" y2="764.3" stroke="#111" stroke-width="1.0"/>
<line x1="109.15" y1="761.9" x2="109.15" y2="763.9" stroke="#111" stroke-width="1.0"/>
<line x1="110.42" y1="761.9" x2="110.42" y2="763.9" stroke="#111" stroke-width="1.0"/>
<line x1="111.52" y1="761.9" x2="111.52" y2="763.9" stroke="#111" stroke-width="1.0"/>
<line x1="112.48" y1="761.9" x2="112.48" y2="763.9" stroke="#111" stroke-width="1.0"/>
<line x1="113.35" y1="761.9" x2="113.35" y2="765.7" stroke="#000" stroke-width="1.3"/>
<line x1="119.05" y1="761.9" x2="119.05" y2="763.9" stroke="#111" stroke-width="1.0"/>
<line x1="122.38" y1="761.9" x2="122.38" y2="763.9" stroke="#111" stroke-width="1.0"/>
<line x1="124.74" y1="761.9" x2="124.74" y2="763.9" stroke="#111" stroke-width="1.0"/>
<line x1="126.58" y1="761.9" x2="126.58" y2="764.3" stroke="#111" stroke-width="1.0"/>
<line x1="128.08" y1="761.9" x2="128.08" y2="763.9" stroke="#111" stroke-width="1.0"/>
<line x1="129.34" y1="761.9" x2="129.34" y2="763.9" stroke="#111" stroke-width="1.0"/>
<line x1="130.44" y1="761.9" x2="130.44" y2="763.9" stroke="#111" stroke-width="1.0"/>
<line x1="131.41" y1="761.9" x2="131.41" y2="763.9" stroke="#111" stroke-width="1.0"/>
<line x1="132.27" y1="761.9" x2="132.27" y2="765.7" stroke="#000" stroke-width="1.3"/>
<line x1="137.97" y1="761.9" x2="137.97" y2="763.9" stroke="#111" stroke-width="1.0"/>
<line x1="141.3" y1="761.9" x2="141.3" y2="763.9" stroke="#111" stroke-width="1.0"/>
<line x1="143.67" y1="761.9" x2="143.67" y2="763.9" stroke="#111" stroke-width="1.0"/>
<line x1="145.5" y1="761.9" x2="145.5" y2="764.3" stroke="#111" stroke-width="1.0"/>
<line x1="147" y1="761.9" x2="147" y2="763.9" stroke="#111" stroke-width="1.0"/>
<line x1="148.27" y1="761.9" x2="148.27" y2="763.9" stroke="#111" stroke-width="1.0"/>
<line x1="149.37" y1="761.9" x2="149.37" y2="763.9" stroke="#111" stroke-width="1.0"/>
<line x1="150.33" y1="761.9" x2="150.33" y2="763.9" stroke="#111" stroke-width="1.0"/>
<line x1="151.2" y1="761.9" x2="151.2" y2="765.7" stroke="#000" stroke-width="1.3"/>
<text transform="translate(75.5,775.2) scale(0.95,1)" font-size="6.5" text-anchor="middle" stroke="#000" stroke-width="0.22">1</text>
<text transform="translate(94.42,775.2) scale(0.95,1)" font-size="6.5" text-anchor="middle" stroke="#000" stroke-width="0.22">10</text>
<text transform="translate(113.35,775.2) scale(0.95,1)" font-size="6.5" text-anchor="middle" stroke="#000" stroke-width="0.22">100</text>
<text transform="translate(132.27,775.2) scale(0.95,1)" font-size="6.5" text-anchor="middle" stroke="#000" stroke-width="0.22">1000</text>
<text transform="translate(151.2,775.2) scale(0.95,1)" font-size="6.5" text-anchor="middle" stroke="#000" stroke-width="0.22">10000</text>
<line x1="151.2" y1="761.9" x2="151.2" y2="765.7" stroke="#000" stroke-width="1.3"/>
<line x1="156.92" y1="761.9" x2="156.92" y2="763.9" stroke="#111" stroke-width="1.0"/>
<line x1="160.27" y1="761.9" x2="160.27" y2="763.9" stroke="#111" stroke-width="1.0"/>
<line x1="162.64" y1="761.9" x2="162.64" y2="763.9" stroke="#111" stroke-width="1.0"/>
<line x1="164.48" y1="761.9" x2="164.48" y2="764.3" stroke="#111" stroke-width="1.0"/>
<line x1="165.98" y1="761.9" x2="165.98" y2="763.9" stroke="#111" stroke-width="1.0"/>
<line x1="167.26" y1="761.9" x2="167.26" y2="763.9" stroke="#111" stroke-width="1.0"/>
<line x1="168.36" y1="761.9" x2="168.36" y2="763.9" stroke="#111" stroke-width="1.0"/>
<line x1="169.33" y1="761.9" x2="169.33" y2="763.9" stroke="#111" stroke-width="1.0"/>
<line x1="170.2" y1="761.9" x2="170.2" y2="765.7" stroke="#000" stroke-width="1.3"/>
<line x1="175.92" y1="761.9" x2="175.92" y2="763.9" stroke="#111" stroke-width="1.0"/>
<line x1="179.27" y1="761.9" x2="179.27" y2="763.9" stroke="#111" stroke-width="1.0"/>
<line x1="181.64" y1="761.9" x2="181.64" y2="763.9" stroke="#111" stroke-width="1.0"/>
<line x1="183.48" y1="761.9" x2="183.48" y2="764.3" stroke="#111" stroke-width="1.0"/>
<line x1="184.98" y1="761.9" x2="184.98" y2="763.9" stroke="#111" stroke-width="1.0"/>
<line x1="186.26" y1="761.9" x2="186.26" y2="763.9" stroke="#111" stroke-width="1.0"/>
<line x1="187.36" y1="761.9" x2="187.36" y2="763.9" stroke="#111" stroke-width="1.0"/>
<line x1="188.33" y1="761.9" x2="188.33" y2="763.9" stroke="#111" stroke-width="1.0"/>
<line x1="189.2" y1="761.9" x2="189.2" y2="765.7" stroke="#000" stroke-width="1.3"/>
<line x1="194.92" y1="761.9" x2="194.92" y2="763.9" stroke="#111" stroke-width="1.0"/>
<line x1="198.27" y1="761.9" x2="198.27" y2="763.9" stroke="#111" stroke-width="1.0"/>
<line x1="200.64" y1="761.9" x2="200.64" y2="763.9" stroke="#111" stroke-width="1.0"/>
<line x1="202.48" y1="761.9" x2="202.48" y2="764.3" stroke="#111" stroke-width="1.0"/>
<line x1="203.98" y1="761.9" x2="203.98" y2="763.9" stroke="#111" stroke-width="1.0"/>
<line x1="205.26" y1="761.9" x2="205.26" y2="763.9" stroke="#111" stroke-width="1.0"/>
<line x1="206.36" y1="761.9" x2="206.36" y2="763.9" stroke="#111" stroke-width="1.0"/>
<line x1="207.33" y1="761.9" x2="207.33" y2="763.9" stroke="#111" stroke-width="1.0"/>
<line x1="208.2" y1="761.9" x2="208.2" y2="765.7" stroke="#000" stroke-width="1.3"/>
<line x1="213.92" y1="761.9" x2="213.92" y2="763.9" stroke="#111" stroke-width="1.0"/>
<line x1="217.27" y1="761.9" x2="217.27" y2="763.9" stroke="#111" stroke-width="1.0"/>
<line x1="219.64" y1="761.9" x2="219.64" y2="763.9" stroke="#111" stroke-width="1.0"/>
<line x1="221.48" y1="761.9" x2="221.48" y2="764.3" stroke="#111" stroke-width="1.0"/>
<line x1="222.98" y1="761.9" x2="222.98" y2="763.9" stroke="#111" stroke-width="1.0"/>
<line x1="224.26" y1="761.9" x2="224.26" y2="763.9" stroke="#111" stroke-width="1.0"/>
<line x1="225.36" y1="761.9" x2="225.36" y2="763.9" stroke="#111" stroke-width="1.0"/>
<line x1="226.33" y1="761.9" x2="226.33" y2="763.9" stroke="#111" stroke-width="1.0"/>
<line x1="227.2" y1="761.9" x2="227.2" y2="765.7" stroke="#000" stroke-width="1.3"/>
<text transform="translate(170.2,775.2) scale(0.95,1)" font-size="6.5" text-anchor="middle" stroke="#000" stroke-width="0.22">10</text>
<text transform="translate(189.2,775.2) scale(0.95,1)" font-size="6.5" text-anchor="middle" stroke="#000" stroke-width="0.22">100</text>
<text transform="translate(208.2,775.2) scale(0.95,1)" font-size="6.5" text-anchor="middle" stroke="#000" stroke-width="0.22">1000</text>
<text transform="translate(227.2,775.2) scale(0.95,1)" font-size="6.5" text-anchor="middle" stroke="#000" stroke-width="0.22">10000</text>
<line x1="227.2" y1="761.9" x2="227.2" y2="765.7" stroke="#000" stroke-width="1.3"/>
<line x1="232.88" y1="761.9" x2="232.88" y2="763.9" stroke="#111" stroke-width="1.0"/>
<line x1="236.21" y1="761.9" x2="236.21" y2="763.9" stroke="#111" stroke-width="1.0"/>
<line x1="238.56" y1="761.9" x2="238.56" y2="763.9" stroke="#111" stroke-width="1.0"/>
<line x1="240.39" y1="761.9" x2="240.39" y2="764.3" stroke="#111" stroke-width="1.0"/>
<line x1="241.89" y1="761.9" x2="241.89" y2="763.9" stroke="#111" stroke-width="1.0"/>
<line x1="243.15" y1="761.9" x2="243.15" y2="763.9" stroke="#111" stroke-width="1.0"/>
<line x1="244.25" y1="761.9" x2="244.25" y2="763.9" stroke="#111" stroke-width="1.0"/>
<line x1="245.21" y1="761.9" x2="245.21" y2="763.9" stroke="#111" stroke-width="1.0"/>
<line x1="246.07" y1="761.9" x2="246.07" y2="765.7" stroke="#000" stroke-width="1.3"/>
<line x1="251.76" y1="761.9" x2="251.76" y2="763.9" stroke="#111" stroke-width="1.0"/>
<line x1="255.08" y1="761.9" x2="255.08" y2="763.9" stroke="#111" stroke-width="1.0"/>
<line x1="257.44" y1="761.9" x2="257.44" y2="763.9" stroke="#111" stroke-width="1.0"/>
<line x1="259.27" y1="761.9" x2="259.27" y2="764.3" stroke="#111" stroke-width="1.0"/>
<line x1="260.76" y1="761.9" x2="260.76" y2="763.9" stroke="#111" stroke-width="1.0"/>
<line x1="262.03" y1="761.9" x2="262.03" y2="763.9" stroke="#111" stroke-width="1.0"/>
<line x1="263.12" y1="761.9" x2="263.12" y2="763.9" stroke="#111" stroke-width="1.0"/>
<line x1="264.09" y1="761.9" x2="264.09" y2="763.9" stroke="#111" stroke-width="1.0"/>
<line x1="264.95" y1="761.9" x2="264.95" y2="765.7" stroke="#000" stroke-width="1.3"/>
<line x1="270.63" y1="761.9" x2="270.63" y2="763.9" stroke="#111" stroke-width="1.0"/>
<line x1="273.96" y1="761.9" x2="273.96" y2="763.9" stroke="#111" stroke-width="1.0"/>
<line x1="276.31" y1="761.9" x2="276.31" y2="763.9" stroke="#111" stroke-width="1.0"/>
<line x1="278.14" y1="761.9" x2="278.14" y2="764.3" stroke="#111" stroke-width="1.0"/>
<line x1="279.64" y1="761.9" x2="279.64" y2="763.9" stroke="#111" stroke-width="1.0"/>
<line x1="280.9" y1="761.9" x2="280.9" y2="763.9" stroke="#111" stroke-width="1.0"/>
<line x1="282" y1="761.9" x2="282" y2="763.9" stroke="#111" stroke-width="1.0"/>
<line x1="282.96" y1="761.9" x2="282.96" y2="763.9" stroke="#111" stroke-width="1.0"/>
<line x1="283.82" y1="761.9" x2="283.82" y2="765.7" stroke="#000" stroke-width="1.3"/>
<line x1="289.51" y1="761.9" x2="289.51" y2="763.9" stroke="#111" stroke-width="1.0"/>
<line x1="292.83" y1="761.9" x2="292.83" y2="763.9" stroke="#111" stroke-width="1.0"/>
<line x1="295.19" y1="761.9" x2="295.19" y2="763.9" stroke="#111" stroke-width="1.0"/>
<line x1="297.02" y1="761.9" x2="297.02" y2="764.3" stroke="#111" stroke-width="1.0"/>
<line x1="298.51" y1="761.9" x2="298.51" y2="763.9" stroke="#111" stroke-width="1.0"/>
<line x1="299.78" y1="761.9" x2="299.78" y2="763.9" stroke="#111" stroke-width="1.0"/>
<line x1="300.87" y1="761.9" x2="300.87" y2="763.9" stroke="#111" stroke-width="1.0"/>
<line x1="301.84" y1="761.9" x2="301.84" y2="763.9" stroke="#111" stroke-width="1.0"/>
<line x1="302.7" y1="761.9" x2="302.7" y2="765.7" stroke="#000" stroke-width="1.3"/>
<text transform="translate(246.07,775.2) scale(0.95,1)" font-size="6.5" text-anchor="middle" stroke="#000" stroke-width="0.22">10</text>
<text transform="translate(264.95,775.2) scale(0.95,1)" font-size="6.5" text-anchor="middle" stroke="#000" stroke-width="0.22">100</text>
<text transform="translate(283.82,775.2) scale(0.95,1)" font-size="6.5" text-anchor="middle" stroke="#000" stroke-width="0.22">1000</text>
<text transform="translate(302.7,775.2) scale(0.95,1)" font-size="6.5" text-anchor="middle" stroke="#000" stroke-width="0.22">10000</text>
<path d="M97.8,579.8 L97.8,637 L126.8,637 L126.8,579.8" fill="none" stroke="#000" stroke-width="1.15"/>
<text transform="translate(126.7,602.6)" font-size="12.6" font-weight="bold">25.8</text>
<path d="M174.4,579.8 L174.4,637 L202.5,637 L202.5,579.8" fill="none" stroke="#000" stroke-width="1.15"/>
<text transform="translate(202.4,602.6)" font-size="12.6" font-weight="bold">8.2</text>
<path d="M250.4,579.8 L250.4,637 L277.8,637 L277.8,579.8" fill="none" stroke="#000" stroke-width="1.15"/>
<text transform="translate(277.7,602.6)" font-size="12.6" font-weight="bold">11.6</text>
<rect x="99.2" y="711.3" width="40" height="50.4" fill="none" stroke="#000" stroke-width="1.15"/>
<line x1="99.2" y1="743.3" x2="139.2" y2="743.3" stroke="#000" stroke-width="1.15"/>
<text transform="translate(119.2,707.6)" font-size="12.6" font-weight="bold" text-anchor="middle">10.2</text>
<rect x="175.6" y="711.3" width="39.3" height="50.4" fill="none" stroke="#000" stroke-width="1.15"/>
<line x1="175.6" y1="743.3" x2="214.9" y2="743.3" stroke="#000" stroke-width="1.15"/>
<text transform="translate(195.25,707.6)" font-size="12.6" font-weight="bold" text-anchor="middle">2.2</text>
<rect x="250.7" y="711.3" width="40.1" height="50.4" fill="none" stroke="#000" stroke-width="1.15"/>
<line x1="250.7" y1="743.3" x2="290.8" y2="743.3" stroke="#000" stroke-width="1.15"/>
<text transform="translate(270.75,707.6)" font-size="12.6" font-weight="bold" text-anchor="middle">3.6</text>
<text transform="translate(17.9,669.3) rotate(-90)" font-size="10.8" font-weight="bold" text-anchor="middle">Day 40 after HCT</text>
<text transform="translate(33.4,668.7) rotate(-90)" font-size="10.4" font-weight="bold" text-anchor="middle">PLN</text>
<line x1="45.85" y1="756.7" x2="45.85" y2="589.5" stroke="#000" stroke-width="1.9"/>
<polygon points="45.85,582.5 41.55,592.7 45.85,590.8 50.15,592.7" fill="#000"/>
<text transform="translate(49.6,771.2) rotate(-90) scale(0.79,1)" font-size="10.6" text-anchor="middle">CCR6</text>
<text transform="translate(82.8,678.6) scale(0.87,1)" font-size="10">CD4</text>
<line x1="107.5" y1="675.2" x2="290.5" y2="675.2" stroke="#000" stroke-width="1.9"/>
<polygon points="297.5,675.2 287.5,671.3 289.3,675.2 287.5,679.1" fill="#000"/>
<text transform="translate(80.8,785.8) scale(0.87,1)" font-size="11">IL 17</text>
<line x1="107" y1="782.7" x2="290.5" y2="782.7" stroke="#000" stroke-width="1.9"/>
<polygon points="297.5,782.7 287.5,778.8 289.3,782.7 287.5,786.6" fill="#000"/>
<line x1="404.8" y1="24.1" x2="404.8" y2="87.2" stroke="#000" stroke-width="1.5"/>
<line x1="404.1" y1="86.5" x2="494.6" y2="86.5" stroke="#000" stroke-width="1.5"/>
<line x1="401" y1="86.5" x2="404.8" y2="86.5" stroke="#000" stroke-width="1.3"/>
<text transform="translate(397,90.1)" font-size="10.2" text-anchor="end">0</text>
<line x1="401" y1="74.74" x2="404.8" y2="74.74" stroke="#000" stroke-width="1.3"/>
<text transform="translate(397,78.34)" font-size="10.2" text-anchor="end">5</text>
<line x1="401" y1="62.98" x2="404.8" y2="62.98" stroke="#000" stroke-width="1.3"/>
<text transform="translate(397,66.58)" font-size="10.2" text-anchor="end">10</text>
<line x1="401" y1="51.22" x2="404.8" y2="51.22" stroke="#000" stroke-width="1.3"/>
<text transform="translate(397,54.82)" font-size="10.2" text-anchor="end">15</text>
<line x1="401" y1="39.46" x2="404.8" y2="39.46" stroke="#000" stroke-width="1.3"/>
<text transform="translate(397,43.06)" font-size="10.2" text-anchor="end">20</text>
<line x1="401" y1="27.7" x2="404.8" y2="27.7" stroke="#000" stroke-width="1.3"/>
<text transform="translate(397,31.3)" font-size="10.2" text-anchor="end">25</text>
<rect x="409.7" y="84.38" width="20.1" height="2.12" fill="#c9c9c9"/>
<line x1="419.75" y1="84.88" x2="419.75" y2="82.97" stroke="#000" stroke-width="1.5"/>
<line x1="415.05" y1="82.97" x2="424.45" y2="82.97" stroke="#000" stroke-width="1.6"/>
<rect x="439.2" y="84.15" width="19.7" height="2.35" fill="#707070"/>
<line x1="449.05" y1="84.65" x2="449.05" y2="83.21" stroke="#000" stroke-width="1.5"/>
<line x1="444.35" y1="83.21" x2="453.75" y2="83.21" stroke="#000" stroke-width="1.6"/>
<rect x="469" y="83.68" width="20" height="2.82" fill="#000"/>
<line x1="479" y1="84.18" x2="479" y2="82.97" stroke="#000" stroke-width="1.5"/>
<line x1="474.3" y1="82.97" x2="483.7" y2="82.97" stroke="#000" stroke-width="1.6"/>
<text transform="translate(364.3,54.4) rotate(-90)" font-size="11" text-anchor="middle">%IL17<tspan font-size="8" dy="-3.4">+</tspan><tspan dy="3.4">donor</tspan></text>
<text transform="translate(376.8,54.4) rotate(-90) scale(0.9,1)" font-size="11" text-anchor="middle">CD4<tspan font-size="8" dy="-3.4">+</tspan><tspan dy="3.4">T</tspan></text>
<rect x="410.1" y="20.4" width="8.2" height="7.4" fill="#c9c9c9"/>
<text x="421.5" y="27.6" font-size="9.3">25MWT</text>
<rect x="410.1" y="32.1" width="8.2" height="7.4" fill="#707070"/>
<text x="421.5" y="39.3" font-size="9.3">25MIgH<tspan font-size="5.6" dy="-3.8">μγ1</tspan></text>
<rect x="410.1" y="43.6" width="8.2" height="7.4" fill="#000"/>
<text x="421.5" y="50.8" font-size="9.3">75MIgH<tspan font-size="5.6" dy="-3.8">μγ1</tspan></text>
<line x1="404.8" y1="112.65" x2="404.8" y2="176.1" stroke="#000" stroke-width="1.5"/>
<line x1="404.1" y1="175.4" x2="494.6" y2="175.4" stroke="#000" stroke-width="1.5"/>
<line x1="401" y1="175.4" x2="404.8" y2="175.4" stroke="#000" stroke-width="1.3"/>
<text transform="translate(397,179)" font-size="10.2" text-anchor="end">0</text>
<line x1="401" y1="163.57" x2="404.8" y2="163.57" stroke="#000" stroke-width="1.3"/>
<text transform="translate(397,167.17)" font-size="10.2" text-anchor="end">5</text>
<line x1="401" y1="151.74" x2="404.8" y2="151.74" stroke="#000" stroke-width="1.3"/>
<text transform="translate(397,155.34)" font-size="10.2" text-anchor="end">10</text>
<line x1="401" y1="139.91" x2="404.8" y2="139.91" stroke="#000" stroke-width="1.3"/>
<text transform="translate(397,143.51)" font-size="10.2" text-anchor="end">15</text>
<line x1="401" y1="128.08" x2="404.8" y2="128.08" stroke="#000" stroke-width="1.3"/>
<text transform="translate(397,131.68)" font-size="10.2" text-anchor="end">20</text>
<line x1="401" y1="116.25" x2="404.8" y2="116.25" stroke="#000" stroke-width="1.3"/>
<text transform="translate(397,119.85)" font-size="10.2" text-anchor="end">25</text>
<rect x="409.7" y="137.31" width="20.1" height="38.09" fill="#c9c9c9"/>
<line x1="419.75" y1="137.81" x2="419.75" y2="132.1" stroke="#000" stroke-width="1.5"/>
<line x1="415.05" y1="132.1" x2="424.45" y2="132.1" stroke="#000" stroke-width="1.6"/>
<rect x="439.2" y="166.65" width="19.7" height="8.75" fill="#707070"/>
<line x1="449.05" y1="167.15" x2="449.05" y2="164.52" stroke="#000" stroke-width="1.5"/>
<line x1="444.35" y1="164.52" x2="453.75" y2="164.52" stroke="#000" stroke-width="1.6"/>
<rect x="469" y="146.77" width="20" height="28.63" fill="#000"/>
<line x1="479" y1="147.27" x2="479" y2="142.51" stroke="#000" stroke-width="1.5"/>
<line x1="474.3" y1="142.51" x2="483.7" y2="142.51" stroke="#000" stroke-width="1.6"/>
<line x1="416" y1="115.8" x2="441.8" y2="115.8" stroke="#000" stroke-width="1.5"/>
<text x="429.85" y="115.4" font-size="8.2" font-weight="bold" text-anchor="middle" letter-spacing="1.9">**</text>
<line x1="450.5" y1="115.8" x2="476.4" y2="115.8" stroke="#000" stroke-width="1.5"/>
<text x="464.4" y="115.4" font-size="8.2" font-weight="bold" text-anchor="middle" letter-spacing="1.9">**</text>
<text transform="translate(364.3,143.12) rotate(-90)" font-size="11" text-anchor="middle">%IL17<tspan font-size="8" dy="-3.4">+</tspan><tspan dy="3.4">donor</tspan></text>
<text transform="translate(376.8,143.12) rotate(-90) scale(0.9,1)" font-size="11" text-anchor="middle">CD4<tspan font-size="8" dy="-3.4">+</tspan><tspan dy="3.4">T</tspan></text>
<line x1="404.8" y1="192.1" x2="404.8" y2="255" stroke="#000" stroke-width="1.5"/>
<line x1="404.1" y1="254.3" x2="494.6" y2="254.3" stroke="#000" stroke-width="1.5"/>
<line x1="401" y1="254.3" x2="404.8" y2="254.3" stroke="#000" stroke-width="1.3"/>
<text transform="translate(397,257.9)" font-size="10.2" text-anchor="end">0</text>
<line x1="401" y1="242.58" x2="404.8" y2="242.58" stroke="#000" stroke-width="1.3"/>
<text transform="translate(397,246.18)" font-size="10.2" text-anchor="end">5</text>
<line x1="401" y1="230.86" x2="404.8" y2="230.86" stroke="#000" stroke-width="1.3"/>
<text transform="translate(397,234.46)" font-size="10.2" text-anchor="end">10</text>
<line x1="401" y1="219.14" x2="404.8" y2="219.14" stroke="#000" stroke-width="1.3"/>
<text transform="translate(397,222.74)" font-size="10.2" text-anchor="end">15</text>
<line x1="401" y1="207.42" x2="404.8" y2="207.42" stroke="#000" stroke-width="1.3"/>
<text transform="translate(397,211.02)" font-size="10.2" text-anchor="end">20</text>
<line x1="401" y1="195.7" x2="404.8" y2="195.7" stroke="#000" stroke-width="1.3"/>
<text transform="translate(397,199.3)" font-size="10.2" text-anchor="end">25</text>
<rect x="409.7" y="251.96" width="20.1" height="2.34" fill="#c9c9c9"/>
<line x1="419.75" y1="252.46" x2="419.75" y2="250.08" stroke="#000" stroke-width="1.5"/>
<line x1="415.05" y1="250.08" x2="424.45" y2="250.08" stroke="#000" stroke-width="1.6"/>
<rect x="439.2" y="252.42" width="19.7" height="1.88" fill="#707070"/>
<line x1="449.05" y1="252.92" x2="449.05" y2="251.49" stroke="#000" stroke-width="1.5"/>
<line x1="444.35" y1="251.49" x2="453.75" y2="251.49" stroke="#000" stroke-width="1.6"/>
<rect x="469" y="250.08" width="20" height="4.22" fill="#000"/>
<line x1="479" y1="250.58" x2="479" y2="249.14" stroke="#000" stroke-width="1.5"/>
<line x1="474.3" y1="249.14" x2="483.7" y2="249.14" stroke="#000" stroke-width="1.6"/>
<text transform="translate(364.3,222.3) rotate(-90)" font-size="11" text-anchor="middle">%IL17<tspan font-size="8" dy="-3.4">+</tspan><tspan dy="3.4">donor</tspan></text>
<text transform="translate(376.8,222.3) rotate(-90) scale(0.9,1)" font-size="11" text-anchor="middle">CD4<tspan font-size="8" dy="-3.4">+</tspan><tspan dy="3.4">T</tspan></text>
<line x1="404.8" y1="301.8" x2="404.8" y2="364.7" stroke="#000" stroke-width="1.5"/>
<line x1="404.1" y1="364" x2="494.6" y2="364" stroke="#000" stroke-width="1.5"/>
<line x1="401" y1="364" x2="404.8" y2="364" stroke="#000" stroke-width="1.3"/>
<text transform="translate(397,367.6)" font-size="10.2" text-anchor="end">0</text>
<line x1="401" y1="352.28" x2="404.8" y2="352.28" stroke="#000" stroke-width="1.3"/>
<text transform="translate(397,355.88)" font-size="10.2" text-anchor="end">5</text>
<line x1="401" y1="340.56" x2="404.8" y2="340.56" stroke="#000" stroke-width="1.3"/>
<text transform="translate(397,344.16)" font-size="10.2" text-anchor="end">10</text>
<line x1="401" y1="328.84" x2="404.8" y2="328.84" stroke="#000" stroke-width="1.3"/>
<text transform="translate(397,332.44)" font-size="10.2" text-anchor="end">15</text>
<line x1="401" y1="317.12" x2="404.8" y2="317.12" stroke="#000" stroke-width="1.3"/>
<text transform="translate(397,320.72)" font-size="10.2" text-anchor="end">20</text>
<line x1="401" y1="305.4" x2="404.8" y2="305.4" stroke="#000" stroke-width="1.3"/>
<text transform="translate(397,309)" font-size="10.2" text-anchor="end">25</text>
<rect x="409.7" y="360.25" width="20.1" height="3.75" fill="#c9c9c9"/>
<line x1="419.75" y1="360.75" x2="419.75" y2="358.61" stroke="#000" stroke-width="1.5"/>
<line x1="415.05" y1="358.61" x2="424.45" y2="358.61" stroke="#000" stroke-width="1.6"/>
<rect x="439.2" y="362.59" width="19.7" height="1.41" fill="#707070"/>
<line x1="449.05" y1="363.09" x2="449.05" y2="361.89" stroke="#000" stroke-width="1.5"/>
<line x1="444.35" y1="361.89" x2="453.75" y2="361.89" stroke="#000" stroke-width="1.6"/>
<rect x="469" y="362.12" width="20" height="1.88" fill="#000"/>
<line x1="479" y1="362.62" x2="479" y2="361.42" stroke="#000" stroke-width="1.5"/>
<line x1="474.3" y1="361.42" x2="483.7" y2="361.42" stroke="#000" stroke-width="1.6"/>
<text transform="translate(364.3,332) rotate(-90)" font-size="11" text-anchor="middle">%IL17<tspan font-size="8" dy="-3.4">+</tspan><tspan dy="3.4">donor</tspan></text>
<text transform="translate(376.8,332) rotate(-90) scale(0.9,1)" font-size="11" text-anchor="middle">CD4<tspan font-size="8" dy="-3.4">+</tspan><tspan dy="3.4">T</tspan></text>
<rect x="409.9" y="297.6" width="8.2" height="7.4" fill="#c9c9c9"/>
<text x="421.3" y="304.8" font-size="9.3">25MWT</text>
<rect x="409.9" y="309.6" width="8.2" height="7.4" fill="#707070"/>
<text x="421.3" y="316.8" font-size="9.3">25MIgH<tspan font-size="5.6" dy="-3.8">μγ1</tspan></text>
<rect x="409.9" y="321.1" width="8.2" height="7.4" fill="#000"/>
<text x="421.3" y="328.3" font-size="9.3">75MIgH<tspan font-size="5.6" dy="-3.8">μγ1</tspan></text>
<line x1="404.8" y1="390.7" x2="404.8" y2="454.4" stroke="#000" stroke-width="1.5"/>
<line x1="404.1" y1="453.7" x2="494.6" y2="453.7" stroke="#000" stroke-width="1.5"/>
<line x1="401" y1="453.7" x2="404.8" y2="453.7" stroke="#000" stroke-width="1.3"/>
<text transform="translate(397,457.3)" font-size="10.2" text-anchor="end">0</text>
<line x1="401" y1="441.82" x2="404.8" y2="441.82" stroke="#000" stroke-width="1.3"/>
<text transform="translate(397,445.42)" font-size="10.2" text-anchor="end">5</text>
<line x1="401" y1="429.94" x2="404.8" y2="429.94" stroke="#000" stroke-width="1.3"/>
<text transform="translate(397,433.54)" font-size="10.2" text-anchor="end">10</text>
<line x1="401" y1="418.06" x2="404.8" y2="418.06" stroke="#000" stroke-width="1.3"/>
<text transform="translate(397,421.66)" font-size="10.2" text-anchor="end">15</text>
<line x1="401" y1="406.18" x2="404.8" y2="406.18" stroke="#000" stroke-width="1.3"/>
<text transform="translate(397,409.78)" font-size="10.2" text-anchor="end">20</text>
<line x1="401" y1="394.3" x2="404.8" y2="394.3" stroke="#000" stroke-width="1.3"/>
<text transform="translate(397,397.9)" font-size="10.2" text-anchor="end">25</text>
<rect x="409.7" y="414.5" width="20.1" height="39.2" fill="#c9c9c9"/>
<line x1="419.75" y1="415" x2="419.75" y2="406.66" stroke="#000" stroke-width="1.5"/>
<line x1="415.05" y1="406.66" x2="424.45" y2="406.66" stroke="#000" stroke-width="1.6"/>
<rect x="439.2" y="449.19" width="19.7" height="4.51" fill="#707070"/>
<line x1="449.05" y1="449.69" x2="449.05" y2="447.28" stroke="#000" stroke-width="1.5"/>
<line x1="444.35" y1="447.28" x2="453.75" y2="447.28" stroke="#000" stroke-width="1.6"/>
<rect x="469" y="415.45" width="20" height="38.25" fill="#000"/>
<line x1="479" y1="415.95" x2="479" y2="410.93" stroke="#000" stroke-width="1.5"/>
<line x1="474.3" y1="410.93" x2="483.7" y2="410.93" stroke="#000" stroke-width="1.6"/>
<line x1="415.8" y1="394.2" x2="442.3" y2="394.2" stroke="#000" stroke-width="1.5"/>
<text x="430" y="393.8" font-size="8.2" font-weight="bold" text-anchor="middle" letter-spacing="1.9">***</text>
<line x1="450.4" y1="394.2" x2="476.3" y2="394.2" stroke="#000" stroke-width="1.5"/>
<text x="464.3" y="393.8" font-size="8.2" font-weight="bold" text-anchor="middle" letter-spacing="1.9">***</text>
<text transform="translate(364.3,421.3) rotate(-90)" font-size="11" text-anchor="middle">%IL17<tspan font-size="8" dy="-3.4">+</tspan><tspan dy="3.4">donor</tspan></text>
<text transform="translate(376.8,421.3) rotate(-90) scale(0.9,1)" font-size="11" text-anchor="middle">CD4<tspan font-size="8" dy="-3.4">+</tspan><tspan dy="3.4">T</tspan></text>
<line x1="404.8" y1="479.3" x2="404.8" y2="542.7" stroke="#000" stroke-width="1.5"/>
<line x1="404.1" y1="542" x2="494.6" y2="542" stroke="#000" stroke-width="1.5"/>
<line x1="401" y1="542" x2="404.8" y2="542" stroke="#000" stroke-width="1.3"/>
<text transform="translate(397,545.6)" font-size="10.2" text-anchor="end">0</text>
<line x1="401" y1="530.18" x2="404.8" y2="530.18" stroke="#000" stroke-width="1.3"/>
<text transform="translate(397,533.78)" font-size="10.2" text-anchor="end">5</text>
<line x1="401" y1="518.36" x2="404.8" y2="518.36" stroke="#000" stroke-width="1.3"/>
<text transform="translate(397,521.96)" font-size="10.2" text-anchor="end">10</text>
<line x1="401" y1="506.54" x2="404.8" y2="506.54" stroke="#000" stroke-width="1.3"/>
<text transform="translate(397,510.14)" font-size="10.2" text-anchor="end">15</text>
<line x1="401" y1="494.72" x2="404.8" y2="494.72" stroke="#000" stroke-width="1.3"/>
<text transform="translate(397,498.32)" font-size="10.2" text-anchor="end">20</text>
<line x1="401" y1="482.9" x2="404.8" y2="482.9" stroke="#000" stroke-width="1.3"/>
<text transform="translate(397,486.5)" font-size="10.2" text-anchor="end">25</text>
<rect x="409.7" y="501.34" width="20.1" height="40.66" fill="#c9c9c9"/>
<line x1="419.75" y1="501.84" x2="419.75" y2="494.96" stroke="#000" stroke-width="1.5"/>
<line x1="415.05" y1="494.96" x2="424.45" y2="494.96" stroke="#000" stroke-width="1.6"/>
<rect x="439.2" y="530.65" width="19.7" height="11.35" fill="#707070"/>
<line x1="449.05" y1="531.15" x2="449.05" y2="528.53" stroke="#000" stroke-width="1.5"/>
<line x1="444.35" y1="528.53" x2="453.75" y2="528.53" stroke="#000" stroke-width="1.6"/>
<rect x="469" y="530.65" width="20" height="11.35" fill="#000"/>
<line x1="479" y1="531.15" x2="479" y2="528.53" stroke="#000" stroke-width="1.5"/>
<line x1="474.3" y1="528.53" x2="483.7" y2="528.53" stroke="#000" stroke-width="1.6"/>
<line x1="413.5" y1="473" x2="482.2" y2="473" stroke="#000" stroke-width="1.5"/>
<text x="448.8" y="472.6" font-size="8.2" font-weight="bold" text-anchor="middle" letter-spacing="1.9">**</text>
<line x1="415.8" y1="483" x2="441" y2="483" stroke="#000" stroke-width="1.5"/>
<text x="429.35" y="482.6" font-size="8.2" font-weight="bold" text-anchor="middle" letter-spacing="1.9">**</text>
<text transform="translate(364.3,509.75) rotate(-90)" font-size="11" text-anchor="middle">%IL17<tspan font-size="8" dy="-3.4">+</tspan><tspan dy="3.4">donor</tspan></text>
<text transform="translate(376.8,509.75) rotate(-90) scale(0.9,1)" font-size="11" text-anchor="middle">CD4<tspan font-size="8" dy="-3.4">+</tspan><tspan dy="3.4">T</tspan></text>
<line x1="404.8" y1="599.8" x2="404.8" y2="662.6" stroke="#000" stroke-width="1.5"/>
<line x1="404.1" y1="661.9" x2="494.6" y2="661.9" stroke="#000" stroke-width="1.5"/>
<line x1="401" y1="661.9" x2="404.8" y2="661.9" stroke="#000" stroke-width="1.3"/>
<text transform="translate(397,665.5)" font-size="10.2" text-anchor="end">0</text>
<line x1="401" y1="642.4" x2="404.8" y2="642.4" stroke="#000" stroke-width="1.3"/>
<text transform="translate(397,646)" font-size="10.2" text-anchor="end">10</text>
<line x1="401" y1="622.9" x2="404.8" y2="622.9" stroke="#000" stroke-width="1.3"/>
<text transform="translate(397,626.5)" font-size="10.2" text-anchor="end">20</text>
<line x1="401" y1="603.4" x2="404.8" y2="603.4" stroke="#000" stroke-width="1.3"/>
<text transform="translate(397,607)" font-size="10.2" text-anchor="end">30</text>
<rect x="409.7" y="611.39" width="20.1" height="50.5" fill="#c9c9c9"/>
<line x1="419.75" y1="611.89" x2="419.75" y2="607.69" stroke="#000" stroke-width="1.5"/>
<line x1="415.05" y1="607.69" x2="424.45" y2="607.69" stroke="#000" stroke-width="1.6"/>
<rect x="439.2" y="638.69" width="19.7" height="23.21" fill="#707070"/>
<line x1="449.05" y1="639.19" x2="449.05" y2="634.79" stroke="#000" stroke-width="1.5"/>
<line x1="444.35" y1="634.79" x2="453.75" y2="634.79" stroke="#000" stroke-width="1.6"/>
<rect x="469" y="631.48" width="20" height="30.42" fill="#000"/>
<line x1="479" y1="631.98" x2="479" y2="623.68" stroke="#000" stroke-width="1.5"/>
<line x1="474.3" y1="623.68" x2="483.7" y2="623.68" stroke="#000" stroke-width="1.6"/>
<line x1="418.7" y1="602.5" x2="446.2" y2="602.5" stroke="#000" stroke-width="1.5"/>
<text x="433.4" y="602.1" font-size="8.2" font-weight="bold" text-anchor="middle" letter-spacing="1.9">**</text>
<text transform="translate(379.1,629.95) rotate(-90) scale(0.944,1)" font-size="11" text-anchor="middle">%CCR6<tspan font-size="8" dy="-3.4">+</tspan><tspan dy="3.4">CD4</tspan><tspan font-size="8" dy="-3.4">+</tspan><tspan dy="3.4">T</tspan></text>
<rect x="456.2" y="585.2" width="8.2" height="7.4" fill="#c9c9c9"/>
<text x="467.6" y="592.4" font-size="9.3">25MWT</text>
<rect x="456.2" y="597.3" width="8.2" height="7.4" fill="#707070"/>
<text x="467.6" y="604.5" font-size="9.3">25MIgH<tspan font-size="5.6" dy="-3.8">μγ1</tspan></text>
<rect x="456.2" y="609.2" width="8.2" height="7.4" fill="#000"/>
<text x="467.6" y="616.4" font-size="9.3">75MIgH<tspan font-size="5.6" dy="-3.8">μγ1</tspan></text>
<line x1="404.8" y1="698.3" x2="404.8" y2="761.1" stroke="#000" stroke-width="1.5"/>
<line x1="404.1" y1="760.4" x2="494.6" y2="760.4" stroke="#000" stroke-width="1.5"/>
<line x1="401" y1="760.4" x2="404.8" y2="760.4" stroke="#000" stroke-width="1.3"/>
<text transform="translate(397,764)" font-size="10.2" text-anchor="end">0</text>
<line x1="401" y1="740.9" x2="404.8" y2="740.9" stroke="#000" stroke-width="1.3"/>
<text transform="translate(397,744.5)" font-size="10.2" text-anchor="end">10</text>
<line x1="401" y1="721.4" x2="404.8" y2="721.4" stroke="#000" stroke-width="1.3"/>
<text transform="translate(397,725)" font-size="10.2" text-anchor="end">20</text>
<line x1="401" y1="701.9" x2="404.8" y2="701.9" stroke="#000" stroke-width="1.3"/>
<text transform="translate(397,705.5)" font-size="10.2" text-anchor="end">30</text>
<rect x="409.7" y="735.05" width="20.1" height="25.35" fill="#c9c9c9"/>
<line x1="419.75" y1="735.55" x2="419.75" y2="730.95" stroke="#000" stroke-width="1.5"/>
<line x1="415.05" y1="730.95" x2="424.45" y2="730.95" stroke="#000" stroke-width="1.6"/>
<rect x="439.2" y="757.28" width="19.7" height="3.12" fill="#707070"/>
<line x1="449.05" y1="757.78" x2="449.05" y2="756.5" stroke="#000" stroke-width="1.5"/>
<line x1="444.35" y1="756.5" x2="453.75" y2="756.5" stroke="#000" stroke-width="1.6"/>
<rect x="469" y="751.04" width="20" height="9.36" fill="#000"/>
<line x1="479" y1="751.54" x2="479" y2="749.67" stroke="#000" stroke-width="1.5"/>
<line x1="474.3" y1="749.67" x2="483.7" y2="749.67" stroke="#000" stroke-width="1.6"/>
<line x1="419.2" y1="700.8" x2="478.2" y2="700.8" stroke="#000" stroke-width="1.5"/>
<text x="449.65" y="700.4" font-size="8.2" font-weight="bold" text-anchor="middle" letter-spacing="1.9">**</text>
<line x1="419.2" y1="711.9" x2="450.9" y2="711.9" stroke="#000" stroke-width="1.5"/>
<text x="436" y="711.5" font-size="8.2" font-weight="bold" text-anchor="middle" letter-spacing="1.9">**</text>
<text transform="translate(364.3,728.45) rotate(-90) scale(0.95,1)" font-size="11" text-anchor="middle">%CCR6<tspan font-size="8" dy="-3.4">+</tspan><tspan dy="3.4">IL17</tspan><tspan font-size="8" dy="-3.4">+</tspan></text>
<text transform="translate(376.8,728.45) rotate(-90) scale(0.9,1)" font-size="11" text-anchor="middle">CD4<tspan font-size="8" dy="-3.4">+</tspan><tspan dy="3.4">T</tspan></text>
<line x1="95.4" y1="804.3" x2="95.4" y2="869.3" stroke="#000" stroke-width="1.4"/>
<line x1="94.7" y1="868.6" x2="191.2" y2="868.6" stroke="#000" stroke-width="1.4"/>
<line x1="92.2" y1="868.6" x2="95.4" y2="868.6" stroke="#000" stroke-width="1.2"/>
<text transform="translate(90.4,871.6)" font-size="8.2" text-anchor="end">0</text>
<line x1="92.2" y1="847.4" x2="95.4" y2="847.4" stroke="#000" stroke-width="1.2"/>
<text transform="translate(90.4,850.4)" font-size="8.2" text-anchor="end">10</text>
<line x1="92.2" y1="826.2" x2="95.4" y2="826.2" stroke="#000" stroke-width="1.2"/>
<text transform="translate(90.4,829.2)" font-size="8.2" text-anchor="end">20</text>
<line x1="92.2" y1="805" x2="95.4" y2="805" stroke="#000" stroke-width="1.2"/>
<text transform="translate(90.4,808)" font-size="8.2" text-anchor="end">30</text>
<rect x="100.7" y="857.36" width="9.2" height="11.24" fill="#c9c9c9"/>
<line x1="105.3" y1="857.36" x2="105.3" y2="854.82" stroke="#000" stroke-width="1.2"/>
<line x1="102.1" y1="854.82" x2="108.5" y2="854.82" stroke="#000" stroke-width="1.3"/>
<rect x="113.2" y="821.96" width="8.7" height="46.64" fill="#000"/>
<line x1="117.55" y1="821.96" x2="117.55" y2="817.93" stroke="#000" stroke-width="1.2"/>
<line x1="114.35" y1="817.93" x2="120.75" y2="817.93" stroke="#000" stroke-width="1.3"/>
<rect x="133" y="863.3" width="8.5" height="5.3" fill="#c9c9c9"/>
<line x1="137.25" y1="863.3" x2="137.25" y2="862.03" stroke="#000" stroke-width="1.2"/>
<line x1="134.05" y1="862.03" x2="140.45" y2="862.03" stroke="#000" stroke-width="1.3"/>
<rect x="144.5" y="863.09" width="9" height="5.51" fill="#000"/>
<line x1="149" y1="863.09" x2="149" y2="862.45" stroke="#000" stroke-width="1.2"/>
<line x1="145.8" y1="862.45" x2="152.2" y2="862.45" stroke="#000" stroke-width="1.3"/>
<rect x="164.6" y="862.24" width="8.8" height="6.36" fill="#c9c9c9"/>
<line x1="169" y1="862.24" x2="169" y2="861.18" stroke="#000" stroke-width="1.2"/>
<line x1="165.8" y1="861.18" x2="172.2" y2="861.18" stroke="#000" stroke-width="1.3"/>
<rect x="176.2" y="861.6" width="9.2" height="7" fill="#000"/>
<line x1="180.8" y1="861.6" x2="180.8" y2="860.76" stroke="#000" stroke-width="1.2"/>
<line x1="177.6" y1="860.76" x2="184" y2="860.76" stroke="#000" stroke-width="1.3"/>
<line x1="103" y1="810.3" x2="117.8" y2="810.3" stroke="#000" stroke-width="1.4"/>
<text x="111.6" y="807" font-size="9" font-weight="bold" text-anchor="middle" letter-spacing="2.4">**</text>
<rect x="152" y="806" width="8.5" height="7" fill="#c9c9c9"/>
<rect x="152" y="816.5" width="8.5" height="7" fill="#000"/>
<text transform="translate(162.8,813.2)" font-size="9.6">D40</text>
<text transform="translate(162.8,823.7)" font-size="9.6">D60</text>
<text transform="translate(110.8,875.8)" font-size="8" text-anchor="middle">25M</text>
<text transform="translate(110.8,883.6)" font-size="8" text-anchor="middle">WT</text>
<text transform="translate(142.7,875.8)" font-size="8" text-anchor="middle">25M</text>
<text x="140.2" y="883.6" font-size="8" text-anchor="middle">IgH<tspan font-size="5" dy="-3">μγ1</tspan></text>
<text transform="translate(175,875.8)" font-size="8" text-anchor="middle">75M</text>
<text x="172.5" y="883.6" font-size="8" text-anchor="middle">IgH<tspan font-size="5" dy="-3">μγ1</tspan></text>
<text transform="translate(56.2,837.6) rotate(-90)" font-size="10" text-anchor="middle">Relative expression</text>
<text transform="translate(68.4,837.6) rotate(-90)" font-size="10" text-anchor="middle">of CCL20 in skin</text>
<line x1="404.6" y1="795.3" x2="481.8" y2="795.3" stroke="#000" stroke-width="1.4"/>
<line x1="481.8" y1="795.3" x2="481.8" y2="871.5" stroke="#000" stroke-width="1.4"/>
<line x1="404.6" y1="871.5" x2="481.8" y2="871.5" stroke="#000" stroke-width="1.5"/>
<line x1="404.6" y1="795.3" x2="404.6" y2="874.9" stroke="#000" stroke-width="1.6"/>
<line x1="400.6" y1="795.3" x2="404.6" y2="795.3" stroke="#000" stroke-width="1.2"/>
<line x1="402.4" y1="801.03" x2="404.6" y2="801.03" stroke="#111" stroke-width="1.0"/>
<line x1="400.6" y1="814.35" x2="404.6" y2="814.35" stroke="#000" stroke-width="1.2"/>
<line x1="402.4" y1="820.08" x2="404.6" y2="820.08" stroke="#111" stroke-width="1.0"/>
<line x1="400.6" y1="833.4" x2="404.6" y2="833.4" stroke="#000" stroke-width="1.2"/>
<line x1="402.4" y1="839.13" x2="404.6" y2="839.13" stroke="#111" stroke-width="1.0"/>
<line x1="400.6" y1="852.45" x2="404.6" y2="852.45" stroke="#000" stroke-width="1.2"/>
<line x1="402.4" y1="858.18" x2="404.6" y2="858.18" stroke="#111" stroke-width="1.0"/>
<line x1="400.6" y1="871.5" x2="404.6" y2="871.5" stroke="#000" stroke-width="1.2"/>
<line x1="404.6" y1="871.5" x2="404.6" y2="875.3" stroke="#000" stroke-width="1.3"/>
<line x1="410.41" y1="871.5" x2="410.41" y2="873.5" stroke="#111" stroke-width="1.0"/>
<line x1="413.81" y1="871.5" x2="413.81" y2="873.5" stroke="#111" stroke-width="1.0"/>
<line x1="416.22" y1="871.5" x2="416.22" y2="873.5" stroke="#111" stroke-width="1.0"/>
<line x1="418.09" y1="871.5" x2="418.09" y2="873.9" stroke="#111" stroke-width="1.0"/>
<line x1="419.62" y1="871.5" x2="419.62" y2="873.5" stroke="#111" stroke-width="1.0"/>
<line x1="420.91" y1="871.5" x2="420.91" y2="873.5" stroke="#111" stroke-width="1.0"/>
<line x1="422.03" y1="871.5" x2="422.03" y2="873.5" stroke="#111" stroke-width="1.0"/>
<line x1="423.02" y1="871.5" x2="423.02" y2="873.5" stroke="#111" stroke-width="1.0"/>
<line x1="423.9" y1="871.5" x2="423.9" y2="875.3" stroke="#000" stroke-width="1.3"/>
<line x1="429.71" y1="871.5" x2="429.71" y2="873.5" stroke="#111" stroke-width="1.0"/>
<line x1="433.11" y1="871.5" x2="433.11" y2="873.5" stroke="#111" stroke-width="1.0"/>
<line x1="435.52" y1="871.5" x2="435.52" y2="873.5" stroke="#111" stroke-width="1.0"/>
<line x1="437.39" y1="871.5" x2="437.39" y2="873.9" stroke="#111" stroke-width="1.0"/>
<line x1="438.92" y1="871.5" x2="438.92" y2="873.5" stroke="#111" stroke-width="1.0"/>
<line x1="440.21" y1="871.5" x2="440.21" y2="873.5" stroke="#111" stroke-width="1.0"/>
<line x1="441.33" y1="871.5" x2="441.33" y2="873.5" stroke="#111" stroke-width="1.0"/>
<line x1="442.32" y1="871.5" x2="442.32" y2="873.5" stroke="#111" stroke-width="1.0"/>
<line x1="443.2" y1="871.5" x2="443.2" y2="875.3" stroke="#000" stroke-width="1.3"/>
<line x1="449.01" y1="871.5" x2="449.01" y2="873.5" stroke="#111" stroke-width="1.0"/>
<line x1="452.41" y1="871.5" x2="452.41" y2="873.5" stroke="#111" stroke-width="1.0"/>
<line x1="454.82" y1="871.5" x2="454.82" y2="873.5" stroke="#111" stroke-width="1.0"/>
<line x1="456.69" y1="871.5" x2="456.69" y2="873.9" stroke="#111" stroke-width="1.0"/>
<line x1="458.22" y1="871.5" x2="458.22" y2="873.5" stroke="#111" stroke-width="1.0"/>
<line x1="459.51" y1="871.5" x2="459.51" y2="873.5" stroke="#111" stroke-width="1.0"/>
<line x1="460.63" y1="871.5" x2="460.63" y2="873.5" stroke="#111" stroke-width="1.0"/>
<line x1="461.62" y1="871.5" x2="461.62" y2="873.5" stroke="#111" stroke-width="1.0"/>
<line x1="462.5" y1="871.5" x2="462.5" y2="875.3" stroke="#000" stroke-width="1.3"/>
<line x1="468.31" y1="871.5" x2="468.31" y2="873.5" stroke="#111" stroke-width="1.0"/>
<line x1="471.71" y1="871.5" x2="471.71" y2="873.5" stroke="#111" stroke-width="1.0"/>
<line x1="474.12" y1="871.5" x2="474.12" y2="873.5" stroke="#111" stroke-width="1.0"/>
<line x1="475.99" y1="871.5" x2="475.99" y2="873.9" stroke="#111" stroke-width="1.0"/>
<line x1="477.52" y1="871.5" x2="477.52" y2="873.5" stroke="#111" stroke-width="1.0"/>
<line x1="478.81" y1="871.5" x2="478.81" y2="873.5" stroke="#111" stroke-width="1.0"/>
<line x1="479.93" y1="871.5" x2="479.93" y2="873.5" stroke="#111" stroke-width="1.0"/>
<line x1="480.92" y1="871.5" x2="480.92" y2="873.5" stroke="#111" stroke-width="1.0"/>
<line x1="481.8" y1="871.5" x2="481.8" y2="875.3" stroke="#000" stroke-width="1.3"/>
<text transform="translate(400.1,797.7) scale(0.9,1)" font-size="7.2" text-anchor="end" stroke="#000" stroke-width="0.2">10000</text>
<text transform="translate(400.1,816.75) scale(0.9,1)" font-size="7.2" text-anchor="end" stroke="#000" stroke-width="0.2">1000</text>
<text transform="translate(400.1,835.8) scale(0.9,1)" font-size="7.2" text-anchor="end" stroke="#000" stroke-width="0.2">100</text>
<text transform="translate(400.1,854.85) scale(0.9,1)" font-size="7.2" text-anchor="end" stroke="#000" stroke-width="0.2">10</text>
<text transform="translate(400.1,873.9) scale(0.9,1)" font-size="7.2" text-anchor="end" stroke="#000" stroke-width="0.2">1</text>
<text transform="translate(405.6,886.2) scale(0.9,1)" font-size="7.2" text-anchor="middle" stroke="#000" stroke-width="0.2">1</text>
<text transform="translate(424.9,886.2) scale(0.9,1)" font-size="7.2" text-anchor="middle" stroke="#000" stroke-width="0.2">10</text>
<text transform="translate(444.2,886.2) scale(0.9,1)" font-size="7.2" text-anchor="middle" stroke="#000" stroke-width="0.2">100</text>
<text transform="translate(463.5,886.2) scale(0.9,1)" font-size="7.2" text-anchor="middle" stroke="#000" stroke-width="0.2">1000</text>
<text transform="translate(482.8,886.2) scale(0.9,1)" font-size="7.2" text-anchor="middle" stroke="#000" stroke-width="0.2">10000</text>
<path d="M424.4,795.3 L424.4,848.7 L458,848.7 L458,795.3" fill="none" stroke="#000" stroke-width="1.15"/>
<text transform="translate(457.6,821.2)" font-size="12.6" font-weight="bold">11.1</text>
<text transform="translate(360.8,833.2) rotate(-90)" font-size="11" text-anchor="middle">Day 50 after HCT</text>
<text transform="translate(376.4,833.6) rotate(-90)" font-size="11" text-anchor="middle">IL17</text>
</svg></body></html>
